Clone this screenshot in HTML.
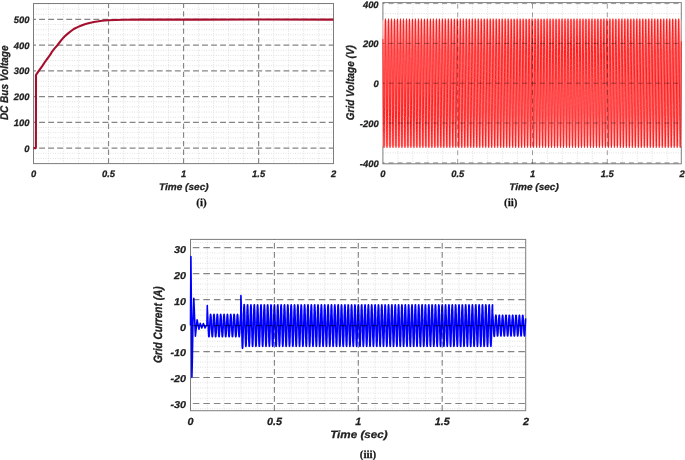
<!DOCTYPE html>
<html><head><meta charset="utf-8"><style>
html,body{margin:0;padding:0;background:#fff;}
svg{display:block;will-change:transform;}
text{font-family:"Liberation Sans",sans-serif;font-weight:bold;font-style:italic;fill:#222;stroke:#222;stroke-width:0.25px;text-rendering:geometricPrecision;}
text.cap{font-family:"Liberation Serif",serif;font-style:normal;font-weight:bold;fill:#111;}
</style></head><body>
<svg width="685" height="460" viewBox="0 0 685 460">
<g>
<rect width="685" height="460" fill="#fff"/>
<line x1="48.51" y1="163.6" x2="48.51" y2="3.5" stroke="#dadada" stroke-width="0.9" stroke-dasharray="0.9 1.5"/>
<line x1="63.51" y1="163.6" x2="63.51" y2="3.5" stroke="#dadada" stroke-width="0.9" stroke-dasharray="0.9 1.5"/>
<line x1="78.52" y1="163.6" x2="78.52" y2="3.5" stroke="#dadada" stroke-width="0.9" stroke-dasharray="0.9 1.5"/>
<line x1="93.53" y1="163.6" x2="93.53" y2="3.5" stroke="#dadada" stroke-width="0.9" stroke-dasharray="0.9 1.5"/>
<line x1="123.54" y1="163.6" x2="123.54" y2="3.5" stroke="#dadada" stroke-width="0.9" stroke-dasharray="0.9 1.5"/>
<line x1="138.55" y1="163.6" x2="138.55" y2="3.5" stroke="#dadada" stroke-width="0.9" stroke-dasharray="0.9 1.5"/>
<line x1="153.56" y1="163.6" x2="153.56" y2="3.5" stroke="#dadada" stroke-width="0.9" stroke-dasharray="0.9 1.5"/>
<line x1="168.56" y1="163.6" x2="168.56" y2="3.5" stroke="#dadada" stroke-width="0.9" stroke-dasharray="0.9 1.5"/>
<line x1="198.58" y1="163.6" x2="198.58" y2="3.5" stroke="#dadada" stroke-width="0.9" stroke-dasharray="0.9 1.5"/>
<line x1="213.58" y1="163.6" x2="213.58" y2="3.5" stroke="#dadada" stroke-width="0.9" stroke-dasharray="0.9 1.5"/>
<line x1="228.59" y1="163.6" x2="228.59" y2="3.5" stroke="#dadada" stroke-width="0.9" stroke-dasharray="0.9 1.5"/>
<line x1="243.6" y1="163.6" x2="243.6" y2="3.5" stroke="#dadada" stroke-width="0.9" stroke-dasharray="0.9 1.5"/>
<line x1="273.61" y1="163.6" x2="273.61" y2="3.5" stroke="#dadada" stroke-width="0.9" stroke-dasharray="0.9 1.5"/>
<line x1="288.62" y1="163.6" x2="288.62" y2="3.5" stroke="#dadada" stroke-width="0.9" stroke-dasharray="0.9 1.5"/>
<line x1="303.63" y1="163.6" x2="303.63" y2="3.5" stroke="#dadada" stroke-width="0.9" stroke-dasharray="0.9 1.5"/>
<line x1="318.63" y1="163.6" x2="318.63" y2="3.5" stroke="#dadada" stroke-width="0.9" stroke-dasharray="0.9 1.5"/>
<line x1="33.5" y1="158.4" x2="333.5" y2="158.4" stroke="#dadada" stroke-width="0.9" stroke-dasharray="0.9 1.5"/>
<line x1="33.5" y1="153.25" x2="333.5" y2="153.25" stroke="#dadada" stroke-width="0.9" stroke-dasharray="0.9 1.5"/>
<line x1="33.5" y1="142.95" x2="333.5" y2="142.95" stroke="#dadada" stroke-width="0.9" stroke-dasharray="0.9 1.5"/>
<line x1="33.5" y1="137.8" x2="333.5" y2="137.8" stroke="#dadada" stroke-width="0.9" stroke-dasharray="0.9 1.5"/>
<line x1="33.5" y1="132.66" x2="333.5" y2="132.66" stroke="#dadada" stroke-width="0.9" stroke-dasharray="0.9 1.5"/>
<line x1="33.5" y1="127.51" x2="333.5" y2="127.51" stroke="#dadada" stroke-width="0.9" stroke-dasharray="0.9 1.5"/>
<line x1="33.5" y1="117.21" x2="333.5" y2="117.21" stroke="#dadada" stroke-width="0.9" stroke-dasharray="0.9 1.5"/>
<line x1="33.5" y1="112.06" x2="333.5" y2="112.06" stroke="#dadada" stroke-width="0.9" stroke-dasharray="0.9 1.5"/>
<line x1="33.5" y1="106.92" x2="333.5" y2="106.92" stroke="#dadada" stroke-width="0.9" stroke-dasharray="0.9 1.5"/>
<line x1="33.5" y1="101.77" x2="333.5" y2="101.77" stroke="#dadada" stroke-width="0.9" stroke-dasharray="0.9 1.5"/>
<line x1="33.5" y1="91.47" x2="333.5" y2="91.47" stroke="#dadada" stroke-width="0.9" stroke-dasharray="0.9 1.5"/>
<line x1="33.5" y1="86.32" x2="333.5" y2="86.32" stroke="#dadada" stroke-width="0.9" stroke-dasharray="0.9 1.5"/>
<line x1="33.5" y1="81.18" x2="333.5" y2="81.18" stroke="#dadada" stroke-width="0.9" stroke-dasharray="0.9 1.5"/>
<line x1="33.5" y1="76.03" x2="333.5" y2="76.03" stroke="#dadada" stroke-width="0.9" stroke-dasharray="0.9 1.5"/>
<line x1="33.5" y1="65.73" x2="333.5" y2="65.73" stroke="#dadada" stroke-width="0.9" stroke-dasharray="0.9 1.5"/>
<line x1="33.5" y1="60.58" x2="333.5" y2="60.58" stroke="#dadada" stroke-width="0.9" stroke-dasharray="0.9 1.5"/>
<line x1="33.5" y1="55.44" x2="333.5" y2="55.44" stroke="#dadada" stroke-width="0.9" stroke-dasharray="0.9 1.5"/>
<line x1="33.5" y1="50.29" x2="333.5" y2="50.29" stroke="#dadada" stroke-width="0.9" stroke-dasharray="0.9 1.5"/>
<line x1="33.5" y1="39.99" x2="333.5" y2="39.99" stroke="#dadada" stroke-width="0.9" stroke-dasharray="0.9 1.5"/>
<line x1="33.5" y1="34.84" x2="333.5" y2="34.84" stroke="#dadada" stroke-width="0.9" stroke-dasharray="0.9 1.5"/>
<line x1="33.5" y1="29.7" x2="333.5" y2="29.7" stroke="#dadada" stroke-width="0.9" stroke-dasharray="0.9 1.5"/>
<line x1="33.5" y1="24.55" x2="333.5" y2="24.55" stroke="#dadada" stroke-width="0.9" stroke-dasharray="0.9 1.5"/>
<line x1="33.5" y1="14.25" x2="333.5" y2="14.25" stroke="#dadada" stroke-width="0.9" stroke-dasharray="0.9 1.5"/>
<line x1="33.5" y1="9.1" x2="333.5" y2="9.1" stroke="#dadada" stroke-width="0.9" stroke-dasharray="0.9 1.5"/>
<line x1="33.5" y1="3.96" x2="333.5" y2="3.96" stroke="#dadada" stroke-width="0.9" stroke-dasharray="0.9 1.5"/>
<line x1="108.53" y1="163.6" x2="108.53" y2="3.5" stroke="#858585" stroke-width="1.15" stroke-dasharray="5.4 3.25" stroke-dashoffset="0"/>
<line x1="183.57" y1="163.6" x2="183.57" y2="3.5" stroke="#858585" stroke-width="1.15" stroke-dasharray="5.4 3.25" stroke-dashoffset="0"/>
<line x1="258.61" y1="163.6" x2="258.61" y2="3.5" stroke="#858585" stroke-width="1.15" stroke-dasharray="5.4 3.25" stroke-dashoffset="0"/>
<line x1="33.5" y1="148.1" x2="333.5" y2="148.1" stroke="#858585" stroke-width="1.15" stroke-dasharray="5.9 3.15" stroke-dashoffset="3.44"/>
<line x1="33.5" y1="122.36" x2="333.5" y2="122.36" stroke="#858585" stroke-width="1.15" stroke-dasharray="5.9 3.15" stroke-dashoffset="3.44"/>
<line x1="33.5" y1="96.62" x2="333.5" y2="96.62" stroke="#858585" stroke-width="1.15" stroke-dasharray="5.9 3.15" stroke-dashoffset="3.44"/>
<line x1="33.5" y1="70.88" x2="333.5" y2="70.88" stroke="#858585" stroke-width="1.15" stroke-dasharray="5.9 3.15" stroke-dashoffset="3.44"/>
<line x1="33.5" y1="45.14" x2="333.5" y2="45.14" stroke="#858585" stroke-width="1.15" stroke-dasharray="5.9 3.15" stroke-dashoffset="3.44"/>
<line x1="33.5" y1="19.4" x2="333.5" y2="19.4" stroke="#858585" stroke-width="1.15" stroke-dasharray="5.9 3.15" stroke-dashoffset="3.44"/>
<rect x="33.5" y="3.5" width="300" height="160.1" fill="none" stroke="#7d7d7d" stroke-width="1.0"/>
<path d="M33.5 148.1 L35.7 148.1 L35.9 147 L36 75 L36.7 73.9 L39.7 69.7 L42.4 65.9 L45.4 61.3 L48.5 57.1 L50 55 L50.6 54.2 L51.9 51.8 L54.6 48.4 L57.6 45 L61.3 40.1 L64.5 36.5 L67.8 33.6 L71.1 31 L74.3 28.7 L77.6 27.1 L80.8 25.8 L84.1 24.5 L87.4 23.5 L90.6 22.7 L93.9 22 L97.2 21.5 L102 20.8 L107.6 20.3 L115.2 19.95 L124.4 19.7 L140 19.6 L200 19.6 L260 19.55 L333.4 19.6" fill="none" stroke="#a50f2d" stroke-width="2.1" stroke-linejoin="round"/>
<text x="29.5" y="151.5" font-size="9.4" text-anchor="end">0</text>
<text x="29.5" y="125.76" font-size="9.4" text-anchor="end">100</text>
<text x="29.5" y="100.02" font-size="9.4" text-anchor="end">200</text>
<text x="29.5" y="74.28" font-size="9.4" text-anchor="end">300</text>
<text x="29.5" y="48.54" font-size="9.4" text-anchor="end">400</text>
<text x="29.5" y="22.8" font-size="9.4" text-anchor="end">500</text>
<text x="33.5" y="177" font-size="9.4" text-anchor="middle">0</text>
<text x="108.53" y="177" font-size="9.4" text-anchor="middle">0.5</text>
<text x="183.57" y="177" font-size="9.4" text-anchor="middle">1</text>
<text x="258.61" y="177" font-size="9.4" text-anchor="middle">1.5</text>
<text x="333.64" y="177" font-size="9.4" text-anchor="middle">2</text>
<text transform="translate(183.8 189.8) scale(1.05 1)" font-size="9.6" text-anchor="middle">Time (sec)</text>
<text transform="translate(7.5 82.8) scale(1.12 1) rotate(-90)" font-size="10" text-anchor="middle">DC Bus Voltage</text>
<text x="201.5" y="205.8" font-size="11" text-anchor="middle" class="cap">(i)</text>
<line x1="397.86" y1="163.8" x2="397.86" y2="2.6" stroke="#dadada" stroke-width="0.9" stroke-dasharray="0.9 1.5"/>
<line x1="412.82" y1="163.8" x2="412.82" y2="2.6" stroke="#dadada" stroke-width="0.9" stroke-dasharray="0.9 1.5"/>
<line x1="427.78" y1="163.8" x2="427.78" y2="2.6" stroke="#dadada" stroke-width="0.9" stroke-dasharray="0.9 1.5"/>
<line x1="442.74" y1="163.8" x2="442.74" y2="2.6" stroke="#dadada" stroke-width="0.9" stroke-dasharray="0.9 1.5"/>
<line x1="472.66" y1="163.8" x2="472.66" y2="2.6" stroke="#dadada" stroke-width="0.9" stroke-dasharray="0.9 1.5"/>
<line x1="487.62" y1="163.8" x2="487.62" y2="2.6" stroke="#dadada" stroke-width="0.9" stroke-dasharray="0.9 1.5"/>
<line x1="502.58" y1="163.8" x2="502.58" y2="2.6" stroke="#dadada" stroke-width="0.9" stroke-dasharray="0.9 1.5"/>
<line x1="517.54" y1="163.8" x2="517.54" y2="2.6" stroke="#dadada" stroke-width="0.9" stroke-dasharray="0.9 1.5"/>
<line x1="547.46" y1="163.8" x2="547.46" y2="2.6" stroke="#dadada" stroke-width="0.9" stroke-dasharray="0.9 1.5"/>
<line x1="562.42" y1="163.8" x2="562.42" y2="2.6" stroke="#dadada" stroke-width="0.9" stroke-dasharray="0.9 1.5"/>
<line x1="577.38" y1="163.8" x2="577.38" y2="2.6" stroke="#dadada" stroke-width="0.9" stroke-dasharray="0.9 1.5"/>
<line x1="592.34" y1="163.8" x2="592.34" y2="2.6" stroke="#dadada" stroke-width="0.9" stroke-dasharray="0.9 1.5"/>
<line x1="622.26" y1="163.8" x2="622.26" y2="2.6" stroke="#dadada" stroke-width="0.9" stroke-dasharray="0.9 1.5"/>
<line x1="637.22" y1="163.8" x2="637.22" y2="2.6" stroke="#dadada" stroke-width="0.9" stroke-dasharray="0.9 1.5"/>
<line x1="652.18" y1="163.8" x2="652.18" y2="2.6" stroke="#dadada" stroke-width="0.9" stroke-dasharray="0.9 1.5"/>
<line x1="667.14" y1="163.8" x2="667.14" y2="2.6" stroke="#dadada" stroke-width="0.9" stroke-dasharray="0.9 1.5"/>
<line x1="382.9" y1="152.85" x2="681.3" y2="152.85" stroke="#dadada" stroke-width="0.9" stroke-dasharray="0.9 1.5"/>
<line x1="382.9" y1="142.9" x2="681.3" y2="142.9" stroke="#dadada" stroke-width="0.9" stroke-dasharray="0.9 1.5"/>
<line x1="382.9" y1="132.95" x2="681.3" y2="132.95" stroke="#dadada" stroke-width="0.9" stroke-dasharray="0.9 1.5"/>
<line x1="382.9" y1="113.05" x2="681.3" y2="113.05" stroke="#dadada" stroke-width="0.9" stroke-dasharray="0.9 1.5"/>
<line x1="382.9" y1="103.1" x2="681.3" y2="103.1" stroke="#dadada" stroke-width="0.9" stroke-dasharray="0.9 1.5"/>
<line x1="382.9" y1="93.15" x2="681.3" y2="93.15" stroke="#dadada" stroke-width="0.9" stroke-dasharray="0.9 1.5"/>
<line x1="382.9" y1="73.25" x2="681.3" y2="73.25" stroke="#dadada" stroke-width="0.9" stroke-dasharray="0.9 1.5"/>
<line x1="382.9" y1="63.3" x2="681.3" y2="63.3" stroke="#dadada" stroke-width="0.9" stroke-dasharray="0.9 1.5"/>
<line x1="382.9" y1="53.35" x2="681.3" y2="53.35" stroke="#dadada" stroke-width="0.9" stroke-dasharray="0.9 1.5"/>
<line x1="382.9" y1="33.45" x2="681.3" y2="33.45" stroke="#dadada" stroke-width="0.9" stroke-dasharray="0.9 1.5"/>
<line x1="382.9" y1="23.5" x2="681.3" y2="23.5" stroke="#dadada" stroke-width="0.9" stroke-dasharray="0.9 1.5"/>
<line x1="382.9" y1="13.55" x2="681.3" y2="13.55" stroke="#dadada" stroke-width="0.9" stroke-dasharray="0.9 1.5"/>
<rect x="382.9" y="2.6" width="298.4" height="161.2" fill="none" stroke="#7d7d7d" stroke-width="1.0"/>
<defs><linearGradient id="sg" x1="0" y1="0" x2="0" y2="1"><stop offset="0" stop-color="#ffd0d0"/><stop offset="0.25" stop-color="#ff9c9c"/><stop offset="0.75" stop-color="#ff9c9c"/><stop offset="1" stop-color="#ffd0d0"/></linearGradient></defs>
<rect x="382.3" y="20.32" width="299" height="125.77" fill="url(#sg)"/>
<path d="M382.9 39.1L382.9 42.9L383.0 46.9L383.0 51.2L383.0 55.7L383.1 60.3L383.1 65.1L383.2 70.0L383.2 75.0L383.2 80.0L383.3 85.1L383.3 90.1L383.3 95.1L383.4 100.1L383.4 104.9L383.5 109.6L383.5 114.1L383.5 118.4L383.6 122.5L383.6 126.4L383.6 130.0L383.7 133.3L383.7 136.4L383.8 139.1L383.8 141.4L383.8 143.4L383.9 145.0L383.9 146.3L383.9 147.1L384.0 147.6L384.0 147.7L384.1 147.3L384.1 146.6L384.1 145.5L384.2 144.0L384.2 142.1L384.2 139.9L384.3 137.4L384.3 134.4L384.4 131.2L384.4 127.7L384.4 123.9L384.5 119.9L384.5 115.6L384.5 111.2L384.6 106.5L384.6 101.8L384.7 96.9L384.7 91.9L384.7 86.9L384.8 81.8L384.8 76.8L384.8 71.8L384.9 66.8L384.9 62.0L385.0 57.3L385.0 52.8L385.0 48.4L385.1 44.3L385.1 40.4L385.1 36.7L385.2 33.4L385.2 30.3L385.3 27.6L385.3 25.2L385.3 23.2L385.4 21.5L385.4 20.2L385.4 19.3L385.5 18.8L385.5 18.7L385.5 19.0L385.6 19.7L385.6 20.8L385.7 22.2L385.7 24.0L385.7 26.2L385.8 28.8L385.8 31.6L385.8 34.8L385.9 38.3L385.9 42.1L386.0 46.1L386.0 50.3L386.0 54.8L386.1 59.4L386.1 64.1L386.1 69.0L386.2 74.0L386.2 79.0L386.3 84.1L386.3 89.1L386.3 94.1L386.4 99.1L386.4 103.9L386.4 108.6L386.5 113.2L386.5 117.5L386.6 121.7L386.6 125.6L386.6 129.3L386.7 132.7L386.7 135.8L386.7 138.5L386.8 141.0L386.8 143.0L386.9 144.7L386.9 146.0L386.9 147.0L387.0 147.5L387.0 147.7L387.0 147.4L387.1 146.8L387.1 145.8L387.2 144.3L387.2 142.6L387.2 140.4L387.3 137.9L387.3 135.1L387.3 131.9L387.4 128.5L387.4 124.7L387.5 120.7L387.5 116.5L387.5 112.1L387.6 107.5L387.6 102.7L387.6 97.9L387.7 92.9L387.7 87.9L387.7 82.9L387.8 77.8L387.8 72.8L387.9 67.8L387.9 63.0L387.9 58.3L388.0 53.7L388.0 49.3L388.0 45.1L388.1 41.2L388.1 37.5L388.2 34.0L388.2 30.9L388.2 28.1L388.3 25.7L388.3 23.6L388.3 21.8L388.4 20.5L388.4 19.5L388.5 18.9L388.5 18.7L388.5 18.9L388.6 19.5L388.6 20.5L388.6 21.9L388.7 23.6L388.7 25.8L388.8 28.2L388.8 31.0L388.8 34.2L388.9 37.6L388.9 41.3L388.9 45.2L389.0 49.4L389.0 53.8L389.1 58.4L389.1 63.2L389.1 68.0L389.2 73.0L389.2 78.0L389.2 83.0L389.3 88.1L389.3 93.1L389.4 98.0L389.4 102.9L389.4 107.7L389.5 112.3L389.5 116.7L389.5 120.9L389.6 124.9L389.6 128.6L389.7 132.0L389.7 135.2L389.7 138.0L389.8 140.5L389.8 142.6L389.8 144.4L389.9 145.8L389.9 146.8L390.0 147.4L390.0 147.7L390.0 147.5L390.1 147.0L390.1 146.0L390.1 144.7L390.2 143.0L390.2 140.9L390.2 138.4L390.3 135.7L390.3 132.6L390.4 129.2L390.4 125.5L390.4 121.6L390.5 117.4L390.5 113.0L390.5 108.4L390.6 103.7L390.6 98.9L390.7 93.9L390.7 88.9L390.7 83.9L390.8 78.8L390.8 73.8L390.8 68.9L390.9 64.0L390.9 59.2L391.0 54.6L391.0 50.2L391.0 45.9L391.1 41.9L391.1 38.2L391.1 34.7L391.2 31.5L391.2 28.7L391.3 26.1L391.3 24.0L391.3 22.2L391.4 20.7L391.4 19.7L391.4 19.0L391.5 18.7L391.5 18.9L391.6 19.4L391.6 20.3L391.6 21.6L391.7 23.3L391.7 25.3L391.7 27.7L391.8 30.4L391.8 33.5L391.9 36.9L391.9 40.5L391.9 44.4L392.0 48.6L392.0 52.9L392.0 57.5L392.1 62.2L392.1 67.0L392.2 72.0L392.2 77.0L392.2 82.0L392.3 87.0L392.3 92.1L392.3 97.0L392.4 101.9L392.4 106.7L392.4 111.3L392.5 115.8L392.5 120.0L392.6 124.1L392.6 127.8L392.6 131.3L392.7 134.6L392.7 137.4L392.7 140.0L392.8 142.2L392.8 144.1L392.9 145.5L392.9 146.6L392.9 147.3L393.0 147.7L393.0 147.6L393.0 147.1L393.1 146.2L393.1 145.0L393.2 143.3L393.2 141.3L393.2 139.0L393.3 136.3L393.3 133.2L393.3 129.9L393.4 126.3L393.4 122.4L393.5 118.3L393.5 113.9L393.5 109.4L393.6 104.7L393.6 99.9L393.6 95.0L393.7 90.0L393.7 84.9L393.8 79.9L393.8 74.8L393.8 69.9L393.9 65.0L393.9 60.2L393.9 55.5L394.0 51.1L394.0 46.8L394.1 42.7L394.1 38.9L394.1 35.4L394.2 32.2L394.2 29.2L394.2 26.6L394.3 24.4L394.3 22.5L394.4 21.0L394.4 19.9L394.4 19.1L394.5 18.8L394.5 18.8L394.5 19.2L394.6 20.1L394.6 21.3L394.7 22.9L394.7 24.8L394.7 27.2L394.8 29.8L394.8 32.8L394.8 36.1L394.9 39.7L394.9 43.6L394.9 47.7L395.0 52.0L395.0 56.5L395.1 61.2L395.1 66.0L395.1 70.9L395.2 75.9L395.2 81.0L395.2 86.0L395.3 91.0L395.3 96.0L395.4 100.9L395.4 105.7L395.4 110.4L395.5 114.9L395.5 119.2L395.5 123.3L395.6 127.1L395.6 130.7L395.7 133.9L395.7 136.9L395.7 139.5L395.8 141.8L395.8 143.7L395.8 145.3L395.9 146.4L395.9 147.2L396.0 147.6L396.0 147.6L396.0 147.2L396.1 146.4L396.1 145.3L396.1 143.7L396.2 141.8L396.2 139.5L396.3 136.8L396.3 133.9L396.3 130.6L396.4 127.0L396.4 123.2L396.4 119.1L396.5 114.8L396.5 110.3L396.6 105.7L396.6 100.9L396.6 96.0L396.7 91.0L396.7 85.9L396.7 80.9L396.8 75.9L396.8 70.9L396.9 66.0L396.9 61.1L396.9 56.5L397.0 52.0L397.0 47.6L397.0 43.5L397.1 39.7L397.1 36.1L397.2 32.8L397.2 29.8L397.2 27.1L397.3 24.8L397.3 22.9L397.3 21.3L397.4 20.1L397.4 19.2L397.4 18.8L397.5 18.8L397.5 19.1L397.6 19.9L397.6 21.0L397.6 22.5L397.7 24.4L397.7 26.7L397.7 29.3L397.8 32.2L397.8 35.4L397.9 39.0L397.9 42.8L397.9 46.8L398.0 51.1L398.0 55.6L398.0 60.2L398.1 65.0L398.1 69.9L398.2 74.9L398.2 79.9L398.2 85.0L398.3 90.0L398.3 95.0L398.3 99.9L398.4 104.8L398.4 109.5L398.5 114.0L398.5 118.3L398.5 122.4L398.6 126.3L398.6 129.9L398.6 133.3L398.7 136.3L398.7 139.0L398.8 141.4L398.8 143.4L398.8 145.0L398.9 146.2L398.9 147.1L398.9 147.6L399.0 147.7L399.0 147.3L399.1 146.6L399.1 145.5L399.1 144.0L399.2 142.2L399.2 140.0L399.2 137.4L399.3 134.5L399.3 131.3L399.4 127.8L399.4 124.0L399.4 120.0L399.5 115.7L399.5 111.3L399.5 106.6L399.6 101.9L399.6 97.0L399.6 92.0L399.7 87.0L399.7 81.9L399.8 76.9L399.8 71.9L399.8 67.0L399.9 62.1L399.9 57.4L399.9 52.9L400.0 48.5L400.0 44.4L400.1 40.5L400.1 36.8L400.1 33.4L400.2 30.4L400.2 27.7L400.2 25.3L400.3 23.2L400.3 21.6L400.4 20.3L400.4 19.4L400.4 18.9L400.5 18.7L400.5 19.0L400.5 19.7L400.6 20.7L400.6 22.2L400.7 24.0L400.7 26.2L400.7 28.7L400.8 31.6L400.8 34.8L400.8 38.2L400.9 42.0L400.9 46.0L401.0 50.2L401.0 54.7L401.0 59.3L401.1 64.0L401.1 68.9L401.1 73.9L401.2 78.9L401.2 84.0L401.3 89.0L401.3 94.0L401.3 98.9L401.4 103.8L401.4 108.5L401.4 113.1L401.5 117.5L401.5 121.6L401.6 125.6L401.6 129.2L401.6 132.6L401.7 135.7L401.7 138.5L401.7 140.9L401.8 143.0L401.8 144.7L401.9 146.0L401.9 147.0L401.9 147.5L402.0 147.7L402.0 147.4L402.0 146.8L402.1 145.8L402.1 144.4L402.1 142.6L402.2 140.5L402.2 138.0L402.3 135.1L402.3 132.0L402.3 128.5L402.4 124.8L402.4 120.8L402.4 116.6L402.5 112.2L402.5 107.6L402.6 102.9L402.6 98.0L402.6 93.0L402.7 88.0L402.7 83.0L402.7 77.9L402.8 72.9L402.8 68.0L402.9 63.1L402.9 58.4L402.9 53.8L403.0 49.4L403.0 45.2L403.0 41.2L403.1 37.5L403.1 34.1L403.2 31.0L403.2 28.2L403.2 25.7L403.3 23.6L403.3 21.9L403.3 20.5L403.4 19.5L403.4 18.9L403.5 18.7L403.5 18.9L403.5 19.5L403.6 20.5L403.6 21.9L403.6 23.6L403.7 25.7L403.7 28.2L403.8 31.0L403.8 34.1L403.8 37.5L403.9 41.2L403.9 45.2L403.9 49.3L404.0 53.7L404.0 58.3L404.1 63.1L404.1 67.9L404.1 72.9L404.2 77.9L404.2 82.9L404.2 88.0L404.3 93.0L404.3 97.9L404.4 102.8L404.4 107.6L404.4 112.2L404.5 116.6L404.5 120.8L404.5 124.8L404.6 128.5L404.6 132.0L404.6 135.1L404.7 137.9L404.7 140.4L404.8 142.6L404.8 144.4L404.8 145.8L404.9 146.8L404.9 147.4L404.9 147.7L405.0 147.5L405.0 147.0L405.1 146.0L405.1 144.7L405.1 143.0L405.2 140.9L405.2 138.5L405.2 135.7L405.3 132.7L405.3 129.3L405.4 125.6L405.4 121.7L405.4 117.5L405.5 113.1L405.5 108.5L405.5 103.8L405.6 99.0L405.6 94.0L405.7 89.0L405.7 84.0L405.7 78.9L405.8 73.9L405.8 69.0L405.8 64.1L405.9 59.3L405.9 54.7L406.0 50.3L406.0 46.0L406.0 42.0L406.1 38.3L406.1 34.8L406.1 31.6L406.2 28.7L406.2 26.2L406.3 24.0L406.3 22.2L406.3 20.8L406.4 19.7L406.4 19.0L406.4 18.7L406.5 18.8L406.5 19.4L406.6 20.3L406.6 21.5L406.6 23.2L406.7 25.2L406.7 27.6L406.7 30.4L406.8 33.4L406.8 36.8L406.8 40.4L406.9 44.3L406.9 48.5L407.0 52.8L407.0 57.4L407.0 62.1L407.1 66.9L407.1 71.8L407.1 76.8L407.2 81.9L407.2 86.9L407.3 92.0L407.3 96.9L407.3 101.8L407.4 106.6L407.4 111.2L407.4 115.7L407.5 119.9L407.5 124.0L407.6 127.8L407.6 131.3L407.6 134.5L407.7 137.4L407.7 140.0L407.7 142.2L407.8 144.0L407.8 145.5L407.9 146.6L407.9 147.3L407.9 147.7L408.0 147.6L408.0 147.1L408.0 146.3L408.1 145.0L408.1 143.4L408.2 141.4L408.2 139.0L408.2 136.3L408.3 133.3L408.3 130.0L408.3 126.4L408.4 122.5L408.4 118.4L408.5 114.0L408.5 109.5L408.5 104.8L408.6 100.0L408.6 95.1L408.6 90.1L408.7 85.0L408.7 80.0L408.8 75.0L408.8 70.0L408.8 65.1L408.9 60.3L408.9 55.6L408.9 51.2L409.0 46.9L409.0 42.8L409.1 39.0L409.1 35.5L409.1 32.2L409.2 29.3L409.2 26.7L409.2 24.4L409.3 22.5L409.3 21.0L409.3 19.9L409.4 19.1L409.4 18.8L409.5 18.8L409.5 19.2L409.5 20.0L409.6 21.3L409.6 22.8L409.6 24.8L409.7 27.1L409.7 29.8L409.8 32.8L409.8 36.1L409.8 39.7L409.9 43.5L409.9 47.6L409.9 51.9L410.0 56.4L410.0 61.1L410.1 65.9L410.1 70.8L410.1 75.8L410.2 80.9L410.2 85.9L410.2 90.9L410.3 95.9L410.3 100.8L410.4 105.6L410.4 110.3L410.4 114.8L410.5 119.1L410.5 123.2L410.5 127.0L410.6 130.6L410.6 133.9L410.7 136.8L410.7 139.5L410.7 141.7L410.8 143.7L410.8 145.2L410.8 146.4L410.9 147.2L410.9 147.6L411.0 147.6L411.0 147.2L411.0 146.5L411.1 145.3L411.1 143.7L411.1 141.8L411.2 139.5L411.2 136.9L411.3 134.0L411.3 130.7L411.3 127.1L411.4 123.3L411.4 119.2L411.4 114.9L411.5 110.4L411.5 105.8L411.5 101.0L411.6 96.1L411.6 91.1L411.7 86.1L411.7 81.0L411.7 76.0L411.8 71.0L411.8 66.1L411.8 61.3L411.9 56.6L411.9 52.1L412.0 47.7L412.0 43.6L412.0 39.8L412.1 36.2L412.1 32.9L412.1 29.9L412.2 27.2L412.2 24.9L412.3 22.9L412.3 21.3L412.3 20.1L412.4 19.2L412.4 18.8L412.4 18.8L412.5 19.1L412.5 19.8L412.6 21.0L412.6 22.5L412.6 24.4L412.7 26.6L412.7 29.2L412.7 32.1L412.8 35.4L412.8 38.9L412.9 42.7L412.9 46.8L412.9 51.0L413.0 55.5L413.0 60.1L413.0 64.9L413.1 69.8L413.1 74.8L413.2 79.8L413.2 84.9L413.2 89.9L413.3 94.9L413.3 99.8L413.3 104.7L413.4 109.4L413.4 113.9L413.5 118.2L413.5 122.4L413.5 126.2L413.6 129.9L413.6 133.2L413.6 136.2L413.7 138.9L413.7 141.3L413.8 143.3L413.8 145.0L413.8 146.2L413.9 147.1L413.9 147.6L413.9 147.7L414.0 147.4L414.0 146.7L414.0 145.6L414.1 144.1L414.1 142.2L414.2 140.0L414.2 137.5L414.2 134.6L414.3 131.4L414.3 127.9L414.3 124.1L414.4 120.1L414.4 115.8L414.5 111.4L414.5 106.7L414.5 102.0L414.6 97.1L414.6 92.1L414.6 87.1L414.7 82.0L414.7 77.0L414.8 72.0L414.8 67.1L414.8 62.2L414.9 57.5L414.9 53.0L414.9 48.6L415.0 44.5L415.0 40.5L415.1 36.9L415.1 33.5L415.1 30.5L415.2 27.7L415.2 25.3L415.2 23.3L415.3 21.6L415.3 20.3L415.4 19.4L415.4 18.9L415.4 18.7L415.5 19.0L415.5 19.7L415.5 20.7L415.6 22.1L415.6 24.0L415.7 26.1L415.7 28.7L415.7 31.5L415.8 34.7L415.8 38.2L415.8 41.9L415.9 45.9L415.9 50.1L416.0 54.6L416.0 59.2L416.0 63.9L416.1 68.8L416.1 73.8L416.1 78.8L416.2 83.8L416.2 88.9L416.3 93.9L416.3 98.8L416.3 103.7L416.4 108.4L416.4 113.0L416.4 117.4L416.5 121.5L416.5 125.5L416.5 129.2L416.6 132.5L416.6 135.6L416.7 138.4L416.7 140.9L416.7 142.9L416.8 144.7L416.8 146.0L416.8 146.9L416.9 147.5L416.9 147.7L417.0 147.4L417.0 146.8L417.0 145.8L417.1 144.4L417.1 142.6L417.1 140.5L417.2 138.0L417.2 135.2L417.3 132.1L417.3 128.6L417.3 124.9L417.4 120.9L417.4 116.7L417.4 112.3L417.5 107.7L417.5 103.0L417.6 98.1L417.6 93.1L417.6 88.1L417.7 83.1L417.7 78.0L417.7 73.0L417.8 68.1L417.8 63.2L417.9 58.5L417.9 53.9L417.9 49.5L418.0 45.3L418.0 41.3L418.0 37.6L418.1 34.2L418.1 31.1L418.2 28.2L418.2 25.8L418.2 23.7L418.3 21.9L418.3 20.5L418.3 19.5L418.4 18.9L418.4 18.7L418.5 18.9L418.5 19.5L418.5 20.5L418.6 21.8L418.6 23.6L418.6 25.7L418.7 28.1L418.7 30.9L418.7 34.0L418.8 37.4L418.8 41.1L418.9 45.1L418.9 49.3L418.9 53.6L419.0 58.2L419.0 63.0L419.0 67.8L419.1 72.8L419.1 77.8L419.2 82.8L419.2 87.9L419.2 92.9L419.3 97.8L419.3 102.7L419.3 107.4L419.4 112.1L419.4 116.5L419.5 120.7L419.5 124.7L419.5 128.4L419.6 131.9L419.6 135.0L419.6 137.9L419.7 140.4L419.7 142.5L419.8 144.3L419.8 145.7L419.8 146.8L419.9 147.4L419.9 147.7L419.9 147.5L420.0 147.0L420.0 146.1L420.1 144.7L420.1 143.0L420.1 141.0L420.2 138.6L420.2 135.8L420.2 132.7L420.3 129.3L420.3 125.7L420.4 121.7L420.4 117.6L420.4 113.2L420.5 108.7L420.5 103.9L420.5 99.1L420.6 94.2L420.6 89.2L420.7 84.1L420.7 79.1L420.7 74.0L420.8 69.1L420.8 64.2L420.8 59.4L420.9 54.8L420.9 50.4L421.0 46.1L421.0 42.1L421.0 38.3L421.1 34.9L421.1 31.7L421.1 28.8L421.2 26.3L421.2 24.1L421.2 22.2L421.3 20.8L421.3 19.7L421.4 19.0L421.4 18.7L421.4 18.8L421.5 19.3L421.5 20.2L421.5 21.5L421.6 23.2L421.6 25.2L421.7 27.6L421.7 30.3L421.7 33.3L421.8 36.7L421.8 40.3L421.8 44.2L421.9 48.4L421.9 52.7L422.0 57.3L422.0 62.0L422.0 66.8L422.1 71.7L422.1 76.7L422.1 81.8L422.2 86.8L422.2 91.8L422.3 96.8L422.3 101.7L422.3 106.5L422.4 111.1L422.4 115.6L422.4 119.9L422.5 123.9L422.5 127.7L422.6 131.2L422.6 134.4L422.6 137.3L422.7 139.9L422.7 142.1L422.7 144.0L422.8 145.5L422.8 146.6L422.9 147.3L422.9 147.7L422.9 147.6L423.0 147.1L423.0 146.3L423.0 145.0L423.1 143.4L423.1 141.4L423.2 139.1L423.2 136.4L423.2 133.4L423.3 130.1L423.3 126.4L423.3 122.6L423.4 118.5L423.4 114.1L423.5 109.6L423.5 104.9L423.5 100.1L423.6 95.2L423.6 90.2L423.6 85.1L423.7 80.1L423.7 75.1L423.7 70.1L423.8 65.2L423.8 60.4L423.9 55.7L423.9 51.3L423.9 47.0L424.0 42.9L424.0 39.1L424.0 35.6L424.1 32.3L424.1 29.4L424.2 26.7L424.2 24.5L424.2 22.6L424.3 21.0L424.3 19.9L424.3 19.1L424.4 18.8L424.4 18.8L424.5 19.2L424.5 20.0L424.5 21.2L424.6 22.8L424.6 24.8L424.6 27.1L424.7 29.7L424.7 32.7L424.8 36.0L424.8 39.6L424.8 43.4L424.9 47.5L424.9 51.8L424.9 56.3L425.0 61.0L425.0 65.8L425.1 70.7L425.1 75.7L425.1 80.7L425.2 85.8L425.2 90.8L425.2 95.8L425.3 100.7L425.3 105.5L425.4 110.2L425.4 114.7L425.4 119.0L425.5 123.1L425.5 126.9L425.5 130.5L425.6 133.8L425.6 136.8L425.7 139.4L425.7 141.7L425.7 143.6L425.8 145.2L425.8 146.4L425.8 147.2L425.9 147.6L425.9 147.6L425.9 147.3L426.0 146.5L426.0 145.3L426.1 143.8L426.1 141.9L426.1 139.6L426.2 137.0L426.2 134.0L426.2 130.8L426.3 127.2L426.3 123.4L426.4 119.3L426.4 115.0L426.4 110.5L426.5 105.9L426.5 101.1L426.5 96.2L426.6 91.2L426.6 86.2L426.7 81.1L426.7 76.1L426.7 71.1L426.8 66.2L426.8 61.4L426.8 56.7L426.9 52.2L426.9 47.8L427.0 43.7L427.0 39.9L427.0 36.3L427.1 32.9L427.1 29.9L427.1 27.3L427.2 24.9L427.2 22.9L427.3 21.3L427.3 20.1L427.3 19.3L427.4 18.8L427.4 18.7L427.4 19.1L427.5 19.8L427.5 20.9L427.6 22.4L427.6 24.3L427.6 26.6L427.7 29.1L427.7 32.1L427.7 35.3L427.8 38.8L427.8 42.6L427.9 46.7L427.9 50.9L427.9 55.4L428.0 60.0L428.0 64.8L428.0 69.7L428.1 74.7L428.1 79.7L428.2 84.8L428.2 89.8L428.2 94.8L428.3 99.7L428.3 104.6L428.3 109.2L428.4 113.8L428.4 118.1L428.4 122.3L428.5 126.2L428.5 129.8L428.6 133.1L428.6 136.2L428.6 138.9L428.7 141.3L428.7 143.3L428.7 144.9L428.8 146.2L428.8 147.1L428.9 147.6L428.9 147.7L428.9 147.4L429.0 146.7L429.0 145.6L429.0 144.1L429.1 142.3L429.1 140.1L429.2 137.5L429.2 134.6L429.2 131.5L429.3 128.0L429.3 124.2L429.3 120.2L429.4 115.9L429.4 111.5L429.5 106.8L429.5 102.1L429.5 97.2L429.6 92.2L429.6 87.2L429.6 82.2L429.7 77.1L429.7 72.1L429.8 67.2L429.8 62.3L429.8 57.6L429.9 53.1L429.9 48.7L429.9 44.5L430.0 40.6L430.0 37.0L430.1 33.6L430.1 30.5L430.1 27.8L430.2 25.4L430.2 23.3L430.2 21.6L430.3 20.3L430.3 19.4L430.4 18.9L430.4 18.7L430.4 19.0L430.5 19.6L430.5 20.7L430.5 22.1L430.6 23.9L430.6 26.1L430.6 28.6L430.7 31.4L430.7 34.6L430.8 38.1L430.8 41.8L430.8 45.8L430.9 50.0L430.9 54.5L430.9 59.1L431.0 63.8L431.0 68.7L431.1 73.7L431.1 78.7L431.1 83.7L431.2 88.8L431.2 93.8L431.2 98.7L431.3 103.6L431.3 108.3L431.4 112.9L431.4 117.3L431.4 121.4L431.5 125.4L431.5 129.1L431.5 132.5L431.6 135.6L431.6 138.4L431.7 140.8L431.7 142.9L431.7 144.6L431.8 146.0L431.8 146.9L431.8 147.5L431.9 147.7L431.9 147.5L432.0 146.8L432.0 145.8L432.0 144.5L432.1 142.7L432.1 140.6L432.1 138.1L432.2 135.3L432.2 132.1L432.3 128.7L432.3 125.0L432.3 121.0L432.4 116.8L432.4 112.4L432.4 107.8L432.5 103.1L432.5 98.2L432.6 93.3L432.6 88.2L432.6 83.2L432.7 78.1L432.7 73.1L432.7 68.2L432.8 63.3L432.8 58.6L432.9 54.0L432.9 49.6L432.9 45.4L433.0 41.4L433.0 37.7L433.0 34.3L433.1 31.1L433.1 28.3L433.1 25.8L433.2 23.7L433.2 21.9L433.3 20.6L433.3 19.6L433.3 18.9L433.4 18.7L433.4 18.9L433.4 19.5L433.5 20.4L433.5 21.8L433.6 23.5L433.6 25.6L433.6 28.0L433.7 30.8L433.7 33.9L433.7 37.3L433.8 41.0L433.8 45.0L433.9 49.2L433.9 53.5L433.9 58.1L434.0 62.8L434.0 67.7L434.0 72.6L434.1 77.6L434.1 82.7L434.2 87.7L434.2 92.8L434.2 97.7L434.3 102.6L434.3 107.3L434.3 112.0L434.4 116.4L434.4 120.6L434.5 124.6L434.5 128.3L434.5 131.8L434.6 135.0L434.6 137.8L434.6 140.3L434.7 142.5L434.7 144.3L434.8 145.7L434.8 146.8L434.8 147.4L434.9 147.7L434.9 147.5L434.9 147.0L435.0 146.1L435.0 144.8L435.1 143.1L435.1 141.0L435.1 138.6L435.2 135.9L435.2 132.8L435.2 129.4L435.3 125.8L435.3 121.8L435.4 117.7L435.4 113.3L435.4 108.8L435.5 104.0L435.5 99.2L435.5 94.3L435.6 89.3L435.6 84.2L435.6 79.2L435.7 74.2L435.7 69.2L435.8 64.3L435.8 59.5L435.8 54.9L435.9 50.5L435.9 46.2L435.9 42.2L436.0 38.4L436.0 34.9L436.1 31.7L436.1 28.9L436.1 26.3L436.2 24.1L436.2 22.3L436.2 20.8L436.3 19.7L436.3 19.0L436.4 18.7L436.4 18.8L436.4 19.3L436.5 20.2L436.5 21.5L436.5 23.1L436.6 25.1L436.6 27.5L436.7 30.2L436.7 33.3L436.7 36.6L436.8 40.3L436.8 44.2L436.8 48.3L436.9 52.6L436.9 57.2L437.0 61.9L437.0 66.7L437.0 71.6L437.1 76.6L437.1 81.7L437.1 86.7L437.2 91.7L437.2 96.7L437.3 101.6L437.3 106.4L437.3 111.0L437.4 115.5L437.4 119.8L437.4 123.8L437.5 127.6L437.5 131.1L437.6 134.3L437.6 137.3L437.6 139.8L437.7 142.1L437.7 144.0L437.7 145.5L437.8 146.6L437.8 147.3L437.8 147.7L437.9 147.6L437.9 147.1L438.0 146.3L438.0 145.1L438.0 143.5L438.1 141.5L438.1 139.1L438.1 136.5L438.2 133.4L438.2 130.1L438.3 126.5L438.3 122.7L438.3 118.5L438.4 114.2L438.4 109.7L438.4 105.0L438.5 100.2L438.5 95.3L438.6 90.3L438.6 85.3L438.6 80.2L438.7 75.2L438.7 70.2L438.7 65.3L438.8 60.5L438.8 55.8L438.9 51.4L438.9 47.1L438.9 43.0L439.0 39.2L439.0 35.6L439.0 32.4L439.1 29.4L439.1 26.8L439.2 24.5L439.2 22.6L439.2 21.1L439.3 19.9L439.3 19.1L439.3 18.8L439.4 18.8L439.4 19.2L439.5 20.0L439.5 21.2L439.5 22.8L439.6 24.7L439.6 27.0L439.6 29.7L439.7 32.6L439.7 35.9L439.8 39.5L439.8 43.3L439.8 47.4L439.9 51.7L439.9 56.2L439.9 60.9L440.0 65.7L440.0 70.6L440.1 75.6L440.1 80.6L440.1 85.7L440.2 90.7L440.2 95.7L440.2 100.6L440.3 105.4L440.3 110.1L440.3 114.6L440.4 118.9L440.4 123.0L440.5 126.8L440.5 130.4L440.5 133.7L440.6 136.7L440.6 139.3L440.6 141.7L440.7 143.6L440.7 145.2L440.8 146.4L440.8 147.2L440.8 147.6L440.9 147.6L440.9 147.3L440.9 146.5L441.0 145.3L441.0 143.8L441.1 141.9L441.1 139.6L441.1 137.0L441.2 134.1L441.2 130.8L441.2 127.3L441.3 123.5L441.3 119.4L441.4 115.1L441.4 110.6L441.4 106.0L441.5 101.2L441.5 96.3L441.5 91.3L441.6 86.3L441.6 81.2L441.7 76.2L441.7 71.2L441.7 66.3L441.8 61.5L441.8 56.8L441.8 52.3L441.9 47.9L441.9 43.8L442.0 39.9L442.0 36.3L442.0 33.0L442.1 30.0L442.1 27.3L442.1 25.0L442.2 23.0L442.2 21.4L442.3 20.1L442.3 19.3L442.3 18.8L442.4 18.7L442.4 19.1L442.4 19.8L442.5 20.9L442.5 22.4L442.6 24.3L442.6 26.5L442.6 29.1L442.7 32.0L442.7 35.2L442.7 38.7L442.8 42.5L442.8 46.6L442.8 50.8L442.9 55.3L442.9 59.9L443.0 64.7L443.0 69.6L443.0 74.6L443.1 79.6L443.1 84.6L443.1 89.7L443.2 94.7L443.2 99.6L443.3 104.4L443.3 109.1L443.3 113.7L443.4 118.0L443.4 122.2L443.4 126.1L443.5 129.7L443.5 133.1L443.6 136.1L443.6 138.8L443.6 141.2L443.7 143.2L443.7 144.9L443.7 146.2L443.8 147.1L443.8 147.6L443.9 147.7L443.9 147.4L443.9 146.7L444.0 145.6L444.0 144.2L444.0 142.3L444.1 140.1L444.1 137.6L444.2 134.7L444.2 131.5L444.2 128.0L444.3 124.3L444.3 120.3L444.3 116.0L444.4 111.6L444.4 107.0L444.5 102.2L444.5 97.3L444.5 92.3L444.6 87.3L444.6 82.3L444.6 77.2L444.7 72.2L444.7 67.3L444.8 62.4L444.8 57.7L444.8 53.2L444.9 48.8L444.9 44.6L444.9 40.7L445.0 37.0L445.0 33.7L445.0 30.6L445.1 27.8L445.1 25.4L445.2 23.4L445.2 21.7L445.2 20.3L445.3 19.4L445.3 18.9L445.3 18.7L445.4 19.0L445.4 19.6L445.5 20.7L445.5 22.1L445.5 23.9L445.6 26.0L445.6 28.5L445.6 31.4L445.7 34.5L445.7 38.0L445.8 41.7L445.8 45.7L445.8 49.9L445.9 54.4L445.9 59.0L445.9 63.7L446.0 68.6L446.0 73.5L446.1 78.6L446.1 83.6L446.1 88.7L446.2 93.7L446.2 98.6L446.2 103.5L446.3 108.2L446.3 112.8L446.4 117.2L446.4 121.3L446.4 125.3L446.5 129.0L446.5 132.4L446.5 135.5L446.6 138.3L446.6 140.8L446.7 142.9L446.7 144.6L446.7 145.9L446.8 146.9L446.8 147.5L446.8 147.7L446.9 147.5L446.9 146.9L447.0 145.9L447.0 144.5L447.0 142.7L447.1 140.6L447.1 138.1L447.1 135.3L447.2 132.2L447.2 128.8L447.3 125.1L447.3 121.1L447.3 116.9L447.4 112.5L447.4 107.9L447.4 103.2L447.5 98.3L447.5 93.4L447.5 88.3L447.6 83.3L447.6 78.3L447.7 73.2L447.7 68.3L447.7 63.4L447.8 58.7L447.8 54.1L447.8 49.7L447.9 45.5L447.9 41.5L448.0 37.8L448.0 34.3L448.0 31.2L448.1 28.4L448.1 25.9L448.1 23.7L448.2 22.0L448.2 20.6L448.3 19.6L448.3 19.0L448.3 18.7L448.4 18.9L448.4 19.5L448.4 20.4L448.5 21.8L448.5 23.5L448.6 25.6L448.6 28.0L448.6 30.8L448.7 33.9L448.7 37.3L448.7 40.9L448.8 44.9L448.8 49.1L448.9 53.4L448.9 58.0L448.9 62.7L449.0 67.6L449.0 72.5L449.0 77.5L449.1 82.6L449.1 87.6L449.2 92.6L449.2 97.6L449.2 102.5L449.3 107.2L449.3 111.8L449.3 116.3L449.4 120.5L449.4 124.5L449.5 128.3L449.5 131.7L449.5 134.9L449.6 137.8L449.6 140.3L449.6 142.5L449.7 144.3L449.7 145.7L449.7 146.7L449.8 147.4L449.8 147.7L449.9 147.5L449.9 147.0L449.9 146.1L450.0 144.8L450.0 143.1L450.0 141.1L450.1 138.7L450.1 135.9L450.2 132.9L450.2 129.5L450.2 125.8L450.3 121.9L450.3 117.8L450.3 113.4L450.4 108.9L450.4 104.2L450.5 99.3L450.5 94.4L450.5 89.4L450.6 84.3L450.6 79.3L450.6 74.3L450.7 69.3L450.7 64.4L450.8 59.6L450.8 55.0L450.8 50.6L450.9 46.3L450.9 42.3L450.9 38.5L451.0 35.0L451.0 31.8L451.1 28.9L451.1 26.4L451.1 24.2L451.2 22.3L451.2 20.8L451.2 19.7L451.3 19.0L451.3 18.7L451.4 18.8L451.4 19.3L451.4 20.2L451.5 21.4L451.5 23.1L451.5 25.1L451.6 27.5L451.6 30.2L451.7 33.2L451.7 36.5L451.7 40.2L451.8 44.1L451.8 48.2L451.8 52.5L451.9 57.1L451.9 61.8L452.0 66.6L452.0 71.5L452.0 76.5L452.1 81.5L452.1 86.6L452.1 91.6L452.2 96.6L452.2 101.5L452.2 106.3L452.3 110.9L452.3 115.4L452.4 119.7L452.4 123.7L452.4 127.5L452.5 131.0L452.5 134.3L452.5 137.2L452.6 139.8L452.6 142.0L452.7 143.9L452.7 145.4L452.7 146.6L452.8 147.3L452.8 147.6L452.8 147.6L452.9 147.2L452.9 146.3L453.0 145.1L453.0 143.5L453.0 141.5L453.1 139.2L453.1 136.5L453.1 133.5L453.2 130.2L453.2 126.6L453.3 122.7L453.3 118.6L453.3 114.3L453.4 109.8L453.4 105.1L453.4 100.3L453.5 95.4L453.5 90.4L453.6 85.4L453.6 80.3L453.6 75.3L453.7 70.3L453.7 65.4L453.7 60.6L453.8 55.9L453.8 51.5L453.9 47.2L453.9 43.1L453.9 39.3L454.0 35.7L454.0 32.4L454.0 29.5L454.1 26.9L454.1 24.6L454.2 22.7L454.2 21.1L454.2 19.9L454.3 19.2L454.3 18.8L454.3 18.8L454.4 19.2L454.4 20.0L454.5 21.2L454.5 22.7L454.5 24.7L454.6 27.0L454.6 29.6L454.6 32.6L454.7 35.8L454.7 39.4L454.7 43.2L454.8 47.3L454.8 51.6L454.9 56.1L454.9 60.8L454.9 65.6L455.0 70.5L455.0 75.5L455.0 80.5L455.1 85.6L455.1 90.6L455.2 95.6L455.2 100.5L455.2 105.3L455.3 110.0L455.3 114.5L455.3 118.8L455.4 122.9L455.4 126.8L455.5 130.3L455.5 133.6L455.5 136.6L455.6 139.3L455.6 141.6L455.6 143.6L455.7 145.2L455.7 146.4L455.8 147.2L455.8 147.6L455.8 147.6L455.9 147.3L455.9 146.5L455.9 145.4L456.0 143.9L456.0 142.0L456.1 139.7L456.1 137.1L456.1 134.2L456.2 130.9L456.2 127.4L456.2 123.6L456.3 119.5L456.3 115.2L456.4 110.7L456.4 106.1L456.4 101.3L456.5 96.4L456.5 91.4L456.5 86.4L456.6 81.3L456.6 76.3L456.7 71.3L456.7 66.4L456.7 61.6L456.8 56.9L456.8 52.4L456.8 48.0L456.9 43.9L456.9 40.0L456.9 36.4L457.0 33.1L457.0 30.1L457.1 27.4L457.1 25.0L457.1 23.0L457.2 21.4L457.2 20.1L457.2 19.3L457.3 18.8L457.3 18.7L457.4 19.1L457.4 19.8L457.4 20.9L457.5 22.4L457.5 24.2L457.5 26.5L457.6 29.0L457.6 31.9L457.7 35.1L457.7 38.7L457.7 42.4L457.8 46.5L457.8 50.7L457.8 55.2L457.9 59.8L457.9 64.6L458.0 69.5L458.0 74.5L458.0 79.5L458.1 84.5L458.1 89.6L458.1 94.6L458.2 99.5L458.2 104.3L458.3 109.0L458.3 113.6L458.3 117.9L458.4 122.1L458.4 126.0L458.4 129.6L458.5 133.0L458.5 136.0L458.6 138.8L458.6 141.2L458.6 143.2L458.7 144.9L458.7 146.1L458.7 147.0L458.8 147.6L458.8 147.7L458.9 147.4L458.9 146.7L458.9 145.6L459.0 144.2L459.0 142.4L459.0 140.2L459.1 137.7L459.1 134.8L459.2 131.6L459.2 128.1L459.2 124.4L459.3 120.3L459.3 116.1L459.3 111.7L459.4 107.1L459.4 102.3L459.4 97.4L459.5 92.5L459.5 87.4L459.6 82.4L459.6 77.3L459.6 72.3L459.7 67.4L459.7 62.5L459.7 57.8L459.8 53.3L459.8 48.9L459.9 44.7L459.9 40.8L459.9 37.1L460.0 33.7L460.0 30.7L460.0 27.9L460.1 25.5L460.1 23.4L460.2 21.7L460.2 20.4L460.2 19.4L460.3 18.9L460.3 18.7L460.3 19.0L460.4 19.6L460.4 20.6L460.5 22.0L460.5 23.8L460.5 26.0L460.6 28.5L460.6 31.3L460.6 34.5L460.7 37.9L460.7 41.6L460.8 45.6L460.8 49.8L460.8 54.3L460.9 58.9L460.9 63.6L460.9 68.5L461.0 73.4L461.0 78.5L461.1 83.5L461.1 88.5L461.1 93.6L461.2 98.5L461.2 103.4L461.2 108.1L461.3 112.7L461.3 117.1L461.4 121.3L461.4 125.2L461.4 128.9L461.5 132.3L461.5 135.4L461.5 138.2L461.6 140.7L461.6 142.8L461.7 144.5L461.7 145.9L461.7 146.9L461.8 147.5L461.8 147.7L461.8 147.5L461.9 146.9L461.9 145.9L461.9 144.5L462.0 142.8L462.0 140.7L462.1 138.2L462.1 135.4L462.1 132.3L462.2 128.9L462.2 125.1L462.2 121.2L462.3 117.0L462.3 112.6L462.4 108.0L462.4 103.3L462.4 98.4L462.5 93.5L462.5 88.5L462.5 83.4L462.6 78.4L462.6 73.4L462.7 68.4L462.7 63.5L462.7 58.8L462.8 54.2L462.8 49.8L462.8 45.6L462.9 41.6L462.9 37.9L463.0 34.4L463.0 31.3L463.0 28.4L463.1 25.9L463.1 23.8L463.1 22.0L463.2 20.6L463.2 19.6L463.3 19.0L463.3 18.7L463.3 18.9L463.4 19.4L463.4 20.4L463.4 21.7L463.5 23.4L463.5 25.5L463.6 27.9L463.6 30.7L463.6 33.8L463.7 37.2L463.7 40.9L463.7 44.8L463.8 49.0L463.8 53.3L463.9 57.9L463.9 62.6L463.9 67.5L464.0 72.4L464.0 77.4L464.0 82.5L464.1 87.5L464.1 92.5L464.1 97.5L464.2 102.4L464.2 107.1L464.3 111.7L464.3 116.2L464.3 120.4L464.4 124.4L464.4 128.2L464.4 131.7L464.5 134.8L464.5 137.7L464.6 140.2L464.6 142.4L464.6 144.2L464.7 145.7L464.7 146.7L464.7 147.4L464.8 147.7L464.8 147.5L464.9 147.0L464.9 146.1L464.9 144.8L465.0 143.2L465.0 141.1L465.0 138.7L465.1 136.0L465.1 132.9L465.2 129.6L465.2 125.9L465.2 122.0L465.3 117.9L465.3 113.5L465.3 109.0L465.4 104.3L465.4 99.4L465.5 94.5L465.5 89.5L465.5 84.4L465.6 79.4L465.6 74.4L465.6 69.4L465.7 64.5L465.7 59.7L465.8 55.1L465.8 50.7L465.8 46.4L465.9 42.4L465.9 38.6L465.9 35.1L466.0 31.9L466.0 29.0L466.1 26.4L466.1 24.2L466.1 22.3L466.2 20.9L466.2 19.8L466.2 19.1L466.3 18.7L466.3 18.8L466.4 19.3L466.4 20.2L466.4 21.4L466.5 23.0L466.5 25.1L466.5 27.4L466.6 30.1L466.6 33.1L466.6 36.5L466.7 40.1L466.7 44.0L466.8 48.1L466.8 52.4L466.8 57.0L466.9 61.7L466.9 66.5L466.9 71.4L467.0 76.4L467.0 81.4L467.1 86.5L467.1 91.5L467.1 96.5L467.2 101.4L467.2 106.2L467.2 110.8L467.3 115.3L467.3 119.6L467.4 123.6L467.4 127.4L467.4 131.0L467.5 134.2L467.5 137.1L467.5 139.7L467.6 142.0L467.6 143.9L467.7 145.4L467.7 146.5L467.7 147.3L467.8 147.6L467.8 147.6L467.8 147.2L467.9 146.3L467.9 145.1L468.0 143.5L468.0 141.6L468.0 139.2L468.1 136.6L468.1 133.6L468.1 130.3L468.2 126.7L468.2 122.8L468.3 118.7L468.3 114.4L468.3 109.9L468.4 105.2L468.4 100.4L468.4 95.5L468.5 90.5L468.5 85.5L468.6 80.4L468.6 75.4L468.6 70.4L468.7 65.5L468.7 60.7L468.7 56.0L468.8 51.6L468.8 47.3L468.8 43.2L468.9 39.3L468.9 35.8L469.0 32.5L469.0 29.5L469.0 26.9L469.1 24.6L469.1 22.7L469.1 21.1L469.2 20.0L469.2 19.2L469.3 18.8L469.3 18.8L469.3 19.2L469.4 20.0L469.4 21.1L469.4 22.7L469.5 24.6L469.5 26.9L469.6 29.5L469.6 32.5L469.6 35.8L469.7 39.3L469.7 43.2L469.7 47.2L469.8 51.5L469.8 56.0L469.9 60.7L469.9 65.5L469.9 70.4L470.0 75.4L470.0 80.4L470.0 85.5L470.1 90.5L470.1 95.5L470.2 100.4L470.2 105.2L470.2 109.9L470.3 114.4L470.3 118.7L470.3 122.8L470.4 126.7L470.4 130.3L470.5 133.6L470.5 136.6L470.5 139.2L470.6 141.6L470.6 143.5L470.6 145.1L470.7 146.3L470.7 147.2L470.8 147.6L470.8 147.6L470.8 147.3L470.9 146.5L470.9 145.4L470.9 143.9L471.0 142.0L471.0 139.8L471.1 137.2L471.1 134.2L471.1 131.0L471.2 127.5L471.2 123.6L471.2 119.6L471.3 115.3L471.3 110.8L471.3 106.2L471.4 101.4L471.4 96.5L471.5 91.5L471.5 86.5L471.5 81.5L471.6 76.4L471.6 71.4L471.6 66.5L471.7 61.7L471.7 57.0L471.8 52.5L471.8 48.1L471.8 44.0L471.9 40.1L471.9 36.5L471.9 33.2L472.0 30.1L472.0 27.4L472.1 25.1L472.1 23.1L472.1 21.4L472.2 20.2L472.2 19.3L472.2 18.8L472.3 18.7L472.3 19.1L472.4 19.8L472.4 20.9L472.4 22.3L472.5 24.2L472.5 26.4L472.5 29.0L472.6 31.9L472.6 35.1L472.7 38.6L472.7 42.4L472.7 46.4L472.8 50.6L472.8 55.1L472.8 59.7L472.9 64.5L472.9 69.4L473.0 74.3L473.0 79.4L473.0 84.4L473.1 89.5L473.1 94.5L473.1 99.4L473.2 104.2L473.2 108.9L473.3 113.5L473.3 117.8L473.3 122.0L473.4 125.9L473.4 129.6L473.4 132.9L473.5 136.0L473.5 138.7L473.6 141.1L473.6 143.2L473.6 144.8L473.7 146.1L473.7 147.0L473.7 147.5L473.8 147.7L473.8 147.4L473.8 146.7L473.9 145.7L473.9 144.2L474.0 142.4L474.0 140.2L474.0 137.7L474.1 134.9L474.1 131.7L474.1 128.2L474.2 124.4L474.2 120.4L474.3 116.2L474.3 111.8L474.3 107.2L474.4 102.4L474.4 97.5L474.4 92.6L474.5 87.5L474.5 82.5L474.6 77.5L474.6 72.4L474.6 67.5L474.7 62.7L474.7 57.9L474.7 53.4L474.8 49.0L474.8 44.8L474.9 40.9L474.9 37.2L474.9 33.8L475.0 30.7L475.0 27.9L475.0 25.5L475.1 23.4L475.1 21.7L475.2 20.4L475.2 19.4L475.2 18.9L475.3 18.7L475.3 19.0L475.3 19.6L475.4 20.6L475.4 22.0L475.5 23.8L475.5 25.9L475.5 28.4L475.6 31.2L475.6 34.4L475.6 37.8L475.7 41.6L475.7 45.5L475.8 49.8L475.8 54.2L475.8 58.8L475.9 63.5L475.9 68.4L475.9 73.3L476.0 78.3L476.0 83.4L476.0 88.4L476.1 93.4L476.1 98.4L476.2 103.3L476.2 108.0L476.2 112.6L476.3 117.0L476.3 121.2L476.3 125.1L476.4 128.8L476.4 132.3L476.5 135.4L476.5 138.2L476.5 140.7L476.6 142.8L476.6 144.5L476.6 145.9L476.7 146.9L476.7 147.5L476.8 147.7L476.8 147.5L476.8 146.9L476.9 145.9L476.9 144.6L476.9 142.8L477.0 140.7L477.0 138.3L477.1 135.5L477.1 132.3L477.1 128.9L477.2 125.2L477.2 121.3L477.2 117.1L477.3 112.7L477.3 108.1L477.4 103.4L477.4 98.5L477.4 93.6L477.5 88.6L477.5 83.5L477.5 78.5L477.6 73.5L477.6 68.5L477.7 63.6L477.7 58.9L477.7 54.3L477.8 49.9L477.8 45.7L477.8 41.7L477.9 37.9L477.9 34.5L478.0 31.3L478.0 28.5L478.0 26.0L478.1 23.8L478.1 22.0L478.1 20.6L478.2 19.6L478.2 19.0L478.3 18.7L478.3 18.9L478.3 19.4L478.4 20.4L478.4 21.7L478.4 23.4L478.5 25.5L478.5 27.9L478.5 30.6L478.6 33.7L478.6 37.1L478.7 40.8L478.7 44.7L478.7 48.9L478.8 53.2L478.8 57.8L478.8 62.5L478.9 67.4L478.9 72.3L479.0 77.3L479.0 82.4L479.0 87.4L479.1 92.4L479.1 97.4L479.1 102.3L479.2 107.0L479.2 111.6L479.3 116.1L479.3 120.3L479.3 124.3L479.4 128.1L479.4 131.6L479.4 134.8L479.5 137.6L479.5 140.2L479.6 142.4L479.6 144.2L479.6 145.6L479.7 146.7L479.7 147.4L479.7 147.7L479.8 147.6L479.8 147.0L479.9 146.2L479.9 144.9L479.9 143.2L480.0 141.2L480.0 138.8L480.0 136.1L480.1 133.0L480.1 129.7L480.2 126.0L480.2 122.1L480.2 118.0L480.3 113.6L480.3 109.1L480.3 104.4L480.4 99.5L480.4 94.6L480.5 89.6L480.5 84.6L480.5 79.5L480.6 74.5L480.6 69.5L480.6 64.6L480.7 59.8L480.7 55.2L480.8 50.8L480.8 46.5L480.8 42.5L480.9 38.7L480.9 35.2L480.9 31.9L481.0 29.0L481.0 26.5L481.0 24.2L481.1 22.4L481.1 20.9L481.2 19.8L481.2 19.1L481.2 18.7L481.3 18.8L481.3 19.3L481.3 20.1L481.4 21.4L481.4 23.0L481.5 25.0L481.5 27.4L481.5 30.0L481.6 33.1L481.6 36.4L481.6 40.0L481.7 43.9L481.7 48.0L481.8 52.3L481.8 56.9L481.8 61.5L481.9 66.4L481.9 71.3L481.9 76.3L482.0 81.3L482.0 86.4L482.1 91.4L482.1 96.4L482.1 101.3L482.2 106.1L482.2 110.7L482.2 115.2L482.3 119.5L482.3 123.5L482.4 127.4L482.4 130.9L482.4 134.1L482.5 137.1L482.5 139.7L482.5 141.9L482.6 143.8L482.6 145.4L482.7 146.5L482.7 147.3L482.7 147.6L482.8 147.6L482.8 147.2L482.8 146.4L482.9 145.2L482.9 143.6L483.0 141.6L483.0 139.3L483.0 136.6L483.1 133.7L483.1 130.4L483.1 126.8L483.2 122.9L483.2 118.8L483.2 114.5L483.3 110.0L483.3 105.3L483.4 100.5L483.4 95.6L483.4 90.6L483.5 85.6L483.5 80.5L483.5 75.5L483.6 70.5L483.6 65.6L483.7 60.8L483.7 56.1L483.7 51.7L483.8 47.3L483.8 43.3L483.8 39.4L483.9 35.9L483.9 32.6L484.0 29.6L484.0 27.0L484.0 24.7L484.1 22.7L484.1 21.2L484.1 20.0L484.2 19.2L484.2 18.8L484.3 18.8L484.3 19.2L484.3 19.9L484.4 21.1L484.4 22.6L484.4 24.6L484.5 26.8L484.5 29.5L484.6 32.4L484.6 35.7L484.6 39.2L484.7 43.1L484.7 47.1L484.7 51.4L484.8 55.9L484.8 60.6L484.9 65.4L484.9 70.3L484.9 75.3L485.0 80.3L485.0 85.3L485.0 90.4L485.1 95.4L485.1 100.3L485.2 105.1L485.2 109.8L485.2 114.3L485.3 118.6L485.3 122.7L485.3 126.6L485.4 130.2L485.4 133.5L485.5 136.5L485.5 139.2L485.5 141.5L485.6 143.5L485.6 145.1L485.6 146.3L485.7 147.2L485.7 147.6L485.7 147.6L485.8 147.3L485.8 146.6L485.9 145.4L485.9 143.9L485.9 142.0L486.0 139.8L486.0 137.2L486.0 134.3L486.1 131.1L486.1 127.5L486.2 123.7L486.2 119.7L486.2 115.4L486.3 110.9L486.3 106.3L486.3 101.5L486.4 96.6L486.4 91.7L486.5 86.6L486.5 81.6L486.5 76.5L486.6 71.5L486.6 66.6L486.6 61.8L486.7 57.1L486.7 52.6L486.8 48.2L486.8 44.1L486.8 40.2L486.9 36.6L486.9 33.2L486.9 30.2L487.0 27.5L487.0 25.1L487.1 23.1L487.1 21.5L487.1 20.2L487.2 19.3L487.2 18.8L487.2 18.7L487.3 19.0L487.3 19.7L487.4 20.8L487.4 22.3L487.4 24.1L487.5 26.3L487.5 28.9L487.5 31.8L487.6 35.0L487.6 38.5L487.7 42.3L487.7 46.3L487.7 50.5L487.8 55.0L487.8 59.6L487.8 64.4L487.9 69.3L487.9 74.2L487.9 79.3L488.0 84.3L488.0 89.4L488.1 94.4L488.1 99.3L488.1 104.1L488.2 108.8L488.2 113.4L488.2 117.8L488.3 121.9L488.3 125.8L488.4 129.5L488.4 132.9L488.4 135.9L488.5 138.7L488.5 141.1L488.5 143.1L488.6 144.8L488.6 146.1L488.7 147.0L488.7 147.5L488.7 147.7L488.8 147.4L488.8 146.7L488.8 145.7L488.9 144.3L488.9 142.5L489.0 140.3L489.0 137.8L489.0 134.9L489.1 131.7L489.1 128.3L489.1 124.5L489.2 120.5L489.2 116.3L489.3 111.9L489.3 107.3L489.3 102.5L489.4 97.6L489.4 92.7L489.4 87.7L489.5 82.6L489.5 77.6L489.6 72.6L489.6 67.6L489.6 62.8L489.7 58.0L489.7 53.5L489.7 49.1L489.8 44.9L489.8 41.0L489.9 37.3L489.9 33.9L489.9 30.8L490.0 28.0L490.0 25.6L490.0 23.5L490.1 21.8L490.1 20.4L490.2 19.5L490.2 18.9L490.2 18.7L490.3 18.9L490.3 19.6L490.3 20.6L490.4 22.0L490.4 23.7L490.4 25.9L490.5 28.4L490.5 31.2L490.6 34.3L490.6 37.8L490.6 41.5L490.7 45.4L490.7 49.7L490.7 54.1L490.8 58.7L490.8 63.4L490.9 68.3L490.9 73.2L490.9 78.2L491.0 83.3L491.0 88.3L491.0 93.3L491.1 98.3L491.1 103.1L491.2 107.9L491.2 112.5L491.2 116.9L491.3 121.1L491.3 125.0L491.3 128.8L491.4 132.2L491.4 135.3L491.5 138.1L491.5 140.6L491.5 142.7L491.6 144.5L491.6 145.9L491.6 146.9L491.7 147.5L491.7 147.7L491.8 147.5L491.8 146.9L491.8 145.9L491.9 144.6L491.9 142.9L491.9 140.8L492.0 138.3L492.0 135.5L492.1 132.4L492.1 129.0L492.1 125.3L492.2 121.4L492.2 117.2L492.2 112.8L492.3 108.2L492.3 103.5L492.4 98.6L492.4 93.7L492.4 88.7L492.5 83.6L492.5 78.6L492.5 73.6L492.6 68.6L492.6 63.7L492.7 59.0L492.7 54.4L492.7 50.0L492.8 45.7L492.8 41.8L492.8 38.0L492.9 34.6L492.9 31.4L492.9 28.5L493.0 26.0L493.0 23.9L493.1 22.1L493.1 20.7L493.1 19.6L493.2 19.0L493.2 18.7L493.2 18.9L493.3 19.4L493.3 20.3L493.4 21.7L493.4 23.3L493.4 25.4L493.5 27.8L493.5 30.6L493.5 33.6L493.6 37.0L493.6 40.7L493.7 44.6L493.7 48.8L493.7 53.1L493.8 57.7L493.8 62.4L493.8 67.3L493.9 72.2L493.9 77.2L494.0 82.2L494.0 87.3L494.0 92.3L494.1 97.3L494.1 102.2L494.1 106.9L494.2 111.5L494.2 116.0L494.3 120.2L494.3 124.3L494.3 128.0L494.4 131.5L494.4 134.7L494.4 137.6L494.5 140.1L494.5 142.3L494.6 144.2L494.6 145.6L494.6 146.7L494.7 147.4L494.7 147.7L494.7 147.6L494.8 147.1L494.8 146.2L494.9 144.9L494.9 143.2L494.9 141.2L495.0 138.8L495.0 136.1L495.0 133.1L495.1 129.7L495.1 126.1L495.1 122.2L495.2 118.1L495.2 113.7L495.3 109.2L495.3 104.5L495.3 99.6L495.4 94.7L495.4 89.7L495.4 84.7L495.5 79.6L495.5 74.6L495.6 69.6L495.6 64.7L495.6 60.0L495.7 55.3L495.7 50.9L495.7 46.6L495.8 42.5L495.8 38.8L495.9 35.2L495.9 32.0L495.9 29.1L496.0 26.5L496.0 24.3L496.0 22.4L496.1 20.9L496.1 19.8L496.2 19.1L496.2 18.7L496.2 18.8L496.3 19.3L496.3 20.1L496.3 21.4L496.4 23.0L496.4 25.0L496.5 27.3L496.5 30.0L496.5 33.0L496.6 36.3L496.6 39.9L496.6 43.8L496.7 47.9L496.7 52.2L496.8 56.8L496.8 61.4L496.8 66.3L496.9 71.2L496.9 76.2L496.9 81.2L497.0 86.3L497.0 91.3L497.1 96.3L497.1 101.2L497.1 106.0L497.2 110.6L497.2 115.1L497.2 119.4L497.3 123.5L497.3 127.3L497.4 130.8L497.4 134.1L497.4 137.0L497.5 139.6L497.5 141.9L497.5 143.8L497.6 145.3L497.6 146.5L497.6 147.3L497.7 147.6L497.7 147.6L497.8 147.2L497.8 146.4L497.8 145.2L497.9 143.6L497.9 141.7L497.9 139.4L498.0 136.7L498.0 133.7L498.1 130.4L498.1 126.9L498.1 123.0L498.2 118.9L498.2 114.6L498.2 110.1L498.3 105.4L498.3 100.6L498.4 95.7L498.4 90.7L498.4 85.7L498.5 80.7L498.5 75.6L498.5 70.6L498.6 65.7L498.6 60.9L498.7 56.3L498.7 51.8L498.7 47.4L498.8 43.4L498.8 39.5L498.8 35.9L498.9 32.6L498.9 29.7L499.0 27.0L499.0 24.7L499.0 22.8L499.1 21.2L499.1 20.0L499.1 19.2L499.2 18.8L499.2 18.8L499.3 19.1L499.3 19.9L499.3 21.1L499.4 22.6L499.4 24.5L499.4 26.8L499.5 29.4L499.5 32.4L499.6 35.6L499.6 39.2L499.6 43.0L499.7 47.0L499.7 51.3L499.7 55.8L499.8 60.5L499.8 65.3L499.9 70.2L499.9 75.1L499.9 80.2L500.0 85.2L500.0 90.3L500.0 95.3L500.1 100.2L500.1 105.0L500.1 109.7L500.2 114.2L500.2 118.5L500.3 122.6L500.3 126.5L500.3 130.1L500.4 133.4L500.4 136.4L500.4 139.1L500.5 141.5L500.5 143.4L500.6 145.1L500.6 146.3L500.6 147.1L500.7 147.6L500.7 147.7L500.7 147.3L500.8 146.6L500.8 145.5L500.9 144.0L500.9 142.1L500.9 139.9L501.0 137.3L501.0 134.4L501.0 131.1L501.1 127.6L501.1 123.8L501.2 119.8L501.2 115.5L501.2 111.0L501.3 106.4L501.3 101.6L501.3 96.7L501.4 91.8L501.4 86.7L501.5 81.7L501.5 76.6L501.5 71.6L501.6 66.7L501.6 61.9L501.6 57.2L501.7 52.7L501.7 48.3L501.8 44.2L501.8 40.3L501.8 36.6L501.9 33.3L501.9 30.3L501.9 27.5L502.0 25.2L502.0 23.1L502.1 21.5L502.1 20.2L502.1 19.3L502.2 18.8L502.2 18.7L502.2 19.0L502.3 19.7L502.3 20.8L502.3 22.3L502.4 24.1L502.4 26.3L502.5 28.8L502.5 31.7L502.5 34.9L502.6 38.4L502.6 42.2L502.6 46.2L502.7 50.4L502.7 54.9L502.8 59.5L502.8 64.3L502.8 69.2L502.9 74.1L502.9 79.1L502.9 84.2L503.0 89.2L503.0 94.2L503.1 99.2L503.1 104.0L503.1 108.7L503.2 113.3L503.2 117.7L503.2 121.8L503.3 125.7L503.3 129.4L503.4 132.8L503.4 135.9L503.4 138.6L503.5 141.0L503.5 143.1L503.5 144.8L503.6 146.1L503.6 147.0L503.7 147.5L503.7 147.7L503.7 147.4L503.8 146.8L503.8 145.7L503.8 144.3L503.9 142.5L503.9 140.3L504.0 137.8L504.0 135.0L504.0 131.8L504.1 128.4L504.1 124.6L504.1 120.6L504.2 116.4L504.2 112.0L504.3 107.4L504.3 102.6L504.3 97.7L504.4 92.8L504.4 87.8L504.4 82.7L504.5 77.7L504.5 72.7L504.6 67.7L504.6 62.9L504.6 58.1L504.7 53.6L504.7 49.2L504.7 45.0L504.8 41.0L504.8 37.4L504.8 34.0L504.9 30.8L504.9 28.1L505.0 25.6L505.0 23.5L505.0 21.8L505.1 20.4L505.1 19.5L505.1 18.9L505.2 18.7L505.2 18.9L505.3 19.5L505.3 20.5L505.3 21.9L505.4 23.7L505.4 25.8L505.4 28.3L505.5 31.1L505.5 34.2L505.6 37.7L505.6 41.4L505.6 45.4L505.7 49.6L505.7 54.0L505.7 58.6L505.8 63.3L505.8 68.2L505.9 73.1L505.9 78.1L505.9 83.2L506.0 88.2L506.0 93.2L506.0 98.2L506.1 103.0L506.1 107.8L506.2 112.4L506.2 116.8L506.2 121.0L506.3 125.0L506.3 128.7L506.3 132.1L506.4 135.3L506.4 138.1L506.5 140.6L506.5 142.7L506.5 144.4L506.6 145.8L506.6 146.8L506.6 147.5L506.7 147.7L506.7 147.5L506.8 146.9L506.8 146.0L506.8 144.6L506.9 142.9L506.9 140.8L506.9 138.4L507.0 135.6L507.0 132.5L507.0 129.1L507.1 125.4L507.1 121.5L507.2 117.3L507.2 112.9L507.2 108.3L507.3 103.6L507.3 98.7L507.3 93.8L507.4 88.8L507.4 83.8L507.5 78.7L507.5 73.7L507.5 68.7L507.6 63.9L507.6 59.1L507.6 54.5L507.7 50.1L507.7 45.8L507.8 41.8L507.8 38.1L507.8 34.6L507.9 31.5L507.9 28.6L507.9 26.1L508.0 23.9L508.0 22.1L508.1 20.7L508.1 19.6L508.1 19.0L508.2 18.7L508.2 18.9L508.2 19.4L508.3 20.3L508.3 21.6L508.4 23.3L508.4 25.4L508.4 27.8L508.5 30.5L508.5 33.6L508.5 36.9L508.6 40.6L508.6 44.5L508.7 48.7L508.7 53.0L508.7 57.6L508.8 62.3L508.8 67.1L508.8 72.1L508.9 77.1L508.9 82.1L509.0 87.2L509.0 92.2L509.0 97.2L509.1 102.1L509.1 106.8L509.1 111.4L509.2 115.9L509.2 120.1L509.3 124.2L509.3 127.9L509.3 131.4L509.4 134.6L509.4 137.5L509.4 140.1L509.5 142.3L509.5 144.1L509.5 145.6L509.6 146.7L509.6 147.4L509.7 147.7L509.7 147.6L509.7 147.1L509.8 146.2L509.8 144.9L509.8 143.3L509.9 141.3L509.9 138.9L510.0 136.2L510.0 133.2L510.0 129.8L510.1 126.2L510.1 122.3L510.1 118.2L510.2 113.8L510.2 109.3L510.3 104.6L510.3 99.8L510.3 94.8L510.4 89.8L510.4 84.8L510.4 79.7L510.5 74.7L510.5 69.7L510.6 64.8L510.6 60.1L510.6 55.4L510.7 51.0L510.7 46.7L510.7 42.6L510.8 38.8L510.8 35.3L510.9 32.1L510.9 29.2L510.9 26.6L511.0 24.3L511.0 22.5L511.0 21.0L511.1 19.8L511.1 19.1L511.2 18.8L511.2 18.8L511.2 19.3L511.3 20.1L511.3 21.3L511.3 22.9L511.4 24.9L511.4 27.2L511.5 29.9L511.5 32.9L511.5 36.2L511.6 39.8L511.6 43.7L511.6 47.8L511.7 52.1L511.7 56.7L511.8 61.3L511.8 66.2L511.8 71.1L511.9 76.1L511.9 81.1L511.9 86.1L512.0 91.2L512.0 96.2L512.0 101.1L512.1 105.9L512.1 110.5L512.2 115.0L512.2 119.3L512.2 123.4L512.3 127.2L512.3 130.7L512.3 134.0L512.4 137.0L512.4 139.6L512.5 141.9L512.5 143.8L512.5 145.3L512.6 146.5L512.6 147.3L512.6 147.6L512.7 147.6L512.7 147.2L512.8 146.4L512.8 145.2L512.8 143.7L512.9 141.7L512.9 139.4L512.9 136.8L513.0 133.8L513.0 130.5L513.1 126.9L513.1 123.1L513.1 119.0L513.2 114.7L513.2 110.2L513.2 105.5L513.3 100.7L513.3 95.8L513.4 90.9L513.4 85.8L513.4 80.8L513.5 75.7L513.5 70.7L513.5 65.8L513.6 61.0L513.6 56.4L513.7 51.8L513.7 47.5L513.7 43.4L513.8 39.6L513.8 36.0L513.8 32.7L513.9 29.7L513.9 27.1L514.0 24.8L514.0 22.8L514.0 21.2L514.1 20.0L514.1 19.2L514.1 18.8L514.2 18.8L514.2 19.1L514.2 19.9L514.3 21.0L514.3 22.6L514.4 24.5L514.4 26.7L514.4 29.3L514.5 32.3L514.5 35.5L514.5 39.1L514.6 42.9L514.6 47.0L514.7 51.2L514.7 55.7L514.7 60.4L514.8 65.2L514.8 70.1L514.8 75.0L514.9 80.1L514.9 85.1L515.0 90.2L515.0 95.2L515.0 100.1L515.1 104.9L515.1 109.6L515.1 114.1L515.2 118.4L515.2 122.6L515.3 126.4L515.3 130.0L515.3 133.4L515.4 136.4L515.4 139.1L515.4 141.4L515.5 143.4L515.5 145.0L515.6 146.3L515.6 147.1L515.6 147.6L515.7 147.7L515.7 147.3L515.7 146.6L515.8 145.5L515.8 144.0L515.9 142.1L515.9 139.9L515.9 137.3L516.0 134.4L516.0 131.2L516.0 127.7L516.1 123.9L516.1 119.9L516.2 115.6L516.2 111.1L516.2 106.5L516.3 101.7L516.3 96.8L516.3 91.9L516.4 86.8L516.4 81.8L516.5 76.8L516.5 71.8L516.5 66.8L516.6 62.0L516.6 57.3L516.6 52.8L516.7 48.4L516.7 44.3L516.7 40.4L516.8 36.7L516.8 33.4L516.9 30.3L516.9 27.6L516.9 25.2L517.0 23.2L517.0 21.5L517.0 20.2L517.1 19.3L517.1 18.8L517.2 18.7L517.2 19.0L517.2 19.7L517.3 20.8L517.3 22.2L517.3 24.1L517.4 26.2L517.4 28.8L517.5 31.7L517.5 34.8L517.5 38.3L517.6 42.1L517.6 46.1L517.6 50.3L517.7 54.8L517.7 59.4L517.8 64.2L517.8 69.0L517.8 74.0L517.9 79.0L517.9 84.1L517.9 89.1L518.0 94.1L518.0 99.1L518.1 103.9L518.1 108.6L518.1 113.2L518.2 117.6L518.2 121.7L518.2 125.7L518.3 129.3L518.3 132.7L518.4 135.8L518.4 138.5L518.4 141.0L518.5 143.0L518.5 144.7L518.5 146.0L518.6 147.0L518.6 147.5L518.7 147.7L518.7 147.4L518.7 146.8L518.8 145.8L518.8 144.3L518.8 142.6L518.9 140.4L518.9 137.9L519.0 135.1L519.0 131.9L519.0 128.4L519.1 124.7L519.1 120.7L519.1 116.5L519.2 112.1L519.2 107.5L519.2 102.7L519.3 97.9L519.3 92.9L519.4 87.9L519.4 82.8L519.4 77.8L519.5 72.8L519.5 67.8L519.5 63.0L519.6 58.2L519.6 53.7L519.7 49.3L519.7 45.1L519.7 41.1L519.8 37.4L519.8 34.0L519.8 30.9L519.9 28.1L519.9 25.7L520.0 23.6L520.0 21.8L520.0 20.5L520.1 19.5L520.1 18.9L520.1 18.7L520.2 18.9L520.2 19.5L520.3 20.5L520.3 21.9L520.3 23.6L520.4 25.8L520.4 28.2L520.4 31.0L520.5 34.2L520.5 37.6L520.6 41.3L520.6 45.3L520.6 49.5L520.7 53.9L520.7 58.4L520.7 63.2L520.8 68.0L520.8 73.0L520.9 78.0L520.9 83.1L520.9 88.1L521.0 93.1L521.0 98.1L521.0 102.9L521.1 107.7L521.1 112.3L521.2 116.7L521.2 120.9L521.2 124.9L521.3 128.6L521.3 132.0L521.3 135.2L521.4 138.0L521.4 140.5L521.4 142.6L521.5 144.4L521.5 145.8L521.6 146.8L521.6 147.4L521.6 147.7L521.7 147.5L521.7 146.9L521.7 146.0L521.8 144.7L521.8 142.9L521.9 140.9L521.9 138.4L521.9 135.7L522.0 132.6L522.0 129.2L522.0 125.5L522.1 121.6L522.1 117.4L522.2 113.0L522.2 108.4L522.2 103.7L522.3 98.9L522.3 93.9L522.3 88.9L522.4 83.9L522.4 78.8L522.5 73.8L522.5 68.8L522.5 64.0L522.6 59.2L522.6 54.6L522.6 50.2L522.7 45.9L522.7 41.9L522.8 38.2L522.8 34.7L522.8 31.5L522.9 28.7L522.9 26.1L522.9 24.0L523.0 22.2L523.0 20.7L523.1 19.7L523.1 19.0L523.1 18.7L523.2 18.9L523.2 19.4L523.2 20.3L523.3 21.6L523.3 23.3L523.4 25.3L523.4 27.7L523.4 30.4L523.5 33.5L523.5 36.9L523.5 40.5L523.6 44.4L523.6 48.6L523.7 53.0L523.7 57.5L523.7 62.2L523.8 67.0L523.8 72.0L523.8 77.0L523.9 82.0L523.9 87.1L523.9 92.1L524.0 97.1L524.0 101.9L524.1 106.7L524.1 111.3L524.1 115.8L524.2 120.1L524.2 124.1L524.2 127.9L524.3 131.4L524.3 134.6L524.4 137.5L524.4 140.0L524.4 142.2L524.5 144.1L524.5 145.6L524.5 146.6L524.6 147.3L524.6 147.7L524.7 147.6L524.7 147.1L524.7 146.2L524.8 145.0L524.8 143.3L524.8 141.3L524.9 139.0L524.9 136.3L525.0 133.2L525.0 129.9L525.0 126.3L525.1 122.4L525.1 118.2L525.1 113.9L525.2 109.4L525.2 104.7L525.3 99.9L525.3 94.9L525.3 89.9L525.4 84.9L525.4 79.8L525.4 74.8L525.5 69.8L525.5 64.9L525.6 60.2L525.6 55.5L525.6 51.0L525.7 46.8L525.7 42.7L525.7 38.9L525.8 35.4L525.8 32.1L525.9 29.2L525.9 26.6L525.9 24.4L526.0 22.5L526.0 21.0L526.0 19.8L526.1 19.1L526.1 18.8L526.1 18.8L526.2 19.2L526.2 20.1L526.3 21.3L526.3 22.9L526.3 24.9L526.4 27.2L526.4 29.9L526.4 32.9L526.5 36.2L526.5 39.8L526.6 43.6L526.6 47.7L526.6 52.0L526.7 56.6L526.7 61.2L526.7 66.0L526.8 71.0L526.8 76.0L526.9 81.0L526.9 86.0L526.9 91.1L527.0 96.1L527.0 101.0L527.0 105.8L527.1 110.4L527.1 114.9L527.2 119.2L527.2 123.3L527.2 127.1L527.3 130.7L527.3 133.9L527.3 136.9L527.4 139.5L527.4 141.8L527.5 143.7L527.5 145.3L527.5 146.5L527.6 147.2L527.6 147.6L527.6 147.6L527.7 147.2L527.7 146.4L527.8 145.3L527.8 143.7L527.8 141.8L527.9 139.5L527.9 136.8L527.9 133.9L528.0 130.6L528.0 127.0L528.1 123.2L528.1 119.1L528.1 114.8L528.2 110.3L528.2 105.7L528.2 100.9L528.3 95.9L528.3 91.0L528.4 85.9L528.4 80.9L528.4 75.8L528.5 70.9L528.5 65.9L528.5 61.1L528.6 56.5L528.6 51.9L528.6 47.6L528.7 43.5L528.7 39.7L528.8 36.1L528.8 32.8L528.8 29.8L528.9 27.1L528.9 24.8L528.9 22.9L529.0 21.3L529.0 20.0L529.1 19.2L529.1 18.8L529.1 18.8L529.2 19.1L529.2 19.9L529.2 21.0L529.3 22.5L529.3 24.4L529.4 26.7L529.4 29.3L529.4 32.2L529.5 35.5L529.5 39.0L529.5 42.8L529.6 46.9L529.6 51.1L529.7 55.6L529.7 60.3L529.7 65.0L529.8 69.9L529.8 74.9L529.8 80.0L529.9 85.0L529.9 90.0L530.0 95.0L530.0 100.0L530.0 104.8L530.1 109.5L530.1 114.0L530.1 118.3L530.2 122.5L530.2 126.3L530.3 130.0L530.3 133.3L530.3 136.3L530.4 139.0L530.4 141.4L530.4 143.4L530.5 145.0L530.5 146.2L530.6 147.1L530.6 147.6L530.6 147.7L530.7 147.3L530.7 146.6L530.7 145.5L530.8 144.0L530.8 142.2L530.9 140.0L530.9 137.4L530.9 134.5L531.0 131.3L531.0 127.8L531.0 124.0L531.1 120.0L531.1 115.7L531.1 111.2L531.2 106.6L531.2 101.8L531.3 97.0L531.3 92.0L531.3 87.0L531.4 81.9L531.4 76.9L531.4 71.9L531.5 66.9L531.5 62.1L531.6 57.4L531.6 52.9L531.6 48.5L531.7 44.3L531.7 40.4L531.7 36.8L531.8 33.4L531.8 30.4L531.9 27.6L531.9 25.3L531.9 23.2L532.0 21.6L532.0 20.3L532.0 19.4L532.1 18.8L532.1 18.7L532.2 19.0L532.2 19.7L532.2 20.7L532.3 22.2L532.3 24.0L532.3 26.2L532.4 28.7L532.4 31.6L532.5 34.8L532.5 38.3L532.5 42.0L532.6 46.0L532.6 50.3L532.6 54.7L532.7 59.3L532.7 64.1L532.8 68.9L532.8 73.9L532.8 78.9L532.9 84.0L532.9 89.0L532.9 94.0L533.0 99.0L533.0 103.8L533.1 108.5L533.1 113.1L533.1 117.5L533.2 121.6L533.2 125.6L533.2 129.2L533.3 132.6L533.3 135.7L533.3 138.5L533.4 140.9L533.4 143.0L533.5 144.7L533.5 146.0L533.5 147.0L533.6 147.5L533.6 147.7L533.6 147.4L533.7 146.8L533.7 145.8L533.8 144.4L533.8 142.6L533.8 140.4L533.9 138.0L533.9 135.1L533.9 132.0L534.0 128.5L534.0 124.8L534.1 120.8L534.1 116.6L534.1 112.2L534.2 107.6L534.2 102.8L534.2 98.0L534.3 93.0L534.3 88.0L534.4 82.9L534.4 77.9L534.4 72.9L534.5 67.9L534.5 63.1L534.5 58.3L534.6 53.8L534.6 49.4L534.7 45.2L534.7 41.2L534.7 37.5L534.8 34.1L534.8 31.0L534.8 28.2L534.9 25.7L534.9 23.6L535.0 21.9L535.0 20.5L535.0 19.5L535.1 18.9L535.1 18.7L535.1 18.9L535.2 19.5L535.2 20.5L535.3 21.9L535.3 23.6L535.3 25.7L535.4 28.2L535.4 31.0L535.4 34.1L535.5 37.5L535.5 41.2L535.6 45.2L535.6 49.4L535.6 53.8L535.7 58.3L535.7 63.1L535.7 67.9L535.8 72.9L535.8 77.9L535.8 82.9L535.9 88.0L535.9 93.0L536.0 98.0L536.0 102.8L536.0 107.6L536.1 112.2L536.1 116.6L536.1 120.8L536.2 124.8L536.2 128.5L536.3 132.0L536.3 135.1L536.3 138.0L536.4 140.4L536.4 142.6L536.4 144.4L536.5 145.8L536.5 146.8L536.6 147.4L536.6 147.7L536.6 147.5L536.7 147.0L536.7 146.0L536.7 144.7L536.8 143.0L536.8 140.9L536.9 138.5L536.9 135.7L536.9 132.6L537.0 129.2L537.0 125.6L537.0 121.6L537.1 117.5L537.1 113.1L537.2 108.5L537.2 103.8L537.2 99.0L537.3 94.0L537.3 89.0L537.3 84.0L537.4 78.9L537.4 73.9L537.5 68.9L537.5 64.1L537.5 59.3L537.6 54.7L537.6 50.3L537.6 46.0L537.7 42.0L537.7 38.3L537.8 34.8L537.8 31.6L537.8 28.7L537.9 26.2L537.9 24.0L537.9 22.2L538.0 20.7L538.0 19.7L538.1 19.0L538.1 18.7L538.1 18.8L538.2 19.4L538.2 20.3L538.2 21.6L538.3 23.2L538.3 25.3L538.3 27.6L538.4 30.4L538.4 33.4L538.5 36.8L538.5 40.4L538.5 44.3L538.6 48.5L538.6 52.9L538.6 57.4L538.7 62.1L538.7 66.9L538.8 71.9L538.8 76.9L538.8 81.9L538.9 87.0L538.9 92.0L538.9 97.0L539.0 101.8L539.0 106.6L539.1 111.2L539.1 115.7L539.1 120.0L539.2 124.0L539.2 127.8L539.2 131.3L539.3 134.5L539.3 137.4L539.4 140.0L539.4 142.2L539.4 144.0L539.5 145.5L539.5 146.6L539.5 147.3L539.6 147.7L539.6 147.6L539.7 147.1L539.7 146.2L539.7 145.0L539.8 143.4L539.8 141.4L539.8 139.0L539.9 136.3L539.9 133.3L540.0 130.0L540.0 126.3L540.0 122.5L540.1 118.3L540.1 114.0L540.1 109.5L540.2 104.8L540.2 100.0L540.3 95.0L540.3 90.0L540.3 85.0L540.4 80.0L540.4 74.9L540.4 70.0L540.5 65.1L540.5 60.3L540.5 55.6L540.6 51.1L540.6 46.9L540.7 42.8L540.7 39.0L540.7 35.5L540.8 32.2L540.8 29.3L540.8 26.7L540.9 24.4L540.9 22.5L541.0 21.0L541.0 19.9L541.0 19.1L541.1 18.8L541.1 18.8L541.1 19.2L541.2 20.0L541.2 21.3L541.3 22.8L541.3 24.8L541.3 27.1L541.4 29.8L541.4 32.8L541.4 36.1L541.5 39.7L541.5 43.5L541.6 47.6L541.6 51.9L541.6 56.5L541.7 61.1L541.7 65.9L541.7 70.8L541.8 75.8L541.8 80.9L541.9 85.9L541.9 91.0L541.9 95.9L542.0 100.9L542.0 105.6L542.0 110.3L542.1 114.8L542.1 119.1L542.2 123.2L542.2 127.0L542.2 130.6L542.3 133.9L542.3 136.8L542.3 139.5L542.4 141.8L542.4 143.7L542.5 145.3L542.5 146.4L542.5 147.2L542.6 147.6L542.6 147.6L542.6 147.2L542.7 146.5L542.7 145.3L542.8 143.7L542.8 141.8L542.8 139.5L542.9 136.9L542.9 133.9L542.9 130.7L543.0 127.1L543.0 123.3L543.0 119.2L543.1 114.9L543.1 110.4L543.2 105.8L543.2 101.0L543.2 96.1L543.3 91.1L543.3 86.0L543.3 81.0L543.4 76.0L543.4 71.0L543.5 66.0L543.5 61.2L543.5 56.6L543.6 52.0L543.6 47.7L543.6 43.6L543.7 39.8L543.7 36.2L543.8 32.9L543.8 29.9L543.8 27.2L543.9 24.9L543.9 22.9L543.9 21.3L544.0 20.1L544.0 19.2L544.1 18.8L544.1 18.8L544.1 19.1L544.2 19.8L544.2 21.0L544.2 22.5L544.3 24.4L544.3 26.6L544.4 29.2L544.4 32.1L544.4 35.4L544.5 38.9L544.5 42.7L544.5 46.8L544.6 51.0L544.6 55.5L544.7 60.2L544.7 64.9L544.7 69.8L544.8 74.8L544.8 79.8L544.8 84.9L544.9 89.9L544.9 94.9L545.0 99.9L545.0 104.7L545.0 109.4L545.1 113.9L545.1 118.2L545.1 122.4L545.2 126.3L545.2 129.9L545.2 133.2L545.3 136.3L545.3 139.0L545.4 141.3L545.4 143.3L545.4 145.0L545.5 146.2L545.5 147.1L545.5 147.6L545.6 147.7L545.6 147.4L545.7 146.6L545.7 145.6L545.7 144.1L545.8 142.2L545.8 140.0L545.8 137.5L545.9 134.6L545.9 131.4L546.0 127.9L546.0 124.1L546.0 120.1L546.1 115.8L546.1 111.3L546.1 106.7L546.2 102.0L546.2 97.1L546.3 92.1L546.3 87.1L546.3 82.0L546.4 77.0L546.4 72.0L546.4 67.0L546.5 62.2L546.5 57.5L546.6 53.0L546.6 48.6L546.6 44.4L546.7 40.5L546.7 36.9L546.7 33.5L546.8 30.4L546.8 27.7L546.9 25.3L546.9 23.3L546.9 21.6L547.0 20.3L547.0 19.4L547.0 18.9L547.1 18.7L547.1 19.0L547.2 19.7L547.2 20.7L547.2 22.2L547.3 24.0L547.3 26.1L547.3 28.7L547.4 31.5L547.4 34.7L547.5 38.2L547.5 41.9L547.5 45.9L547.6 50.2L547.6 54.6L547.6 59.2L547.7 64.0L547.7 68.8L547.7 73.8L547.8 78.8L547.8 83.9L547.9 88.9L547.9 93.9L547.9 98.9L548.0 103.7L548.0 108.4L548.0 113.0L548.1 117.4L548.1 121.5L548.2 125.5L548.2 129.2L548.2 132.6L548.3 135.7L548.3 138.4L548.3 140.9L548.4 142.9L548.4 144.7L548.5 146.0L548.5 146.9L548.5 147.5L548.6 147.7L548.6 147.4L548.6 146.8L548.7 145.8L548.7 144.4L548.8 142.6L548.8 140.5L548.8 138.0L548.9 135.2L548.9 132.0L548.9 128.6L549.0 124.9L549.0 120.9L549.1 116.7L549.1 112.3L549.1 107.7L549.2 102.9L549.2 98.1L549.2 93.1L549.3 88.1L549.3 83.1L549.4 78.0L549.4 73.0L549.4 68.0L549.5 63.2L549.5 58.5L549.5 53.9L549.6 49.5L549.6 45.3L549.7 41.3L549.7 37.6L549.7 34.2L549.8 31.0L549.8 28.2L549.8 25.8L549.9 23.7L549.9 21.9L550.0 20.5L550.0 19.5L550.0 18.9L550.1 18.7L550.1 18.9L550.1 19.5L550.2 20.5L550.2 21.8L550.2 23.6L550.3 25.7L550.3 28.1L550.4 30.9L550.4 34.0L550.4 37.4L550.5 41.1L550.5 45.1L550.5 49.3L550.6 53.7L550.6 58.2L550.7 63.0L550.7 67.8L550.7 72.8L550.8 77.8L550.8 82.8L550.8 87.9L550.9 92.9L550.9 97.9L551.0 102.7L551.0 107.5L551.0 112.1L551.1 116.5L551.1 120.7L551.1 124.7L551.2 128.4L551.2 131.9L551.3 135.1L551.3 137.9L551.3 140.4L551.4 142.5L551.4 144.3L551.4 145.8L551.5 146.8L551.5 147.4L551.6 147.7L551.6 147.5L551.6 147.0L551.7 146.0L551.7 144.7L551.7 143.0L551.8 141.0L551.8 138.5L551.9 135.8L551.9 132.7L551.9 129.3L552.0 125.7L552.0 121.7L552.0 117.6L552.1 113.2L552.1 108.6L552.2 103.9L552.2 99.1L552.2 94.1L552.3 89.1L552.3 84.1L552.3 79.0L552.4 74.0L552.4 69.1L552.4 64.2L552.5 59.4L552.5 54.8L552.6 50.4L552.6 46.1L552.6 42.1L552.7 38.3L552.7 34.8L552.7 31.7L552.8 28.8L552.8 26.2L552.9 24.1L552.9 22.2L552.9 20.8L553.0 19.7L553.0 19.0L553.0 18.7L553.1 18.8L553.1 19.3L553.2 20.2L553.2 21.5L553.2 23.2L553.3 25.2L553.3 27.6L553.3 30.3L553.4 33.4L553.4 36.7L553.5 40.4L553.5 44.3L553.5 48.4L553.6 52.8L553.6 57.3L553.6 62.0L553.7 66.8L553.7 71.8L553.8 76.8L553.8 81.8L553.8 86.8L553.9 91.9L553.9 96.8L553.9 101.7L554.0 106.5L554.0 111.1L554.1 115.6L554.1 119.9L554.1 123.9L554.2 127.7L554.2 131.2L554.2 134.4L554.3 137.3L554.3 139.9L554.4 142.1L554.4 144.0L554.4 145.5L554.5 146.6L554.5 147.3L554.5 147.7L554.6 147.6L554.6 147.1L554.7 146.3L554.7 145.0L554.7 143.4L554.8 141.4L554.8 139.1L554.8 136.4L554.9 133.4L554.9 130.0L554.9 126.4L555.0 122.6L555.0 118.4L555.1 114.1L555.1 109.6L555.1 104.9L555.2 100.1L555.2 95.2L555.2 90.2L555.3 85.1L555.3 80.1L555.4 75.0L555.4 70.1L555.4 65.2L555.5 60.4L555.5 55.7L555.5 51.2L555.6 47.0L555.6 42.9L555.7 39.1L555.7 35.5L555.7 32.3L555.8 29.3L555.8 26.7L555.8 24.5L555.9 22.6L555.9 21.0L556.0 19.9L556.0 19.1L556.0 18.8L556.1 18.8L556.1 19.2L556.1 20.0L556.2 21.2L556.2 22.8L556.3 24.8L556.3 27.1L556.3 29.7L556.4 32.7L556.4 36.0L556.4 39.6L556.5 43.4L556.5 47.5L556.6 51.8L556.6 56.4L556.6 61.0L556.7 65.8L556.7 70.7L556.7 75.7L556.8 80.8L556.8 85.8L556.9 90.8L556.9 95.8L556.9 100.7L557.0 105.5L557.0 110.2L557.0 114.7L557.1 119.0L557.1 123.1L557.2 126.9L557.2 130.5L557.2 133.8L557.3 136.8L557.3 139.4L557.3 141.7L557.4 143.7L557.4 145.2L557.4 146.4L557.5 147.2L557.5 147.6L557.6 147.6L557.6 147.3L557.6 146.5L557.7 145.3L557.7 143.8L557.7 141.9L557.8 139.6L557.8 137.0L557.9 134.0L557.9 130.7L557.9 127.2L558.0 123.4L558.0 119.3L558.0 115.0L558.1 110.5L558.1 105.9L558.2 101.1L558.2 96.2L558.2 91.2L558.3 86.2L558.3 81.1L558.3 76.1L558.4 71.1L558.4 66.2L558.5 61.3L558.5 56.7L558.5 52.1L558.6 47.8L558.6 43.7L558.6 39.8L558.7 36.2L558.7 32.9L558.8 29.9L558.8 27.2L558.8 24.9L558.9 22.9L558.9 21.3L558.9 20.1L559.0 19.3L559.0 18.8L559.1 18.8L559.1 19.1L559.1 19.8L559.2 21.0L559.2 22.5L559.2 24.3L559.3 26.6L559.3 29.2L559.4 32.1L559.4 35.3L559.4 38.8L559.5 42.6L559.5 46.7L559.5 50.9L559.6 55.4L559.6 60.1L559.6 64.8L559.7 69.7L559.7 74.7L559.8 79.7L559.8 84.8L559.8 89.8L559.9 94.8L559.9 99.7L559.9 104.6L560.0 109.3L560.0 113.8L560.1 118.1L560.1 122.3L560.1 126.2L560.2 129.8L560.2 133.1L560.2 136.2L560.3 138.9L560.3 141.3L560.4 143.3L560.4 144.9L560.4 146.2L560.5 147.1L560.5 147.6L560.5 147.7L560.6 147.4L560.6 146.7L560.7 145.6L560.7 144.1L560.7 142.3L560.8 140.1L560.8 137.5L560.8 134.6L560.9 131.4L560.9 127.9L561.0 124.2L561.0 120.1L561.0 115.9L561.1 111.4L561.1 106.8L561.1 102.1L561.2 97.2L561.2 92.2L561.3 87.2L561.3 82.1L561.3 77.1L561.4 72.1L561.4 67.2L561.4 62.3L561.5 57.6L561.5 53.1L561.6 48.7L561.6 44.5L561.6 40.6L561.7 37.0L561.7 33.6L561.7 30.5L561.8 27.8L561.8 25.4L561.9 23.3L561.9 21.6L561.9 20.3L562.0 19.4L562.0 18.9L562.0 18.7L562.1 19.0L562.1 19.6L562.1 20.7L562.2 22.1L562.2 23.9L562.3 26.1L562.3 28.6L562.3 31.5L562.4 34.6L562.4 38.1L562.4 41.8L562.5 45.8L562.5 50.1L562.6 54.5L562.6 59.1L562.6 63.8L562.7 68.7L562.7 73.7L562.7 78.7L562.8 83.7L562.8 88.8L562.9 93.8L562.9 98.7L562.9 103.6L563.0 108.3L563.0 112.9L563.0 117.3L563.1 121.5L563.1 125.4L563.2 129.1L563.2 132.5L563.2 135.6L563.3 138.4L563.3 140.8L563.3 142.9L563.4 144.6L563.4 146.0L563.5 146.9L563.5 147.5L563.5 147.7L563.6 147.5L563.6 146.8L563.6 145.8L563.7 144.4L563.7 142.7L563.8 140.6L563.8 138.1L563.8 135.3L563.9 132.1L563.9 128.7L563.9 125.0L564.0 121.0L564.0 116.8L564.1 112.4L564.1 107.8L564.1 103.0L564.2 98.2L564.2 93.2L564.2 88.2L564.3 83.2L564.3 78.1L564.3 73.1L564.4 68.2L564.4 63.3L564.5 58.6L564.5 54.0L564.5 49.6L564.6 45.4L564.6 41.4L564.6 37.7L564.7 34.2L564.7 31.1L564.8 28.3L564.8 25.8L564.8 23.7L564.9 21.9L564.9 20.5L564.9 19.5L565.0 18.9L565.0 18.7L565.1 18.9L565.1 19.5L565.1 20.4L565.2 21.8L565.2 23.5L565.2 25.6L565.3 28.1L565.3 30.8L565.4 34.0L565.4 37.4L565.4 41.0L565.5 45.0L565.5 49.2L565.5 53.6L565.6 58.1L565.6 62.9L565.7 67.7L565.7 72.7L565.7 77.7L565.8 82.7L565.8 87.8L565.8 92.8L565.9 97.7L565.9 102.6L566.0 107.4L566.0 112.0L566.0 116.4L566.1 120.6L566.1 124.6L566.1 128.4L566.2 131.8L566.2 135.0L566.3 137.8L566.3 140.3L566.3 142.5L566.4 144.3L566.4 145.7L566.4 146.8L566.5 147.4L566.5 147.7L566.6 147.5L566.6 147.0L566.6 146.1L566.7 144.8L566.7 143.1L566.7 141.0L566.8 138.6L566.8 135.9L566.8 132.8L566.9 129.4L566.9 125.7L567.0 121.8L567.0 117.7L567.0 113.3L567.1 108.7L567.1 104.0L567.1 99.2L567.2 94.2L567.2 89.2L567.3 84.2L567.3 79.2L567.3 74.1L567.4 69.2L567.4 64.3L567.4 59.5L567.5 54.9L567.5 50.4L567.6 46.2L567.6 42.2L567.6 38.4L567.7 34.9L567.7 31.7L567.7 28.8L567.8 26.3L567.8 24.1L567.9 22.3L567.9 20.8L567.9 19.7L568.0 19.0L568.0 18.7L568.0 18.8L568.1 19.3L568.1 20.2L568.2 21.5L568.2 23.1L568.2 25.2L568.3 27.5L568.3 30.2L568.3 33.3L568.4 36.6L568.4 40.3L568.5 44.2L568.5 48.3L568.5 52.7L568.6 57.2L568.6 61.9L568.6 66.7L568.7 71.6L568.7 76.6L568.8 81.7L568.8 86.7L568.8 91.8L568.9 96.7L568.9 101.6L568.9 106.4L569.0 111.0L569.0 115.5L569.1 119.8L569.1 123.8L569.1 127.6L569.2 131.1L569.2 134.4L569.2 137.3L569.3 139.9L569.3 142.1L569.3 144.0L569.4 145.5L569.4 146.6L569.5 147.3L569.5 147.7L569.5 147.6L569.6 147.1L569.6 146.3L569.6 145.1L569.7 143.4L569.7 141.5L569.8 139.1L569.8 136.4L569.8 133.4L569.9 130.1L569.9 126.5L569.9 122.6L570.0 118.5L570.0 114.2L570.1 109.7L570.1 105.0L570.1 100.2L570.2 95.3L570.2 90.3L570.2 85.2L570.3 80.2L570.3 75.2L570.4 70.2L570.4 65.3L570.4 60.5L570.5 55.8L570.5 51.3L570.5 47.1L570.6 43.0L570.6 39.2L570.7 35.6L570.7 32.4L570.7 29.4L570.8 26.8L570.8 24.5L570.8 22.6L570.9 21.1L570.9 19.9L571.0 19.1L571.0 18.8L571.0 18.8L571.1 19.2L571.1 20.0L571.1 21.2L571.2 22.8L571.2 24.7L571.3 27.0L571.3 29.7L571.3 32.6L571.4 35.9L571.4 39.5L571.4 43.4L571.5 47.4L571.5 51.7L571.5 56.2L571.6 60.9L571.6 65.7L571.7 70.6L571.7 75.6L571.7 80.7L571.8 85.7L571.8 90.7L571.8 95.7L571.9 100.6L571.9 105.4L572.0 110.1L572.0 114.6L572.0 118.9L572.1 123.0L572.1 126.9L572.1 130.4L572.2 133.7L572.2 136.7L572.3 139.4L572.3 141.7L572.3 143.6L572.4 145.2L572.4 146.4L572.4 147.2L572.5 147.6L572.5 147.6L572.6 147.3L572.6 146.5L572.6 145.3L572.7 143.8L572.7 141.9L572.7 139.6L572.8 137.0L572.8 134.1L572.9 130.8L572.9 127.3L572.9 123.5L573.0 119.4L573.0 115.1L573.0 110.6L573.1 106.0L573.1 101.2L573.2 96.3L573.2 91.3L573.2 86.3L573.3 81.2L573.3 76.2L573.3 71.2L573.4 66.3L573.4 61.4L573.5 56.8L573.5 52.2L573.5 47.9L573.6 43.8L573.6 39.9L573.6 36.3L573.7 33.0L573.7 30.0L573.8 27.3L573.8 25.0L573.8 23.0L573.9 21.4L573.9 20.1L573.9 19.3L574.0 18.8L574.0 18.7L574.0 19.1L574.1 19.8L574.1 20.9L574.2 22.4L574.2 24.3L574.2 26.5L574.3 29.1L574.3 32.0L574.3 35.2L574.4 38.8L574.4 42.5L574.5 46.6L574.5 50.8L574.5 55.3L574.6 59.9L574.6 64.7L574.6 69.6L574.7 74.6L574.7 79.6L574.8 84.7L574.8 89.7L574.8 94.7L574.9 99.6L574.9 104.5L574.9 109.2L575.0 113.7L575.0 118.1L575.1 122.2L575.1 126.1L575.1 129.7L575.2 133.1L575.2 136.1L575.2 138.8L575.3 141.2L575.3 143.2L575.4 144.9L575.4 146.2L575.4 147.1L575.5 147.6L575.5 147.7L575.5 147.4L575.6 146.7L575.6 145.6L575.7 144.2L575.7 142.3L575.7 140.1L575.8 137.6L575.8 134.7L575.8 131.5L575.9 128.0L575.9 124.3L576.0 120.2L576.0 116.0L576.0 111.6L576.1 106.9L576.1 102.2L576.1 97.3L576.2 92.3L576.2 87.3L576.3 82.2L576.3 77.2L576.3 72.2L576.4 67.3L576.4 62.4L576.4 57.7L576.5 53.2L576.5 48.8L576.5 44.6L576.6 40.7L576.6 37.0L576.7 33.7L576.7 30.6L576.7 27.8L576.8 25.4L576.8 23.3L576.8 21.7L576.9 20.3L576.9 19.4L577.0 18.9L577.0 18.7L577.0 19.0L577.1 19.6L577.1 20.7L577.1 22.1L577.2 23.9L577.2 26.0L577.3 28.5L577.3 31.4L577.3 34.5L577.4 38.0L577.4 41.7L577.4 45.7L577.5 50.0L577.5 54.4L577.6 59.0L577.6 63.7L577.6 68.6L577.7 73.6L577.7 78.6L577.7 83.6L577.8 88.7L577.8 93.7L577.9 98.6L577.9 103.5L577.9 108.2L578.0 112.8L578.0 117.2L578.0 121.4L578.1 125.3L578.1 129.0L578.2 132.4L578.2 135.5L578.2 138.3L578.3 140.8L578.3 142.9L578.3 144.6L578.4 145.9L578.4 146.9L578.5 147.5L578.5 147.7L578.5 147.5L578.6 146.9L578.6 145.9L578.6 144.5L578.7 142.7L578.7 140.6L578.7 138.1L578.8 135.3L578.8 132.2L578.9 128.8L578.9 125.0L578.9 121.1L579.0 116.9L579.0 112.5L579.0 107.9L579.1 103.2L579.1 98.3L579.2 93.3L579.2 88.3L579.2 83.3L579.3 78.2L579.3 73.2L579.3 68.3L579.4 63.4L579.4 58.7L579.5 54.1L579.5 49.7L579.5 45.5L579.6 41.5L579.6 37.8L579.6 34.3L579.7 31.2L579.7 28.4L579.8 25.9L579.8 23.7L579.8 22.0L579.9 20.6L579.9 19.6L579.9 18.9L580.0 18.7L580.0 18.9L580.1 19.5L580.1 20.4L580.1 21.8L580.2 23.5L580.2 25.6L580.2 28.0L580.3 30.8L580.3 33.9L580.4 37.3L580.4 41.0L580.4 44.9L580.5 49.1L580.5 53.5L580.5 58.0L580.6 62.8L580.6 67.6L580.7 72.5L580.7 77.6L580.7 82.6L580.8 87.7L580.8 92.7L580.8 97.6L580.9 102.5L580.9 107.3L581.0 111.9L581.0 116.3L581.0 120.5L581.1 124.5L581.1 128.3L581.1 131.7L581.2 134.9L581.2 137.8L581.2 140.3L581.3 142.5L581.3 144.3L581.4 145.7L581.4 146.7L581.4 147.4L581.5 147.7L581.5 147.5L581.5 147.0L581.6 146.1L581.6 144.8L581.7 143.1L581.7 141.1L581.7 138.7L581.8 135.9L581.8 132.9L581.8 129.5L581.9 125.8L581.9 121.9L582.0 117.8L582.0 113.4L582.0 108.8L582.1 104.1L582.1 99.3L582.1 94.4L582.2 89.4L582.2 84.3L582.3 79.3L582.3 74.2L582.3 69.3L582.4 64.4L582.4 59.6L582.4 55.0L582.5 50.5L582.5 46.3L582.6 42.3L582.6 38.5L582.6 35.0L582.7 31.8L582.7 28.9L582.7 26.4L582.8 24.1L582.8 22.3L582.9 20.8L582.9 19.7L582.9 19.0L583.0 18.7L583.0 18.8L583.0 19.3L583.1 20.2L583.1 21.5L583.2 23.1L583.2 25.1L583.2 27.5L583.3 30.2L583.3 33.2L583.3 36.6L583.4 40.2L583.4 44.1L583.4 48.2L583.5 52.6L583.5 57.1L583.6 61.8L583.6 66.6L583.6 71.5L583.7 76.5L583.7 81.6L583.7 86.6L583.8 91.6L583.8 96.6L583.9 101.5L583.9 106.3L583.9 110.9L584.0 115.4L584.0 119.7L584.0 123.7L584.1 127.5L584.1 131.1L584.2 134.3L584.2 137.2L584.2 139.8L584.3 142.0L584.3 143.9L584.3 145.4L584.4 146.6L584.4 147.3L584.5 147.6L584.5 147.6L584.5 147.2L584.6 146.3L584.6 145.1L584.6 143.5L584.7 141.5L584.7 139.2L584.8 136.5L584.8 133.5L584.8 130.2L584.9 126.6L584.9 122.7L584.9 118.6L585.0 114.3L585.0 109.8L585.1 105.1L585.1 100.3L585.1 95.4L585.2 90.4L585.2 85.3L585.2 80.3L585.3 75.3L585.3 70.3L585.4 65.4L585.4 60.6L585.4 55.9L585.5 51.4L585.5 47.1L585.5 43.1L585.6 39.2L585.6 35.7L585.7 32.4L585.7 29.5L585.7 26.8L585.8 24.6L585.8 22.6L585.8 21.1L585.9 19.9L585.9 19.2L585.9 18.8L586.0 18.8L586.0 19.2L586.1 20.0L586.1 21.2L586.1 22.7L586.2 24.7L586.2 27.0L586.2 29.6L586.3 32.6L586.3 35.9L586.4 39.4L586.4 43.3L586.4 47.3L586.5 51.6L586.5 56.1L586.5 60.8L586.6 65.6L586.6 70.5L586.7 75.5L586.7 80.5L586.7 85.6L586.8 90.6L586.8 95.6L586.8 100.5L586.9 105.3L586.9 110.0L587.0 114.5L587.0 118.8L587.0 122.9L587.1 126.8L587.1 130.4L587.1 133.7L587.2 136.6L587.2 139.3L587.3 141.6L587.3 143.6L587.3 145.2L587.4 146.4L587.4 147.2L587.4 147.6L587.5 147.6L587.5 147.3L587.6 146.5L587.6 145.4L587.6 143.8L587.7 141.9L587.7 139.7L587.7 137.1L587.8 134.1L587.8 130.9L587.9 127.4L587.9 123.5L587.9 119.5L588.0 115.2L588.0 110.7L588.0 106.1L588.1 101.3L588.1 96.4L588.2 91.4L588.2 86.4L588.2 81.3L588.3 76.3L588.3 71.3L588.3 66.4L588.4 61.6L588.4 56.9L588.4 52.3L588.5 48.0L588.5 43.9L588.6 40.0L588.6 36.4L588.6 33.1L588.7 30.0L588.7 27.4L588.7 25.0L588.8 23.0L588.8 21.4L588.9 20.1L588.9 19.3L588.9 18.8L589.0 18.7L589.0 19.1L589.0 19.8L589.1 20.9L589.1 22.4L589.2 24.2L589.2 26.5L589.2 29.0L589.3 31.9L589.3 35.2L589.3 38.7L589.4 42.5L589.4 46.5L589.5 50.8L589.5 55.2L589.5 59.8L589.6 64.6L589.6 69.5L589.6 74.5L589.7 79.5L589.7 84.6L589.8 89.6L589.8 94.6L589.8 99.5L589.9 104.4L589.9 109.1L589.9 113.6L590.0 118.0L590.0 122.1L590.1 126.0L590.1 129.7L590.1 133.0L590.2 136.1L590.2 138.8L590.2 141.2L590.3 143.2L590.3 144.9L590.4 146.2L590.4 147.0L590.4 147.6L590.5 147.7L590.5 147.4L590.5 146.7L590.6 145.6L590.6 144.2L590.6 142.4L590.7 140.2L590.7 137.6L590.8 134.8L590.8 131.6L590.8 128.1L590.9 124.3L590.9 120.3L590.9 116.1L591.0 111.7L591.0 107.0L591.1 102.3L591.1 97.4L591.1 92.4L591.2 87.4L591.2 82.4L591.2 77.3L591.3 72.3L591.3 67.4L591.4 62.5L591.4 57.8L591.4 53.3L591.5 48.9L591.5 44.7L591.5 40.8L591.6 37.1L591.6 33.7L591.7 30.6L591.7 27.9L591.7 25.5L591.8 23.4L591.8 21.7L591.8 20.4L591.9 19.4L591.9 18.9L592.0 18.7L592.0 19.0L592.0 19.6L592.1 20.6L592.1 22.0L592.1 23.8L592.2 26.0L592.2 28.5L592.3 31.3L592.3 34.5L592.3 37.9L592.4 41.7L592.4 45.6L592.4 49.9L592.5 54.3L592.5 58.9L592.6 63.6L592.6 68.5L592.6 73.5L592.7 78.5L592.7 83.5L592.7 88.6L592.8 93.6L592.8 98.5L592.9 103.4L592.9 108.1L592.9 112.7L593.0 117.1L593.0 121.3L593.0 125.2L593.1 128.9L593.1 132.3L593.1 135.5L593.2 138.3L593.2 140.7L593.3 142.8L593.3 144.6L593.3 145.9L593.4 146.9L593.4 147.5L593.4 147.7L593.5 147.5L593.5 146.9L593.6 145.9L593.6 144.5L593.6 142.8L593.7 140.7L593.7 138.2L593.7 135.4L593.8 132.3L593.8 128.8L593.9 125.1L593.9 121.2L593.9 117.0L594.0 112.6L594.0 108.0L594.0 103.3L594.1 98.4L594.1 93.5L594.2 88.4L594.2 83.4L594.2 78.3L594.3 73.3L594.3 68.4L594.3 63.5L594.4 58.8L594.4 54.2L594.5 49.8L594.5 45.5L594.5 41.6L594.6 37.8L594.6 34.4L594.6 31.2L594.7 28.4L594.7 25.9L594.8 23.8L594.8 22.0L594.8 20.6L594.9 19.6L594.9 19.0L594.9 18.7L595.0 18.9L595.0 19.4L595.1 20.4L595.1 21.7L595.1 23.4L595.2 25.5L595.2 27.9L595.2 30.7L595.3 33.8L595.3 37.2L595.4 40.9L595.4 44.8L595.4 49.0L595.5 53.4L595.5 57.9L595.5 62.7L595.6 67.5L595.6 72.4L595.6 77.4L595.7 82.5L595.7 87.5L595.8 92.6L595.8 97.5L595.8 102.4L595.9 107.2L595.9 111.8L595.9 116.2L596.0 120.4L596.0 124.4L596.1 128.2L596.1 131.7L596.1 134.8L596.2 137.7L596.2 140.2L596.2 142.4L596.3 144.2L596.3 145.7L596.4 146.7L596.4 147.4L596.4 147.7L596.5 147.5L596.5 147.0L596.5 146.1L596.6 144.8L596.6 143.2L596.7 141.1L596.7 138.7L596.7 136.0L596.8 132.9L596.8 129.6L596.8 125.9L596.9 122.0L596.9 117.9L597.0 113.5L597.0 108.9L597.0 104.2L597.1 99.4L597.1 94.5L597.1 89.5L597.2 84.4L597.2 79.4L597.3 74.4L597.3 69.4L597.3 64.5L597.4 59.7L597.4 55.1L597.4 50.6L597.5 46.4L597.5 42.4L597.6 38.6L597.6 35.1L597.6 31.9L597.7 29.0L597.7 26.4L597.7 24.2L597.8 22.3L597.8 20.9L597.8 19.8L597.9 19.1L597.9 18.7L598.0 18.8L598.0 19.3L598.0 20.2L598.1 21.4L598.1 23.1L598.1 25.1L598.2 27.4L598.2 30.1L598.3 33.1L598.3 36.5L598.3 40.1L598.4 44.0L598.4 48.1L598.4 52.5L598.5 57.0L598.5 61.7L598.6 66.5L598.6 71.4L598.6 76.4L598.7 81.5L598.7 86.5L598.7 91.5L598.8 96.5L598.8 101.4L598.9 106.2L598.9 110.8L598.9 115.3L599.0 119.6L599.0 123.6L599.0 127.4L599.1 131.0L599.1 134.2L599.2 137.2L599.2 139.8L599.2 142.0L599.3 143.9L599.3 145.4L599.3 146.5L599.4 147.3L599.4 147.6L599.5 147.6L599.5 147.2L599.5 146.3L599.6 145.1L599.6 143.5L599.6 141.6L599.7 139.2L599.7 136.6L599.8 133.6L599.8 130.3L599.8 126.7L599.9 122.8L599.9 118.7L599.9 114.4L600.0 109.9L600.0 105.2L600.1 100.4L600.1 95.5L600.1 90.5L600.2 85.5L600.2 80.4L600.2 75.4L600.3 70.4L600.3 65.5L600.3 60.7L600.4 56.0L600.4 51.5L600.5 47.2L600.5 43.2L600.5 39.3L600.6 35.8L600.6 32.5L600.6 29.5L600.7 26.9L600.7 24.6L600.8 22.7L600.8 21.1L600.8 20.0L600.9 19.2L600.9 18.8L600.9 18.8L601.0 19.2L601.0 20.0L601.1 21.1L601.1 22.7L601.1 24.6L601.2 26.9L601.2 29.5L601.2 32.5L601.3 35.8L601.3 39.3L601.4 43.2L601.4 47.3L601.4 51.6L601.5 56.0L601.5 60.7L601.5 65.5L601.6 70.4L601.6 75.4L601.7 80.4L601.7 85.5L601.7 90.5L601.8 95.5L601.8 100.4L601.8 105.2L601.9 109.9L601.9 114.4L602.0 118.7L602.0 122.8L602.0 126.7L602.1 130.3L602.1 133.6L602.1 136.6L602.2 139.2L602.2 141.6L602.3 143.5L602.3 145.1L602.3 146.3L602.4 147.2L602.4 147.6L602.4 147.6L602.5 147.3L602.5 146.5L602.5 145.4L602.6 143.9L602.6 142.0L602.7 139.7L602.7 137.1L602.7 134.2L602.8 131.0L602.8 127.4L602.8 123.6L602.9 119.6L602.9 115.3L603.0 110.8L603.0 106.2L603.0 101.4L603.1 96.5L603.1 91.5L603.1 86.5L603.2 81.4L603.2 76.4L603.3 71.4L603.3 66.5L603.3 61.7L603.4 57.0L603.4 52.4L603.4 48.1L603.5 44.0L603.5 40.1L603.6 36.5L603.6 33.1L603.6 30.1L603.7 27.4L603.7 25.1L603.7 23.1L603.8 21.4L603.8 20.2L603.9 19.3L603.9 18.8L603.9 18.7L604.0 19.1L604.0 19.8L604.0 20.9L604.1 22.3L604.1 24.2L604.2 26.4L604.2 29.0L604.2 31.9L604.3 35.1L604.3 38.6L604.3 42.4L604.4 46.4L604.4 50.7L604.5 55.1L604.5 59.7L604.5 64.5L604.6 69.4L604.6 74.4L604.6 79.4L604.7 84.4L604.7 89.5L604.8 94.5L604.8 99.4L604.8 104.3L604.9 109.0L604.9 113.5L604.9 117.9L605.0 122.0L605.0 125.9L605.0 129.6L605.1 132.9L605.1 136.0L605.2 138.7L605.2 141.1L605.2 143.2L605.3 144.8L605.3 146.1L605.3 147.0L605.4 147.5L605.4 147.7L605.5 147.4L605.5 146.7L605.5 145.7L605.6 144.2L605.6 142.4L605.6 140.2L605.7 137.7L605.7 134.8L605.8 131.7L605.8 128.2L605.8 124.4L605.9 120.4L605.9 116.2L605.9 111.8L606.0 107.1L606.0 102.4L606.1 97.5L606.1 92.5L606.1 87.5L606.2 82.5L606.2 77.4L606.2 72.4L606.3 67.5L606.3 62.6L606.4 57.9L606.4 53.4L606.4 49.0L606.5 44.8L606.5 40.9L606.5 37.2L606.6 33.8L606.6 30.7L606.7 27.9L606.7 25.5L606.7 23.4L606.8 21.7L606.8 20.4L606.8 19.4L606.9 18.9L606.9 18.7L607.0 19.0L607.0 19.6L607.0 20.6L607.1 22.0L607.1 23.8L607.1 25.9L607.2 28.4L607.2 31.3L607.3 34.4L607.3 37.8L607.3 41.6L607.4 45.6L607.4 49.8L607.4 54.2L607.5 58.8L607.5 63.5L607.5 68.4L607.6 73.3L607.6 78.4L607.7 83.4L607.7 88.5L607.7 93.5L607.8 98.4L607.8 103.3L607.8 108.0L607.9 112.6L607.9 117.0L608.0 121.2L608.0 125.1L608.0 128.8L608.1 132.3L608.1 135.4L608.1 138.2L608.2 140.7L608.2 142.8L608.3 144.5L608.3 145.9L608.3 146.9L608.4 147.5L608.4 147.7L608.4 147.5L608.5 146.9L608.5 145.9L608.6 144.6L608.6 142.8L608.6 140.7L608.7 138.2L608.7 135.5L608.7 132.3L608.8 128.9L608.8 125.2L608.9 121.3L608.9 117.1L608.9 112.7L609.0 108.1L609.0 103.4L609.0 98.5L609.1 93.6L609.1 88.6L609.2 83.5L609.2 78.5L609.2 73.4L609.3 68.5L609.3 63.6L609.3 58.9L609.4 54.3L609.4 49.8L609.5 45.6L609.5 41.6L609.5 37.9L609.6 34.5L609.6 31.3L609.6 28.5L609.7 26.0L609.7 23.8L609.7 22.0L609.8 20.6L609.8 19.6L609.9 19.0L609.9 18.7L609.9 18.9L610.0 19.4L610.0 20.4L610.0 21.7L610.1 23.4L610.1 25.5L610.2 27.9L610.2 30.6L610.2 33.7L610.3 37.1L610.3 40.8L610.3 44.7L610.4 48.9L610.4 53.3L610.5 57.8L610.5 62.5L610.5 67.4L610.6 72.3L610.6 77.3L610.6 82.4L610.7 87.4L610.7 92.4L610.8 97.4L610.8 102.3L610.8 107.1L610.9 111.7L610.9 116.1L610.9 120.3L611.0 124.4L611.0 128.1L611.1 131.6L611.1 134.8L611.1 137.7L611.2 140.2L611.2 142.4L611.2 144.2L611.3 145.6L611.3 146.7L611.4 147.4L611.4 147.7L611.4 147.6L611.5 147.0L611.5 146.1L611.5 144.9L611.6 143.2L611.6 141.2L611.7 138.8L611.7 136.0L611.7 133.0L611.8 129.6L611.8 126.0L611.8 122.1L611.9 117.9L611.9 113.6L612.0 109.0L612.0 104.3L612.0 99.5L612.1 94.6L612.1 89.6L612.1 84.5L612.2 79.5L612.2 74.5L612.2 69.5L612.3 64.6L612.3 59.8L612.4 55.2L612.4 50.7L612.4 46.5L612.5 42.4L612.5 38.7L612.5 35.1L612.6 31.9L612.6 29.0L612.7 26.5L612.7 24.2L612.7 22.4L612.8 20.9L612.8 19.8L612.8 19.1L612.9 18.7L612.9 18.8L613.0 19.3L613.0 20.1L613.0 21.4L613.1 23.0L613.1 25.0L613.1 27.4L613.2 30.1L613.2 33.1L613.3 36.4L613.3 40.0L613.3 43.9L613.4 48.0L613.4 52.4L613.4 56.9L613.5 61.6L613.5 66.4L613.6 71.3L613.6 76.3L613.6 81.3L613.7 86.4L613.7 91.4L613.7 96.4L613.8 101.3L613.8 106.1L613.9 110.7L613.9 115.2L613.9 119.5L614.0 123.6L614.0 127.4L614.0 130.9L614.1 134.2L614.1 137.1L614.2 139.7L614.2 142.0L614.2 143.9L614.3 145.4L614.3 146.5L614.3 147.3L614.4 147.6L614.4 147.6L614.5 147.2L614.5 146.4L614.5 145.2L614.6 143.6L614.6 141.6L614.6 139.3L614.7 136.6L614.7 133.6L614.7 130.3L614.8 126.8L614.8 122.9L614.9 118.8L614.9 114.5L614.9 110.0L615.0 105.3L615.0 100.5L615.0 95.6L615.1 90.6L615.1 85.6L615.2 80.5L615.2 75.5L615.2 70.5L615.3 65.6L615.3 60.8L615.3 56.1L615.4 51.6L615.4 47.3L615.5 43.2L615.5 39.4L615.5 35.8L615.6 32.6L615.6 29.6L615.6 27.0L615.7 24.7L615.7 22.7L615.8 21.2L615.8 20.0L615.8 19.2L615.9 18.8L615.9 18.8L615.9 19.2L616.0 19.9L616.0 21.1L616.1 22.7L616.1 24.6L616.1 26.9L616.2 29.5L616.2 32.4L616.2 35.7L616.3 39.3L616.3 43.1L616.4 47.2L616.4 51.5L616.4 55.9L616.5 60.6L616.5 65.4L616.5 70.3L616.6 75.3L616.6 80.3L616.7 85.4L616.7 90.4L616.7 95.4L616.8 100.3L616.8 105.1L616.8 109.8L616.9 114.3L616.9 118.6L616.9 122.7L617.0 126.6L617.0 130.2L617.1 133.5L617.1 136.5L617.1 139.2L617.2 141.5L617.2 143.5L617.2 145.1L617.3 146.3L617.3 147.2L617.4 147.6L617.4 147.6L617.4 147.3L617.5 146.6L617.5 145.4L617.5 143.9L617.6 142.0L617.6 139.8L617.7 137.2L617.7 134.3L617.7 131.0L617.8 127.5L617.8 123.7L617.8 119.7L617.9 115.4L617.9 110.9L618.0 106.3L618.0 101.5L618.0 96.6L618.1 91.6L618.1 86.6L618.1 81.6L618.2 76.5L618.2 71.5L618.3 66.6L618.3 61.8L618.3 57.1L618.4 52.5L618.4 48.2L618.4 44.1L618.5 40.2L618.5 36.5L618.6 33.2L618.6 30.2L618.6 27.5L618.7 25.1L618.7 23.1L618.7 21.4L618.8 20.2L618.8 19.3L618.9 18.8L618.9 18.7L618.9 19.0L619.0 19.7L619.0 20.8L619.0 22.3L619.1 24.2L619.1 26.4L619.2 28.9L619.2 31.8L619.2 35.0L619.3 38.5L619.3 42.3L619.3 46.3L619.4 50.6L619.4 55.0L619.4 59.6L619.5 64.4L619.5 69.3L619.6 74.3L619.6 79.3L619.6 84.3L619.7 89.4L619.7 94.4L619.7 99.3L619.8 104.1L619.8 108.9L619.9 113.4L619.9 117.8L619.9 121.9L620.0 125.8L620.0 129.5L620.0 132.9L620.1 135.9L620.1 138.7L620.2 141.1L620.2 143.1L620.2 144.8L620.3 146.1L620.3 147.0L620.3 147.5L620.4 147.7L620.4 147.4L620.5 146.7L620.5 145.7L620.5 144.3L620.6 142.5L620.6 140.3L620.6 137.8L620.7 134.9L620.7 131.7L620.8 128.3L620.8 124.5L620.8 120.5L620.9 116.3L620.9 111.9L620.9 107.2L621.0 102.5L621.0 97.6L621.1 92.7L621.1 87.6L621.1 82.6L621.2 77.5L621.2 72.5L621.2 67.6L621.3 62.7L621.3 58.0L621.4 53.5L621.4 49.1L621.4 44.9L621.5 40.9L621.5 37.3L621.5 33.9L621.6 30.8L621.6 28.0L621.6 25.6L621.7 23.5L621.7 21.8L621.8 20.4L621.8 19.5L621.8 18.9L621.9 18.7L621.9 19.0L621.9 19.6L622.0 20.6L622.0 22.0L622.1 23.7L622.1 25.9L622.1 28.4L622.2 31.2L622.2 34.3L622.2 37.8L622.3 41.5L622.3 45.5L622.4 49.7L622.4 54.1L622.4 58.7L622.5 63.4L622.5 68.3L622.5 73.2L622.6 78.3L622.6 83.3L622.7 88.3L622.7 93.4L622.7 98.3L622.8 103.2L622.8 107.9L622.8 112.5L622.9 116.9L622.9 121.1L623.0 125.1L623.0 128.8L623.0 132.2L623.1 135.3L623.1 138.1L623.1 140.6L623.2 142.7L623.2 144.5L623.3 145.9L623.3 146.9L623.3 147.5L623.4 147.7L623.4 147.5L623.4 146.9L623.5 145.9L623.5 144.6L623.6 142.9L623.6 140.8L623.6 138.3L623.7 135.5L623.7 132.4L623.7 129.0L623.8 125.3L623.8 121.4L623.9 117.2L623.9 112.8L623.9 108.2L624.0 103.5L624.0 98.6L624.0 93.7L624.1 88.7L624.1 83.6L624.1 78.6L624.2 73.6L624.2 68.6L624.3 63.7L624.3 59.0L624.3 54.4L624.4 49.9L624.4 45.7L624.4 41.7L624.5 38.0L624.5 34.5L624.6 31.4L624.6 28.5L624.6 26.0L624.7 23.9L624.7 22.1L624.7 20.7L624.8 19.6L624.8 19.0L624.9 18.7L624.9 18.9L624.9 19.4L625.0 20.3L625.0 21.7L625.0 23.4L625.1 25.4L625.1 27.8L625.2 30.6L625.2 33.7L625.2 37.0L625.3 40.7L625.3 44.6L625.3 48.8L625.4 53.2L625.4 57.7L625.5 62.4L625.5 67.3L625.5 72.2L625.6 77.2L625.6 82.3L625.6 87.3L625.7 92.3L625.7 97.3L625.8 102.2L625.8 106.9L625.8 111.6L625.9 116.0L625.9 120.3L625.9 124.3L626.0 128.0L626.0 131.5L626.1 134.7L626.1 137.6L626.1 140.1L626.2 142.3L626.2 144.2L626.2 145.6L626.3 146.7L626.3 147.4L626.4 147.7L626.4 147.6L626.4 147.1L626.5 146.2L626.5 144.9L626.5 143.2L626.6 141.2L626.6 138.8L626.6 136.1L626.7 133.1L626.7 129.7L626.8 126.1L626.8 122.2L626.8 118.0L626.9 113.7L626.9 109.1L626.9 104.5L627.0 99.6L627.0 94.7L627.1 89.7L627.1 84.7L627.1 79.6L627.2 74.6L627.2 69.6L627.2 64.7L627.3 59.9L627.3 55.3L627.4 50.8L627.4 46.6L627.4 42.5L627.5 38.7L627.5 35.2L627.5 32.0L627.6 29.1L627.6 26.5L627.7 24.3L627.7 22.4L627.7 20.9L627.8 19.8L627.8 19.1L627.8 18.7L627.9 18.8L627.9 19.3L628.0 20.1L628.0 21.4L628.0 23.0L628.1 25.0L628.1 27.3L628.1 30.0L628.2 33.0L628.2 36.3L628.3 39.9L628.3 43.8L628.3 47.9L628.4 52.3L628.4 56.8L628.4 61.5L628.5 66.3L628.5 71.2L628.6 76.2L628.6 81.2L628.6 86.3L628.7 91.3L628.7 96.3L628.7 101.2L628.8 106.0L628.8 110.6L628.8 115.1L628.9 119.4L628.9 123.5L629.0 127.3L629.0 130.8L629.0 134.1L629.1 137.0L629.1 139.6L629.1 141.9L629.2 143.8L629.2 145.3L629.3 146.5L629.3 147.3L629.3 147.6L629.4 147.6L629.4 147.2L629.4 146.4L629.5 145.2L629.5 143.6L629.6 141.7L629.6 139.3L629.6 136.7L629.7 133.7L629.7 130.4L629.7 126.8L629.8 123.0L629.8 118.9L629.9 114.6L629.9 110.1L629.9 105.4L630.0 100.6L630.0 95.7L630.0 90.7L630.1 85.7L630.1 80.6L630.2 75.6L630.2 70.6L630.2 65.7L630.3 60.9L630.3 56.2L630.3 51.7L630.4 47.4L630.4 43.3L630.5 39.5L630.5 35.9L630.5 32.6L630.6 29.7L630.6 27.0L630.6 24.7L630.7 22.8L630.7 21.2L630.8 20.0L630.8 19.2L630.8 18.8L630.9 18.8L630.9 19.1L630.9 19.9L631.0 21.1L631.0 22.6L631.1 24.5L631.1 26.8L631.1 29.4L631.2 32.4L631.2 35.6L631.2 39.2L631.3 43.0L631.3 47.1L631.3 51.4L631.4 55.8L631.4 60.5L631.5 65.3L631.5 70.2L631.5 75.2L631.6 80.2L631.6 85.3L631.6 90.3L631.7 95.3L631.7 100.2L631.8 105.0L631.8 109.7L631.8 114.2L631.9 118.5L631.9 122.7L631.9 126.5L632.0 130.1L632.0 133.4L632.1 136.5L632.1 139.1L632.1 141.5L632.2 143.5L632.2 145.1L632.2 146.3L632.3 147.1L632.3 147.6L632.4 147.7L632.4 147.3L632.4 146.6L632.5 145.5L632.5 144.0L632.5 142.1L632.6 139.8L632.6 137.3L632.7 134.4L632.7 131.1L632.7 127.6L632.8 123.8L632.8 119.8L632.8 115.5L632.9 111.0L632.9 106.4L633.0 101.6L633.0 96.7L633.0 91.7L633.1 86.7L633.1 81.7L633.1 76.6L633.2 71.6L633.2 66.7L633.3 61.9L633.3 57.2L633.3 52.6L633.4 48.3L633.4 44.2L633.4 40.3L633.5 36.6L633.5 33.3L633.6 30.2L633.6 27.5L633.6 25.1L633.7 23.1L633.7 21.5L633.7 20.2L633.8 19.3L633.8 18.8L633.8 18.7L633.9 19.0L633.9 19.7L634.0 20.8L634.0 22.3L634.0 24.1L634.1 26.3L634.1 28.9L634.1 31.7L634.2 34.9L634.2 38.4L634.3 42.2L634.3 46.2L634.3 50.5L634.4 54.9L634.4 59.5L634.4 64.3L634.5 69.2L634.5 74.1L634.6 79.2L634.6 84.2L634.6 89.3L634.7 94.3L634.7 99.2L634.7 104.0L634.8 108.8L634.8 113.3L634.9 117.7L634.9 121.8L634.9 125.8L635.0 129.4L635.0 132.8L635.0 135.9L635.1 138.6L635.1 141.0L635.2 143.1L635.2 144.8L635.2 146.1L635.3 147.0L635.3 147.5L635.3 147.7L635.4 147.4L635.4 146.8L635.5 145.7L635.5 144.3L635.5 142.5L635.6 140.3L635.6 137.8L635.6 135.0L635.7 131.8L635.7 128.3L635.8 124.6L635.8 120.6L635.8 116.4L635.9 112.0L635.9 107.3L635.9 102.6L636.0 97.7L636.0 92.8L636.0 87.7L636.1 82.7L636.1 77.7L636.2 72.6L636.2 67.7L636.2 62.8L636.3 58.1L636.3 53.6L636.3 49.2L636.4 45.0L636.4 41.0L636.5 37.3L636.5 33.9L636.5 30.8L636.6 28.1L636.6 25.6L636.6 23.5L636.7 21.8L636.7 20.4L636.8 19.5L636.8 18.9L636.8 18.7L636.9 18.9L636.9 19.6L636.9 20.6L637.0 21.9L637.0 23.7L637.1 25.8L637.1 28.3L637.1 31.1L637.2 34.3L637.2 37.7L637.2 41.4L637.3 45.4L637.3 49.6L637.4 54.0L637.4 58.6L637.4 63.3L637.5 68.2L637.5 73.1L637.5 78.1L637.6 83.2L637.6 88.2L637.7 93.2L637.7 98.2L637.7 103.1L637.8 107.8L637.8 112.4L637.8 116.8L637.9 121.0L637.9 125.0L638.0 128.7L638.0 132.1L638.0 135.3L638.1 138.1L638.1 140.6L638.1 142.7L638.2 144.5L638.2 145.8L638.3 146.8L638.3 147.5L638.3 147.7L638.4 147.5L638.4 146.9L638.4 146.0L638.5 144.6L638.5 142.9L638.5 140.8L638.6 138.4L638.6 135.6L638.7 132.5L638.7 129.1L638.7 125.4L638.8 121.4L638.8 117.3L638.8 112.9L638.9 108.3L638.9 103.6L639.0 98.7L639.0 93.8L639.0 88.8L639.1 83.7L639.1 78.7L639.1 73.7L639.2 68.7L639.2 63.8L639.3 59.1L639.3 54.5L639.3 50.0L639.4 45.8L639.4 41.8L639.4 38.1L639.5 34.6L639.5 31.4L639.6 28.6L639.6 26.1L639.6 23.9L639.7 22.1L639.7 20.7L639.7 19.6L639.8 19.0L639.8 18.7L639.9 18.9L639.9 19.4L639.9 20.3L640.0 21.6L640.0 23.3L640.0 25.4L640.1 27.8L640.1 30.5L640.2 33.6L640.2 37.0L640.2 40.6L640.3 44.5L640.3 48.7L640.3 53.1L640.4 57.6L640.4 62.3L640.5 67.2L640.5 72.1L640.5 77.1L640.6 82.2L640.6 87.2L640.6 92.2L640.7 97.2L640.7 102.1L640.7 106.8L640.8 111.5L640.8 115.9L640.9 120.2L640.9 124.2L640.9 128.0L641.0 131.4L641.0 134.6L641.0 137.5L641.1 140.1L641.1 142.3L641.2 144.1L641.2 145.6L641.2 146.7L641.3 147.4L641.3 147.7L641.3 147.6L641.4 147.1L641.4 146.2L641.5 144.9L641.5 143.3L641.5 141.3L641.6 138.9L641.6 136.2L641.6 133.1L641.7 129.8L641.7 126.2L641.8 122.3L641.8 118.1L641.8 113.8L641.9 109.3L641.9 104.6L641.9 99.7L642.0 94.8L642.0 89.8L642.1 84.8L642.1 79.7L642.1 74.7L642.2 69.7L642.2 64.8L642.2 60.0L642.3 55.4L642.3 50.9L642.4 46.7L642.4 42.6L642.4 38.8L642.5 35.3L642.5 32.1L642.5 29.1L642.6 26.6L642.6 24.3L642.7 22.4L642.7 20.9L642.7 19.8L642.8 19.1L642.8 18.7L642.8 18.8L642.9 19.3L642.9 20.1L643.0 21.3L643.0 22.9L643.0 24.9L643.1 27.3L643.1 29.9L643.1 32.9L643.2 36.3L643.2 39.9L643.2 43.7L643.3 47.8L643.3 52.2L643.4 56.7L643.4 61.4L643.4 66.2L643.5 71.1L643.5 76.1L643.5 81.1L643.6 86.2L643.6 91.2L643.7 96.2L643.7 101.1L643.7 105.9L643.8 110.5L643.8 115.0L643.8 119.3L643.9 123.4L643.9 127.2L644.0 130.8L644.0 134.0L644.0 137.0L644.1 139.6L644.1 141.9L644.1 143.8L644.2 145.3L644.2 146.5L644.3 147.3L644.3 147.6L644.3 147.6L644.4 147.2L644.4 146.4L644.4 145.2L644.5 143.6L644.5 141.7L644.6 139.4L644.6 136.8L644.6 133.8L644.7 130.5L644.7 126.9L644.7 123.1L644.8 119.0L644.8 114.7L644.9 110.2L644.9 105.5L644.9 100.7L645.0 95.8L645.0 90.8L645.0 85.8L645.1 80.7L645.1 75.7L645.2 70.7L645.2 65.8L645.2 61.0L645.3 56.3L645.3 51.8L645.3 47.5L645.4 43.4L645.4 39.6L645.5 36.0L645.5 32.7L645.5 29.7L645.6 27.1L645.6 24.8L645.6 22.8L645.7 21.2L645.7 20.0L645.7 19.2L645.8 18.8L645.8 18.8L645.9 19.1L645.9 19.9L645.9 21.0L646.0 22.6L646.0 24.5L646.0 26.7L646.1 29.4L646.1 32.3L646.2 35.5L646.2 39.1L646.2 42.9L646.3 47.0L646.3 51.3L646.3 55.7L646.4 60.4L646.4 65.2L646.5 70.1L646.5 75.1L646.5 80.1L646.6 85.1L646.6 90.2L646.6 95.2L646.7 100.1L646.7 104.9L646.8 109.6L646.8 114.1L646.8 118.5L646.9 122.6L646.9 126.4L646.9 130.1L647.0 133.4L647.0 136.4L647.1 139.1L647.1 141.4L647.1 143.4L647.2 145.0L647.2 146.3L647.2 147.1L647.3 147.6L647.3 147.7L647.4 147.3L647.4 146.6L647.4 145.5L647.5 144.0L647.5 142.1L647.5 139.9L647.6 137.3L647.6 134.4L647.7 131.2L647.7 127.7L647.7 123.9L647.8 119.9L647.8 115.6L647.8 111.1L647.9 106.5L647.9 101.7L647.9 96.8L648.0 91.9L648.0 86.8L648.1 81.8L648.1 76.7L648.1 71.7L648.2 66.8L648.2 62.0L648.2 57.3L648.3 52.7L648.3 48.4L648.4 44.2L648.4 40.3L648.4 36.7L648.5 33.4L648.5 30.3L648.5 27.6L648.6 25.2L648.6 23.2L648.7 21.5L648.7 20.2L648.7 19.3L648.8 18.8L648.8 18.7L648.8 19.0L648.9 19.7L648.9 20.8L649.0 22.2L649.0 24.1L649.0 26.3L649.1 28.8L649.1 31.7L649.1 34.9L649.2 38.3L649.2 42.1L649.3 46.1L649.3 50.4L649.3 54.8L649.4 59.4L649.4 64.2L649.4 69.1L649.5 74.0L649.5 79.1L649.6 84.1L649.6 89.1L649.6 94.2L649.7 99.1L649.7 103.9L649.7 108.6L649.8 113.2L649.8 117.6L649.9 121.7L649.9 125.7L649.9 129.3L650.0 132.7L650.0 135.8L650.0 138.6L650.1 141.0L650.1 143.0L650.2 144.7L650.2 146.1L650.2 147.0L650.3 147.5L650.3 147.7L650.3 147.4L650.4 146.8L650.4 145.7L650.4 144.3L650.5 142.5L650.5 140.4L650.6 137.9L650.6 135.0L650.6 131.9L650.7 128.4L650.7 124.7L650.7 120.7L650.8 116.5L650.8 112.1L650.9 107.5L650.9 102.7L650.9 97.8L651.0 92.9L651.0 87.9L651.0 82.8L651.1 77.8L651.1 72.8L651.2 67.8L651.2 63.0L651.2 58.2L651.3 53.7L651.3 49.3L651.3 45.1L651.4 41.1L651.4 37.4L651.5 34.0L651.5 30.9L651.5 28.1L651.6 25.7L651.6 23.6L651.6 21.8L651.7 20.5L651.7 19.5L651.8 18.9L651.8 18.7L651.8 18.9L651.9 19.5L651.9 20.5L651.9 21.9L652.0 23.7L652.0 25.8L652.1 28.2L652.1 31.1L652.1 34.2L652.2 37.6L652.2 41.3L652.2 45.3L652.3 49.5L652.3 53.9L652.4 58.5L652.4 63.2L652.4 68.1L652.5 73.0L652.5 78.0L652.5 83.1L652.6 88.1L652.6 93.1L652.7 98.1L652.7 103.0L652.7 107.7L652.8 112.3L652.8 116.7L652.8 120.9L652.9 124.9L652.9 128.6L652.9 132.1L653.0 135.2L653.0 138.0L653.1 140.5L653.1 142.6L653.1 144.4L653.2 145.8L653.2 146.8L653.2 147.4L653.3 147.7L653.3 147.5L653.4 146.9L653.4 146.0L653.4 144.7L653.5 142.9L653.5 140.9L653.5 138.4L653.6 135.6L653.6 132.6L653.7 129.2L653.7 125.5L653.7 121.5L653.8 117.4L653.8 113.0L653.8 108.4L653.9 103.7L653.9 98.8L654.0 93.9L654.0 88.9L654.0 83.8L654.1 78.8L654.1 73.8L654.1 68.8L654.2 63.9L654.2 59.2L654.3 54.6L654.3 50.1L654.3 45.9L654.4 41.9L654.4 38.2L654.4 34.7L654.5 31.5L654.5 28.7L654.6 26.1L654.6 24.0L654.6 22.1L654.7 20.7L654.7 19.7L654.7 19.0L654.8 18.7L654.8 18.9L654.9 19.4L654.9 20.3L654.9 21.6L655.0 23.3L655.0 25.3L655.0 27.7L655.1 30.5L655.1 33.5L655.1 36.9L655.2 40.5L655.2 44.5L655.3 48.6L655.3 53.0L655.3 57.5L655.4 62.2L655.4 67.1L655.4 72.0L655.5 77.0L655.5 82.0L655.6 87.1L655.6 92.1L655.6 97.1L655.7 102.0L655.7 106.7L655.7 111.4L655.8 115.8L655.8 120.1L655.9 124.1L655.9 127.9L655.9 131.4L656.0 134.6L656.0 137.5L656.0 140.0L656.1 142.2L656.1 144.1L656.2 145.6L656.2 146.6L656.2 147.4L656.3 147.7L656.3 147.6L656.3 147.1L656.4 146.2L656.4 145.0L656.5 143.3L656.5 141.3L656.5 138.9L656.6 136.2L656.6 133.2L656.6 129.9L656.7 126.2L656.7 122.4L656.8 118.2L656.8 113.9L656.8 109.4L656.9 104.7L656.9 99.8L656.9 94.9L657.0 89.9L657.0 84.9L657.1 79.8L657.1 74.8L657.1 69.8L657.2 64.9L657.2 60.1L657.2 55.5L657.3 51.0L657.3 46.8L657.4 42.7L657.4 38.9L657.4 35.4L657.5 32.1L657.5 29.2L657.5 26.6L657.6 24.4L657.6 22.5L657.6 21.0L657.7 19.8L657.7 19.1L657.8 18.8L657.8 18.8L657.8 19.2L657.9 20.1L657.9 21.3L657.9 22.9L658.0 24.9L658.0 27.2L658.1 29.9L658.1 32.9L658.1 36.2L658.2 39.8L658.2 43.6L658.2 47.7L658.3 52.1L658.3 56.6L658.4 61.3L658.4 66.1L658.4 71.0L658.5 76.0L658.5 81.0L658.5 86.1L658.6 91.1L658.6 96.1L658.7 101.0L658.7 105.8L658.7 110.4L658.8 114.9L658.8 119.2L658.8 123.3L658.9 127.1L658.9 130.7L659.0 133.9L659.0 136.9L659.0 139.5L659.1 141.8L659.1 143.7L659.1 145.3L659.2 146.5L659.2 147.2L659.3 147.6L659.3 147.6L659.3 147.2L659.4 146.4L659.4 145.2L659.4 143.7L659.5 141.8L659.5 139.5L659.6 136.8L659.6 133.9L659.6 130.6L659.7 127.0L659.7 123.2L659.7 119.1L659.8 114.8L659.8 110.3L659.8 105.6L659.9 100.8L659.9 95.9L660.0 90.9L660.0 85.9L660.0 80.9L660.1 75.8L660.1 70.8L660.1 65.9L660.2 61.1L660.2 56.4L660.3 51.9L660.3 47.6L660.3 43.5L660.4 39.7L660.4 36.1L660.4 32.8L660.5 29.8L660.5 27.1L660.6 24.8L660.6 22.8L660.6 21.3L660.7 20.0L660.7 19.2L660.7 18.8L660.8 18.8L660.8 19.1L660.9 19.9L660.9 21.0L660.9 22.5L661.0 24.4L661.0 26.7L661.0 29.3L661.1 32.2L661.1 35.5L661.2 39.0L661.2 42.8L661.2 46.9L661.3 51.2L661.3 55.6L661.3 60.3L661.4 65.1L661.4 70.0L661.5 74.9L661.5 80.0L661.5 85.0L661.6 90.1L661.6 95.1L661.6 100.0L661.7 104.8L661.7 109.5L661.8 114.0L661.8 118.4L661.8 122.5L661.9 126.4L661.9 130.0L661.9 133.3L662.0 136.3L662.0 139.0L662.1 141.4L662.1 143.4L662.1 145.0L662.2 146.3L662.2 147.1L662.2 147.6L662.3 147.7L662.3 147.3L662.3 146.6L662.4 145.5L662.4 144.0L662.5 142.2L662.5 140.0L662.5 137.4L662.6 134.5L662.6 131.3L662.6 127.8L662.7 124.0L662.7 119.9L662.8 115.7L662.8 111.2L662.8 106.6L662.9 101.8L662.9 96.9L662.9 92.0L663.0 86.9L663.0 81.9L663.1 76.8L663.1 71.8L663.1 66.9L663.2 62.1L663.2 57.4L663.2 52.8L663.3 48.5L663.3 44.3L663.4 40.4L663.4 36.8L663.4 33.4L663.5 30.4L663.5 27.6L663.5 25.2L663.6 23.2L663.6 21.5L663.7 20.3L663.7 19.4L663.7 18.8L663.8 18.7L663.8 19.0L663.8 19.7L663.9 20.7L663.9 22.2L664.0 24.0L664.0 26.2L664.0 28.7L664.1 31.6L664.1 34.8L664.1 38.3L664.2 42.0L664.2 46.0L664.3 50.3L664.3 54.7L664.3 59.3L664.4 64.1L664.4 69.0L664.4 73.9L664.5 78.9L664.5 84.0L664.6 89.0L664.6 94.0L664.6 99.0L664.7 103.8L664.7 108.5L664.7 113.1L664.8 117.5L664.8 121.7L664.8 125.6L664.9 129.3L664.9 132.6L665.0 135.7L665.0 138.5L665.0 140.9L665.1 143.0L665.1 144.7L665.1 146.0L665.2 147.0L665.2 147.5L665.3 147.7L665.3 147.4L665.3 146.8L665.4 145.8L665.4 144.4L665.4 142.6L665.5 140.4L665.5 137.9L665.6 135.1L665.6 132.0L665.6 128.5L665.7 124.8L665.7 120.8L665.7 116.6L665.8 112.2L665.8 107.6L665.9 102.8L665.9 97.9L665.9 93.0L666.0 88.0L666.0 82.9L666.0 77.9L666.1 72.9L666.1 67.9L666.2 63.1L666.2 58.3L666.2 53.8L666.3 49.4L666.3 45.2L666.3 41.2L666.4 37.5L666.4 34.1L666.5 31.0L666.5 28.2L666.5 25.7L666.6 23.6L666.6 21.9L666.6 20.5L666.7 19.5L666.7 18.9L666.8 18.7L666.8 18.9L666.8 19.5L666.9 20.5L666.9 21.9L666.9 23.6L667.0 25.7L667.0 28.2L667.0 31.0L667.1 34.1L667.1 37.5L667.2 41.2L667.2 45.2L667.2 49.4L667.3 53.8L667.3 58.4L667.3 63.1L667.4 68.0L667.4 72.9L667.5 77.9L667.5 83.0L667.5 88.0L667.6 93.0L667.6 98.0L667.6 102.8L667.7 107.6L667.7 112.2L667.8 116.6L667.8 120.8L667.8 124.8L667.9 128.5L667.9 132.0L667.9 135.1L668.0 138.0L668.0 140.5L668.1 142.6L668.1 144.4L668.1 145.8L668.2 146.8L668.2 147.4L668.2 147.7L668.3 147.5L668.3 147.0L668.4 146.0L668.4 144.7L668.4 143.0L668.5 140.9L668.5 138.5L668.5 135.7L668.6 132.6L668.6 129.2L668.7 125.6L668.7 121.6L668.7 117.5L668.8 113.1L668.8 108.5L668.8 103.8L668.9 98.9L668.9 94.0L669.0 89.0L669.0 84.0L669.0 78.9L669.1 73.9L669.1 68.9L669.1 64.0L669.2 59.3L669.2 54.7L669.3 50.2L669.3 46.0L669.3 42.0L669.4 38.2L669.4 34.8L669.4 31.6L669.5 28.7L669.5 26.2L669.5 24.0L669.6 22.2L669.6 20.7L669.7 19.7L669.7 19.0L669.7 18.7L669.8 18.9L669.8 19.4L669.8 20.3L669.9 21.6L669.9 23.2L670.0 25.3L670.0 27.7L670.0 30.4L670.1 33.4L670.1 36.8L670.1 40.5L670.2 44.4L670.2 48.5L670.3 52.9L670.3 57.4L670.3 62.1L670.4 67.0L670.4 71.9L670.4 76.9L670.5 81.9L670.5 87.0L670.6 92.0L670.6 97.0L670.6 101.9L670.7 106.6L670.7 111.3L670.7 115.7L670.8 120.0L670.8 124.0L670.9 127.8L670.9 131.3L670.9 134.5L671.0 137.4L671.0 140.0L671.0 142.2L671.1 144.0L671.1 145.5L671.2 146.6L671.2 147.3L671.2 147.7L671.3 147.6L671.3 147.1L671.3 146.2L671.4 145.0L671.4 143.4L671.5 141.4L671.5 139.0L671.5 136.3L671.6 133.3L671.6 129.9L671.6 126.3L671.7 122.4L671.7 118.3L671.8 114.0L671.8 109.5L671.8 104.8L671.9 99.9L671.9 95.0L671.9 90.0L672.0 85.0L672.0 79.9L672.0 74.9L672.1 69.9L672.1 65.0L672.2 60.2L672.2 55.6L672.2 51.1L672.3 46.8L672.3 42.8L672.3 39.0L672.4 35.4L672.4 32.2L672.5 29.3L672.5 26.7L672.5 24.4L672.6 22.5L672.6 21.0L672.6 19.9L672.7 19.1L672.7 18.8L672.8 18.8L672.8 19.2L672.8 20.1L672.9 21.3L672.9 22.9L672.9 24.8L673.0 27.1L673.0 29.8L673.1 32.8L673.1 36.1L673.1 39.7L673.2 43.5L673.2 47.6L673.2 52.0L673.3 56.5L673.3 61.1L673.4 66.0L673.4 70.9L673.4 75.9L673.5 80.9L673.5 85.9L673.5 91.0L673.6 96.0L673.6 100.9L673.7 105.7L673.7 110.3L673.7 114.8L673.8 119.1L673.8 123.2L673.8 127.0L673.9 130.6L673.9 133.9L674.0 136.8L674.0 139.5L674.0 141.8L674.1 143.7L674.1 145.3L674.1 146.4L674.2 147.2L674.2 147.6L674.2 147.6L674.3 147.2L674.3 146.5L674.4 145.3L674.4 143.7L674.4 141.8L674.5 139.5L674.5 136.9L674.5 133.9L674.6 130.7L674.6 127.1L674.7 123.3L674.7 119.2L674.7 114.9L674.8 110.4L674.8 105.7L674.8 100.9L674.9 96.0L674.9 91.1L675.0 86.0L675.0 81.0L675.0 75.9L675.1 70.9L675.1 66.0L675.1 61.2L675.2 56.5L675.2 52.0L675.3 47.7L675.3 43.6L675.3 39.7L675.4 36.1L675.4 32.8L675.4 29.8L675.5 27.2L675.5 24.9L675.6 22.9L675.6 21.3L675.6 20.1L675.7 19.2L675.7 18.8L675.7 18.8L675.8 19.1L675.8 19.9L675.9 21.0L675.9 22.5L675.9 24.4L676.0 26.6L676.0 29.2L676.0 32.2L676.1 35.4L676.1 38.9L676.2 42.7L676.2 46.8L676.2 51.1L676.3 55.5L676.3 60.2L676.3 65.0L676.4 69.9L676.4 74.8L676.5 79.9L676.5 84.9L676.5 90.0L676.6 94.9L676.6 99.9L676.6 104.7L676.7 109.4L676.7 113.9L676.7 118.3L676.8 122.4L676.8 126.3L676.9 129.9L676.9 133.2L676.9 136.3L677.0 139.0L677.0 141.3L677.0 143.3L677.1 145.0L677.1 146.2L677.2 147.1L677.2 147.6L677.2 147.7L677.3 147.3L677.3 146.6L677.3 145.5L677.4 144.1L677.4 142.2L677.5 140.0L677.5 137.4L677.5 134.6L677.6 131.3L677.6 127.8L677.6 124.1L677.7 120.0L677.7 115.8L677.8 111.3L677.8 106.7L677.8 101.9L677.9 97.0L677.9 92.1L677.9 87.1L678.0 82.0L678.0 77.0L678.1 72.0L678.1 67.0L678.1 62.2L678.2 57.5L678.2 52.9L678.2 48.6L678.3 44.4L678.3 40.5L678.4 36.9L678.4 33.5L678.4 30.4L678.5 27.7L678.5 25.3L678.5 23.3L678.6 21.6L678.6 20.3L678.7 19.4L678.7 18.9L678.7 18.7L678.8 19.0L678.8 19.7L678.8 20.7L678.9 22.2L678.9 24.0L678.9 26.1L679.0 28.7L679.0 31.5L679.1 34.7L679.1 38.2L679.1 41.9L679.2 45.9L679.2 50.2L679.2 54.6L679.3 59.2L679.3 64.0L679.4 68.8L679.4 73.8L679.4 78.8L679.5 83.9L679.5 88.9L679.5 93.9L679.6 98.9L679.6 103.7L679.7 108.4L679.7 113.0L679.7 117.4L679.8 121.6L679.8 125.5L679.8 129.2L679.9 132.6L679.9 135.7L680.0 138.4L680.0 140.9L680.0 143.0L680.1 144.7L680.1 146.0L680.1 147.0L680.2 147.5L680.2 147.7L680.3 147.4L680.3 146.8L680.3 145.8L680.4 144.4L680.4 142.6L680.4 140.5L680.5 138.0L680.5 135.2L680.6 132.0L680.6 128.6L680.6 124.9L680.7 120.9L680.7 116.7L680.7 112.3L680.8 107.7L680.8 102.9L680.9 98.1L680.9 93.1L680.9 88.1L681.0 83.0L681.0 78.0L681.0 73.0L681.1 68.0L681.1 63.2L681.2 58.4L681.2 53.9L681.2 49.4L681.3 45.3L681.3 41.3" fill="none" stroke="#ff0000" stroke-width="0.8"/>
<line x1="457.7" y1="163.8" x2="457.7" y2="2.6" stroke="rgba(0,0,0,0.38)" stroke-width="1.0" stroke-dasharray="4.9 3.72" stroke-dashoffset="0"/>
<line x1="532.5" y1="163.8" x2="532.5" y2="2.6" stroke="rgba(0,0,0,0.38)" stroke-width="1.0" stroke-dasharray="4.9 3.72" stroke-dashoffset="0"/>
<line x1="607.3" y1="163.8" x2="607.3" y2="2.6" stroke="rgba(0,0,0,0.38)" stroke-width="1.0" stroke-dasharray="4.9 3.72" stroke-dashoffset="0"/>
<line x1="382.9" y1="162.8" x2="681.3" y2="162.8" stroke="rgba(0,0,0,0.38)" stroke-width="1.0" stroke-dasharray="5 3.9" stroke-dashoffset="3.2"/>
<line x1="382.9" y1="123" x2="681.3" y2="123" stroke="rgba(0,0,0,0.38)" stroke-width="1.0" stroke-dasharray="5 3.9" stroke-dashoffset="3.2"/>
<line x1="382.9" y1="83.2" x2="681.3" y2="83.2" stroke="rgba(0,0,0,0.38)" stroke-width="1.0" stroke-dasharray="5 3.9" stroke-dashoffset="3.2"/>
<line x1="382.9" y1="43.4" x2="681.3" y2="43.4" stroke="rgba(0,0,0,0.38)" stroke-width="1.0" stroke-dasharray="5 3.9" stroke-dashoffset="3.2"/>
<line x1="382.9" y1="3.6" x2="681.3" y2="3.6" stroke="rgba(0,0,0,0.38)" stroke-width="1.0" stroke-dasharray="5 3.9" stroke-dashoffset="3.2"/>
<text x="378.6" y="166.8" font-size="9.4" text-anchor="end">-400</text>
<text x="378.6" y="127" font-size="9.4" text-anchor="end">-200</text>
<text x="378.6" y="87.2" font-size="9.4" text-anchor="end">0</text>
<text x="378.6" y="47.4" font-size="9.4" text-anchor="end">200</text>
<text x="378.6" y="7.6" font-size="9.4" text-anchor="end">400</text>
<text x="382.9" y="177" font-size="9.4" text-anchor="middle">0</text>
<text x="457.7" y="177" font-size="9.4" text-anchor="middle">0.5</text>
<text x="532.5" y="177" font-size="9.4" text-anchor="middle">1</text>
<text x="607.3" y="177" font-size="9.4" text-anchor="middle">1.5</text>
<text x="682.1" y="177" font-size="9.4" text-anchor="middle">2</text>
<text transform="translate(534 189.8) scale(1.05 1)" font-size="9.6" text-anchor="middle">Time (sec)</text>
<text transform="translate(354.4 82.7) scale(1.12 1) rotate(-90)" font-size="10" text-anchor="middle">Grid Voltage (V)</text>
<text x="510.7" y="205.8" font-size="11" text-anchor="middle" class="cap">(ii)</text>
<line x1="207.28" y1="410.7" x2="207.28" y2="239.4" stroke="#dadada" stroke-width="0.9" stroke-dasharray="0.9 1.5"/>
<line x1="224.06" y1="410.7" x2="224.06" y2="239.4" stroke="#dadada" stroke-width="0.9" stroke-dasharray="0.9 1.5"/>
<line x1="240.84" y1="410.7" x2="240.84" y2="239.4" stroke="#dadada" stroke-width="0.9" stroke-dasharray="0.9 1.5"/>
<line x1="257.62" y1="410.7" x2="257.62" y2="239.4" stroke="#dadada" stroke-width="0.9" stroke-dasharray="0.9 1.5"/>
<line x1="291.18" y1="410.7" x2="291.18" y2="239.4" stroke="#dadada" stroke-width="0.9" stroke-dasharray="0.9 1.5"/>
<line x1="307.96" y1="410.7" x2="307.96" y2="239.4" stroke="#dadada" stroke-width="0.9" stroke-dasharray="0.9 1.5"/>
<line x1="324.74" y1="410.7" x2="324.74" y2="239.4" stroke="#dadada" stroke-width="0.9" stroke-dasharray="0.9 1.5"/>
<line x1="341.52" y1="410.7" x2="341.52" y2="239.4" stroke="#dadada" stroke-width="0.9" stroke-dasharray="0.9 1.5"/>
<line x1="375.08" y1="410.7" x2="375.08" y2="239.4" stroke="#dadada" stroke-width="0.9" stroke-dasharray="0.9 1.5"/>
<line x1="391.86" y1="410.7" x2="391.86" y2="239.4" stroke="#dadada" stroke-width="0.9" stroke-dasharray="0.9 1.5"/>
<line x1="408.64" y1="410.7" x2="408.64" y2="239.4" stroke="#dadada" stroke-width="0.9" stroke-dasharray="0.9 1.5"/>
<line x1="425.42" y1="410.7" x2="425.42" y2="239.4" stroke="#dadada" stroke-width="0.9" stroke-dasharray="0.9 1.5"/>
<line x1="458.98" y1="410.7" x2="458.98" y2="239.4" stroke="#dadada" stroke-width="0.9" stroke-dasharray="0.9 1.5"/>
<line x1="475.76" y1="410.7" x2="475.76" y2="239.4" stroke="#dadada" stroke-width="0.9" stroke-dasharray="0.9 1.5"/>
<line x1="492.54" y1="410.7" x2="492.54" y2="239.4" stroke="#dadada" stroke-width="0.9" stroke-dasharray="0.9 1.5"/>
<line x1="509.32" y1="410.7" x2="509.32" y2="239.4" stroke="#dadada" stroke-width="0.9" stroke-dasharray="0.9 1.5"/>
<line x1="190.5" y1="408.7" x2="525.7" y2="408.7" stroke="#dadada" stroke-width="0.9" stroke-dasharray="0.9 1.5"/>
<line x1="190.5" y1="398.32" x2="525.7" y2="398.32" stroke="#dadada" stroke-width="0.9" stroke-dasharray="0.9 1.5"/>
<line x1="190.5" y1="393.12" x2="525.7" y2="393.12" stroke="#dadada" stroke-width="0.9" stroke-dasharray="0.9 1.5"/>
<line x1="190.5" y1="387.93" x2="525.7" y2="387.93" stroke="#dadada" stroke-width="0.9" stroke-dasharray="0.9 1.5"/>
<line x1="190.5" y1="382.73" x2="525.7" y2="382.73" stroke="#dadada" stroke-width="0.9" stroke-dasharray="0.9 1.5"/>
<line x1="190.5" y1="372.35" x2="525.7" y2="372.35" stroke="#dadada" stroke-width="0.9" stroke-dasharray="0.9 1.5"/>
<line x1="190.5" y1="367.15" x2="525.7" y2="367.15" stroke="#dadada" stroke-width="0.9" stroke-dasharray="0.9 1.5"/>
<line x1="190.5" y1="361.96" x2="525.7" y2="361.96" stroke="#dadada" stroke-width="0.9" stroke-dasharray="0.9 1.5"/>
<line x1="190.5" y1="356.76" x2="525.7" y2="356.76" stroke="#dadada" stroke-width="0.9" stroke-dasharray="0.9 1.5"/>
<line x1="190.5" y1="346.38" x2="525.7" y2="346.38" stroke="#dadada" stroke-width="0.9" stroke-dasharray="0.9 1.5"/>
<line x1="190.5" y1="341.18" x2="525.7" y2="341.18" stroke="#dadada" stroke-width="0.9" stroke-dasharray="0.9 1.5"/>
<line x1="190.5" y1="335.99" x2="525.7" y2="335.99" stroke="#dadada" stroke-width="0.9" stroke-dasharray="0.9 1.5"/>
<line x1="190.5" y1="330.79" x2="525.7" y2="330.79" stroke="#dadada" stroke-width="0.9" stroke-dasharray="0.9 1.5"/>
<line x1="190.5" y1="320.41" x2="525.7" y2="320.41" stroke="#dadada" stroke-width="0.9" stroke-dasharray="0.9 1.5"/>
<line x1="190.5" y1="315.21" x2="525.7" y2="315.21" stroke="#dadada" stroke-width="0.9" stroke-dasharray="0.9 1.5"/>
<line x1="190.5" y1="310.02" x2="525.7" y2="310.02" stroke="#dadada" stroke-width="0.9" stroke-dasharray="0.9 1.5"/>
<line x1="190.5" y1="304.82" x2="525.7" y2="304.82" stroke="#dadada" stroke-width="0.9" stroke-dasharray="0.9 1.5"/>
<line x1="190.5" y1="294.44" x2="525.7" y2="294.44" stroke="#dadada" stroke-width="0.9" stroke-dasharray="0.9 1.5"/>
<line x1="190.5" y1="289.24" x2="525.7" y2="289.24" stroke="#dadada" stroke-width="0.9" stroke-dasharray="0.9 1.5"/>
<line x1="190.5" y1="284.05" x2="525.7" y2="284.05" stroke="#dadada" stroke-width="0.9" stroke-dasharray="0.9 1.5"/>
<line x1="190.5" y1="278.85" x2="525.7" y2="278.85" stroke="#dadada" stroke-width="0.9" stroke-dasharray="0.9 1.5"/>
<line x1="190.5" y1="268.47" x2="525.7" y2="268.47" stroke="#dadada" stroke-width="0.9" stroke-dasharray="0.9 1.5"/>
<line x1="190.5" y1="263.27" x2="525.7" y2="263.27" stroke="#dadada" stroke-width="0.9" stroke-dasharray="0.9 1.5"/>
<line x1="190.5" y1="258.08" x2="525.7" y2="258.08" stroke="#dadada" stroke-width="0.9" stroke-dasharray="0.9 1.5"/>
<line x1="190.5" y1="252.88" x2="525.7" y2="252.88" stroke="#dadada" stroke-width="0.9" stroke-dasharray="0.9 1.5"/>
<line x1="190.5" y1="242.5" x2="525.7" y2="242.5" stroke="#dadada" stroke-width="0.9" stroke-dasharray="0.9 1.5"/>
<rect x="190.5" y="239.4" width="335.2" height="171.3" fill="none" stroke="#7d7d7d" stroke-width="1.0"/>
<path d="M190.5 325.6L190.9 256.5L191.3 299.6L191.9 377.5L192.4 356.8L193.0 320.4L193.8 298.3L194.6 317.8L195.4 336.2L196.2 328.2L197.1 319.9L198.0 324.3L198.9 329.2L199.6 326.1L200.2 323.3L201.0 325.6L201.8 327.9L202.6 325.6L203.4 323.5L204.2 325.6L205.1 327.9L206.0 325.9L206.9 325.3L207.3 305.6L207.3 307.8L207.4 309.7L207.5 311.4L207.6 313.0L207.6 314.5L207.7 316.0L207.8 317.5L207.8 319.1L207.9 320.6L208.0 322.2L208.0 323.7L208.1 325.3L208.2 326.8L208.3 328.3L208.3 329.7L208.4 331.1L208.5 332.3L208.5 333.4L208.6 334.4L208.7 335.2L208.7 335.9L208.8 336.4L208.9 336.7L209.0 336.8L209.0 336.7L209.1 336.4L209.2 335.9L209.2 335.3L209.3 334.5L209.4 333.5L209.4 332.4L209.5 331.2L209.6 329.9L209.7 328.5L209.7 327.1L209.8 325.6L209.9 324.1L209.9 322.7L210.0 321.3L210.1 320.0L210.1 318.8L210.2 317.7L210.3 316.7L210.4 315.9L210.4 315.3L210.5 314.8L210.6 314.5L210.6 314.4L210.7 314.5L210.8 314.8L210.8 315.3L210.9 315.9L211.0 316.7L211.1 317.7L211.1 318.8L211.2 320.0L211.3 321.3L211.3 322.7L211.4 324.1L211.5 325.6L211.5 327.1L211.6 328.5L211.7 329.9L211.8 331.2L211.8 332.4L211.9 333.5L212.0 334.5L212.0 335.3L212.1 335.9L212.2 336.4L212.2 336.7L212.3 336.8L212.4 336.7L212.5 336.4L212.5 335.9L212.6 335.3L212.7 334.5L212.7 333.5L212.8 332.4L212.9 331.2L212.9 329.9L213.0 328.5L213.1 327.1L213.2 325.6L213.2 324.1L213.3 322.7L213.4 321.3L213.4 320.0L213.5 318.8L213.6 317.7L213.6 316.7L213.7 315.9L213.8 315.3L213.9 314.8L213.9 314.5L214.0 314.4L214.1 314.5L214.1 314.8L214.2 315.3L214.3 315.9L214.3 316.7L214.4 317.7L214.5 318.8L214.6 320.0L214.6 321.3L214.7 322.7L214.8 324.1L214.8 325.6L214.9 327.1L215.0 328.5L215.0 329.9L215.1 331.2L215.2 332.4L215.3 333.5L215.3 334.5L215.4 335.3L215.5 335.9L215.5 336.4L215.6 336.7L215.7 336.8L215.7 336.7L215.8 336.4L215.9 335.9L215.9 335.3L216.0 334.5L216.1 333.5L216.2 332.4L216.2 331.2L216.3 329.9L216.4 328.5L216.4 327.1L216.5 325.6L216.6 324.1L216.6 322.7L216.7 321.3L216.8 320.0L216.9 318.8L216.9 317.7L217.0 316.7L217.1 315.9L217.1 315.3L217.2 314.8L217.3 314.5L217.3 314.4L217.4 314.5L217.5 314.8L217.6 315.3L217.6 315.9L217.7 316.7L217.8 317.7L217.8 318.8L217.9 320.0L218.0 321.3L218.0 322.7L218.1 324.1L218.2 325.6L218.3 327.1L218.3 328.5L218.4 329.9L218.5 331.2L218.5 332.4L218.6 333.5L218.7 334.5L218.7 335.3L218.8 335.9L218.9 336.4L219.0 336.7L219.0 336.8L219.1 336.7L219.2 336.4L219.2 335.9L219.3 335.3L219.4 334.5L219.4 333.5L219.5 332.4L219.6 331.2L219.7 329.9L219.7 328.5L219.8 327.1L219.9 325.6L219.9 324.1L220.0 322.7L220.1 321.3L220.1 320.0L220.2 318.8L220.3 317.7L220.4 316.7L220.4 315.9L220.5 315.3L220.6 314.8L220.6 314.5L220.7 314.4L220.8 314.5L220.8 314.8L220.9 315.3L221.0 315.9L221.1 316.7L221.1 317.7L221.2 318.8L221.3 320.0L221.3 321.3L221.4 322.7L221.5 324.1L221.5 325.6L221.6 327.1L221.7 328.5L221.8 329.9L221.8 331.2L221.9 332.4L222.0 333.5L222.0 334.5L222.1 335.3L222.2 335.9L222.2 336.4L222.3 336.7L222.4 336.8L222.5 336.7L222.5 336.4L222.6 335.9L222.7 335.3L222.7 334.5L222.8 333.5L222.9 332.4L222.9 331.2L223.0 329.9L223.1 328.5L223.2 327.1L223.2 325.6L223.3 324.1L223.4 322.7L223.4 321.3L223.5 320.0L223.6 318.8L223.6 317.7L223.7 316.7L223.8 315.9L223.9 315.3L223.9 314.8L224.0 314.5L224.1 314.4L224.1 314.5L224.2 314.8L224.3 315.3L224.3 315.9L224.4 316.7L224.5 317.7L224.5 318.8L224.6 320.0L224.7 321.3L224.8 322.7L224.8 324.1L224.9 325.6L225.0 327.1L225.0 328.5L225.1 329.9L225.2 331.2L225.2 332.4L225.3 333.5L225.4 334.5L225.5 335.3L225.5 335.9L225.6 336.4L225.7 336.7L225.7 336.8L225.8 336.7L225.9 336.4L225.9 335.9L226.0 335.3L226.1 334.5L226.2 333.5L226.2 332.4L226.3 331.2L226.4 329.9L226.4 328.5L226.5 327.1L226.6 325.6L226.6 324.1L226.7 322.7L226.8 321.3L226.9 320.0L226.9 318.8L227.0 317.7L227.1 316.7L227.1 315.9L227.2 315.3L227.3 314.8L227.3 314.5L227.4 314.4L227.5 314.5L227.6 314.8L227.6 315.3L227.7 315.9L227.8 316.7L227.8 317.7L227.9 318.8L228.0 320.0L228.0 321.3L228.1 322.7L228.2 324.1L228.3 325.6L228.3 327.1L228.4 328.5L228.5 329.9L228.5 331.2L228.6 332.4L228.7 333.5L228.7 334.5L228.8 335.3L228.9 335.9L229.0 336.4L229.0 336.7L229.1 336.8L229.2 336.7L229.2 336.4L229.3 335.9L229.4 335.3L229.4 334.5L229.5 333.5L229.6 332.4L229.7 331.2L229.7 329.9L229.8 328.5L229.9 327.1L229.9 325.6L230.0 324.1L230.1 322.7L230.1 321.3L230.2 320.0L230.3 318.8L230.4 317.7L230.4 316.7L230.5 315.9L230.6 315.3L230.6 314.8L230.7 314.5L230.8 314.4L230.8 314.5L230.9 314.8L231.0 315.3L231.1 315.9L231.1 316.7L231.2 317.7L231.3 318.8L231.3 320.0L231.4 321.3L231.5 322.7L231.5 324.1L231.6 325.6L231.7 327.1L231.8 328.5L231.8 329.9L231.9 331.2L232.0 332.4L232.0 333.5L232.1 334.5L232.2 335.3L232.2 335.9L232.3 336.4L232.4 336.7L232.4 336.8L232.5 336.7L232.6 336.4L232.7 335.9L232.7 335.3L232.8 334.5L232.9 333.5L232.9 332.4L233.0 331.2L233.1 329.9L233.1 328.5L233.2 327.1L233.3 325.6L233.4 324.1L233.4 322.7L233.5 321.3L233.6 320.0L233.6 318.8L233.7 317.7L233.8 316.7L233.8 315.9L233.9 315.3L234.0 314.8L234.1 314.5L234.1 314.4L234.2 314.5L234.3 314.8L234.3 315.3L234.4 315.9L234.5 316.7L234.5 317.7L234.6 318.8L234.7 320.0L234.8 321.3L234.8 322.7L234.9 324.1L235.0 325.6L235.0 327.1L235.1 328.5L235.2 329.9L235.2 331.2L235.3 332.4L235.4 333.5L235.5 334.5L235.5 335.3L235.6 335.9L235.7 336.4L235.7 336.7L235.8 336.8L235.9 336.7L235.9 336.4L236.0 335.9L236.1 335.3L236.2 334.5L236.2 333.5L236.3 332.4L236.4 331.2L236.4 329.9L236.5 328.5L236.6 327.1L236.6 325.6L236.7 324.1L236.8 322.7L236.9 321.3L236.9 320.0L237.0 318.8L237.1 317.7L237.1 316.7L237.2 315.9L237.3 315.3L237.3 314.8L237.4 314.5L237.5 314.4L237.6 314.5L237.6 314.8L237.7 315.3L237.8 315.9L237.8 316.7L237.9 317.7L238.0 318.8L238.0 320.0L238.1 321.3L238.2 322.7L238.3 324.1L238.3 325.6L238.4 327.1L238.5 328.5L238.5 329.9L238.6 331.2L238.7 332.4L238.7 333.5L238.8 334.5L238.9 335.3L239.0 335.9L239.0 336.4L239.1 336.7L239.2 336.8L239.2 336.7L239.3 336.4L239.4 335.9L239.4 335.3L239.5 334.5L239.6 333.5L239.7 332.4L239.7 331.2L239.8 329.9L239.9 328.5L239.9 327.1L240.0 325.6L240.1 324.1L240.1 322.7L240.2 321.3L240.3 320.0L240.4 318.8L240.4 317.7L240.5 316.7L240.6 315.9L240.6 315.3L240.7 314.8L240.8 314.5L240.8 314.4L240.9 295.6L241.0 297.0L241.0 298.8L241.1 301.0L241.2 303.4L241.3 306.2L241.3 309.2L241.4 312.3L241.5 315.6L241.5 318.9L241.6 322.3L241.7 325.6L241.7 328.8L241.8 332.0L241.9 334.9L242.0 337.7L242.0 340.1L242.1 342.3L242.2 344.2L242.2 345.8L242.3 347.0L242.4 347.8L242.4 348.2L242.5 348.3L242.6 348.0L242.7 347.3L242.7 346.2L242.8 344.8L242.9 343.2L242.9 341.2L243.0 339.0L243.1 336.5L243.1 333.9L243.2 331.2L243.3 328.4L243.4 325.6L243.4 322.8L243.5 320.0L243.6 317.4L243.6 314.9L243.7 312.6L243.8 310.5L243.8 308.7L243.9 307.2L244.0 306.0L244.1 305.1L244.1 304.6L244.2 304.5L244.3 304.7L244.3 305.2L244.4 306.1L244.5 307.4L244.5 308.9L244.6 310.7L244.7 312.8L244.8 315.1L244.8 317.6L244.9 320.2L245.0 322.9L245.0 325.6L245.1 328.3L245.2 331.0L245.2 333.6L245.3 336.0L245.4 338.3L245.5 340.4L245.5 342.2L245.6 343.7L245.7 344.9L245.7 345.7L245.8 346.3L245.9 346.4L245.9 346.3L246.0 345.7L246.1 344.8L246.2 343.6L246.2 342.1L246.3 340.3L246.4 338.3L246.4 336.0L246.5 333.6L246.6 331.0L246.6 328.3L246.7 325.6L246.8 322.9L246.9 320.2L246.9 317.6L247.0 315.2L247.1 312.9L247.1 310.9L247.2 309.1L247.3 307.6L247.3 306.4L247.4 305.5L247.5 305.0L247.6 304.8L247.6 305.0L247.7 305.5L247.8 306.4L247.8 307.6L247.9 309.1L248.0 310.9L248.0 312.9L248.1 315.2L248.2 317.6L248.3 320.2L248.3 322.9L248.4 325.6L248.5 328.3L248.5 331.0L248.6 333.6L248.7 336.0L248.7 338.3L248.8 340.3L248.9 342.1L249.0 343.6L249.0 344.8L249.1 345.7L249.2 346.2L249.2 346.4L249.3 346.2L249.4 345.7L249.4 344.8L249.5 343.6L249.6 342.1L249.6 340.3L249.7 338.2L249.8 336.0L249.9 333.6L249.9 331.0L250.0 328.3L250.1 325.6L250.1 322.9L250.2 320.2L250.3 317.6L250.3 315.2L250.4 313.0L250.5 310.9L250.6 309.1L250.6 307.6L250.7 306.4L250.8 305.5L250.8 305.0L250.9 304.8L251.0 305.0L251.0 305.5L251.1 306.4L251.2 307.6L251.3 309.1L251.3 310.9L251.4 313.0L251.5 315.2L251.5 317.6L251.6 320.2L251.7 322.9L251.7 325.6L251.8 328.3L251.9 331.0L252.0 333.6L252.0 336.0L252.1 338.2L252.2 340.3L252.2 342.1L252.3 343.6L252.4 344.8L252.4 345.7L252.5 346.2L252.6 346.4L252.7 346.2L252.7 345.7L252.8 344.8L252.9 343.6L252.9 342.1L253.0 340.3L253.1 338.2L253.1 336.0L253.2 333.6L253.3 331.0L253.4 328.3L253.4 325.6L253.5 322.9L253.6 320.2L253.6 317.6L253.7 315.2L253.8 313.0L253.8 310.9L253.9 309.1L254.0 307.6L254.1 306.4L254.1 305.5L254.2 305.0L254.3 304.8L254.3 305.0L254.4 305.5L254.5 306.4L254.5 307.6L254.6 309.1L254.7 310.9L254.8 313.0L254.8 315.2L254.9 317.6L255.0 320.2L255.0 322.9L255.1 325.6L255.2 328.3L255.2 331.0L255.3 333.6L255.4 336.0L255.5 338.2L255.5 340.3L255.6 342.1L255.7 343.6L255.7 344.8L255.8 345.7L255.9 346.2L255.9 346.4L256.0 346.2L256.1 345.7L256.2 344.8L256.2 343.6L256.3 342.1L256.4 340.3L256.4 338.2L256.5 336.0L256.6 333.6L256.6 331.0L256.7 328.3L256.8 325.6L256.9 322.9L256.9 320.2L257.0 317.6L257.1 315.2L257.1 313.0L257.2 310.9L257.3 309.1L257.3 307.6L257.4 306.4L257.5 305.5L257.6 305.0L257.6 304.8L257.7 305.0L257.8 305.5L257.8 306.4L257.9 307.6L258.0 309.1L258.0 310.9L258.1 313.0L258.2 315.2L258.2 317.6L258.3 320.2L258.4 322.9L258.5 325.6L258.5 328.3L258.6 331.0L258.7 333.6L258.7 336.0L258.8 338.2L258.9 340.3L258.9 342.1L259.0 343.6L259.1 344.8L259.2 345.7L259.2 346.2L259.3 346.4L259.4 346.2L259.4 345.7L259.5 344.8L259.6 343.6L259.6 342.1L259.7 340.3L259.8 338.2L259.9 336.0L259.9 333.6L260.0 331.0L260.1 328.3L260.1 325.6L260.2 322.9L260.3 320.2L260.3 317.6L260.4 315.2L260.5 313.0L260.6 310.9L260.6 309.1L260.7 307.6L260.8 306.4L260.8 305.5L260.9 305.0L261.0 304.8L261.0 305.0L261.1 305.5L261.2 306.4L261.3 307.6L261.3 309.1L261.4 310.9L261.5 313.0L261.5 315.2L261.6 317.6L261.7 320.2L261.7 322.9L261.8 325.6L261.9 328.3L262.0 331.0L262.0 333.6L262.1 336.0L262.2 338.2L262.2 340.3L262.3 342.1L262.4 343.6L262.4 344.8L262.5 345.7L262.6 346.2L262.7 346.4L262.7 346.2L262.8 345.7L262.9 344.8L262.9 343.6L263.0 342.1L263.1 340.3L263.1 338.2L263.2 336.0L263.3 333.6L263.4 331.0L263.4 328.3L263.5 325.6L263.6 322.9L263.6 320.2L263.7 317.6L263.8 315.2L263.8 313.0L263.9 310.9L264.0 309.1L264.1 307.6L264.1 306.4L264.2 305.5L264.3 305.0L264.3 304.8L264.4 305.0L264.5 305.5L264.5 306.4L264.6 307.6L264.7 309.1L264.8 310.9L264.8 313.0L264.9 315.2L265.0 317.6L265.0 320.2L265.1 322.9L265.2 325.6L265.2 328.3L265.3 331.0L265.4 333.6L265.5 336.0L265.5 338.2L265.6 340.3L265.7 342.1L265.7 343.6L265.8 344.8L265.9 345.7L265.9 346.2L266.0 346.4L266.1 346.2L266.1 345.7L266.2 344.8L266.3 343.6L266.4 342.1L266.4 340.3L266.5 338.2L266.6 336.0L266.6 333.6L266.7 331.0L266.8 328.3L266.8 325.6L266.9 322.9L267.0 320.2L267.1 317.6L267.1 315.2L267.2 313.0L267.3 310.9L267.3 309.1L267.4 307.6L267.5 306.4L267.5 305.5L267.6 305.0L267.7 304.8L267.8 305.0L267.8 305.5L267.9 306.4L268.0 307.6L268.0 309.1L268.1 310.9L268.2 313.0L268.2 315.2L268.3 317.6L268.4 320.2L268.5 322.9L268.5 325.6L268.6 328.3L268.7 331.0L268.7 333.6L268.8 336.0L268.9 338.2L268.9 340.3L269.0 342.1L269.1 343.6L269.2 344.8L269.2 345.7L269.3 346.2L269.4 346.4L269.4 346.2L269.5 345.7L269.6 344.8L269.6 343.6L269.7 342.1L269.8 340.3L269.9 338.2L269.9 336.0L270.0 333.6L270.1 331.0L270.1 328.3L270.2 325.6L270.3 322.9L270.3 320.2L270.4 317.6L270.5 315.2L270.6 313.0L270.6 310.9L270.7 309.1L270.8 307.6L270.8 306.4L270.9 305.5L271.0 305.0L271.0 304.8L271.1 305.0L271.2 305.5L271.3 306.4L271.3 307.6L271.4 309.1L271.5 310.9L271.5 313.0L271.6 315.2L271.7 317.6L271.7 320.2L271.8 322.9L271.9 325.6L272.0 328.3L272.0 331.0L272.1 333.6L272.2 336.0L272.2 338.2L272.3 340.3L272.4 342.1L272.4 343.6L272.5 344.8L272.6 345.7L272.7 346.2L272.7 346.4L272.8 346.2L272.9 345.7L272.9 344.8L273.0 343.6L273.1 342.1L273.1 340.3L273.2 338.2L273.3 336.0L273.4 333.6L273.4 331.0L273.5 328.3L273.6 325.6L273.6 322.9L273.7 320.2L273.8 317.6L273.8 315.2L273.9 313.0L274.0 310.9L274.1 309.1L274.1 307.6L274.2 306.4L274.3 305.5L274.3 305.0L274.4 304.8L274.5 305.0L274.5 305.5L274.6 306.4L274.7 307.6L274.7 309.1L274.8 310.9L274.9 313.0L275.0 315.2L275.0 317.6L275.1 320.2L275.2 322.9L275.2 325.6L275.3 328.3L275.4 331.0L275.4 333.6L275.5 336.0L275.6 338.2L275.7 340.3L275.7 342.1L275.8 343.6L275.9 344.8L275.9 345.7L276.0 346.2L276.1 346.4L276.1 346.2L276.2 345.7L276.3 344.8L276.4 343.6L276.4 342.1L276.5 340.3L276.6 338.2L276.6 336.0L276.7 333.6L276.8 331.0L276.8 328.3L276.9 325.6L277.0 322.9L277.1 320.2L277.1 317.6L277.2 315.2L277.3 313.0L277.3 310.9L277.4 309.1L277.5 307.6L277.5 306.4L277.6 305.5L277.7 305.0L277.8 304.8L277.8 305.0L277.9 305.5L278.0 306.4L278.0 307.6L278.1 309.1L278.2 310.9L278.2 313.0L278.3 315.2L278.4 317.6L278.5 320.2L278.5 322.9L278.6 325.6L278.7 328.3L278.7 331.0L278.8 333.6L278.9 336.0L278.9 338.2L279.0 340.3L279.1 342.1L279.2 343.6L279.2 344.8L279.3 345.7L279.4 346.2L279.4 346.4L279.5 346.2L279.6 345.7L279.6 344.8L279.7 343.6L279.8 342.1L279.9 340.3L279.9 338.2L280.0 336.0L280.1 333.6L280.1 331.0L280.2 328.3L280.3 325.6L280.3 322.9L280.4 320.2L280.5 317.6L280.6 315.2L280.6 313.0L280.7 310.9L280.8 309.1L280.8 307.6L280.9 306.4L281.0 305.5L281.0 305.0L281.1 304.8L281.2 305.0L281.3 305.5L281.3 306.4L281.4 307.6L281.5 309.1L281.5 310.9L281.6 313.0L281.7 315.2L281.7 317.6L281.8 320.2L281.9 322.9L282.0 325.6L282.0 328.3L282.1 331.0L282.2 333.6L282.2 336.0L282.3 338.2L282.4 340.3L282.4 342.1L282.5 343.6L282.6 344.8L282.7 345.7L282.7 346.2L282.8 346.4L282.9 346.2L282.9 345.7L283.0 344.8L283.1 343.6L283.1 342.1L283.2 340.3L283.3 338.2L283.3 336.0L283.4 333.6L283.5 331.0L283.6 328.3L283.6 325.6L283.7 322.9L283.8 320.2L283.8 317.6L283.9 315.2L284.0 313.0L284.0 310.9L284.1 309.1L284.2 307.6L284.3 306.4L284.3 305.5L284.4 305.0L284.5 304.8L284.5 305.0L284.6 305.5L284.7 306.4L284.7 307.6L284.8 309.1L284.9 310.9L285.0 313.0L285.0 315.2L285.1 317.6L285.2 320.2L285.2 322.9L285.3 325.6L285.4 328.3L285.4 331.0L285.5 333.6L285.6 336.0L285.7 338.2L285.7 340.3L285.8 342.1L285.9 343.6L285.9 344.8L286.0 345.7L286.1 346.2L286.1 346.4L286.2 346.2L286.3 345.7L286.4 344.8L286.4 343.6L286.5 342.1L286.6 340.3L286.6 338.2L286.7 336.0L286.8 333.6L286.8 331.0L286.9 328.3L287.0 325.6L287.1 322.9L287.1 320.2L287.2 317.6L287.3 315.2L287.3 313.0L287.4 310.9L287.5 309.1L287.5 307.6L287.6 306.4L287.7 305.5L287.8 305.0L287.8 304.8L287.9 305.0L288.0 305.5L288.0 306.4L288.1 307.6L288.2 309.1L288.2 310.9L288.3 313.0L288.4 315.2L288.5 317.6L288.5 320.2L288.6 322.9L288.7 325.6L288.7 328.3L288.8 331.0L288.9 333.6L288.9 336.0L289.0 338.2L289.1 340.3L289.2 342.1L289.2 343.6L289.3 344.8L289.4 345.7L289.4 346.2L289.5 346.4L289.6 346.2L289.6 345.7L289.7 344.8L289.8 343.6L289.9 342.1L289.9 340.3L290.0 338.2L290.1 336.0L290.1 333.6L290.2 331.0L290.3 328.3L290.3 325.6L290.4 322.9L290.5 320.2L290.6 317.6L290.6 315.2L290.7 313.0L290.8 310.9L290.8 309.1L290.9 307.6L291.0 306.4L291.0 305.5L291.1 305.0L291.2 304.8L291.2 305.0L291.3 305.5L291.4 306.4L291.5 307.6L291.5 309.1L291.6 310.9L291.7 313.0L291.7 315.2L291.8 317.6L291.9 320.2L291.9 322.9L292.0 325.6L292.1 328.3L292.2 331.0L292.2 333.6L292.3 336.0L292.4 338.2L292.4 340.3L292.5 342.1L292.6 343.6L292.6 344.8L292.7 345.7L292.8 346.2L292.9 346.4L292.9 346.2L293.0 345.7L293.1 344.8L293.1 343.6L293.2 342.1L293.3 340.3L293.3 338.2L293.4 336.0L293.5 333.6L293.6 331.0L293.6 328.3L293.7 325.6L293.8 322.9L293.8 320.2L293.9 317.6L294.0 315.2L294.0 313.0L294.1 310.9L294.2 309.1L294.3 307.6L294.3 306.4L294.4 305.5L294.5 305.0L294.5 304.8L294.6 305.0L294.7 305.5L294.7 306.4L294.8 307.6L294.9 309.1L295.0 310.9L295.0 313.0L295.1 315.2L295.2 317.6L295.2 320.2L295.3 322.9L295.4 325.6L295.4 328.3L295.5 331.0L295.6 333.6L295.7 336.0L295.7 338.2L295.8 340.3L295.9 342.1L295.9 343.6L296.0 344.8L296.1 345.7L296.1 346.2L296.2 346.4L296.3 346.2L296.4 345.7L296.4 344.8L296.5 343.6L296.6 342.1L296.6 340.3L296.7 338.2L296.8 336.0L296.8 333.6L296.9 331.0L297.0 328.3L297.1 325.6L297.1 322.9L297.2 320.2L297.3 317.6L297.3 315.2L297.4 313.0L297.5 310.9L297.5 309.1L297.6 307.6L297.7 306.4L297.8 305.5L297.8 305.0L297.9 304.8L298.0 305.0L298.0 305.5L298.1 306.4L298.2 307.6L298.2 309.1L298.3 310.9L298.4 313.0L298.5 315.2L298.5 317.6L298.6 320.2L298.7 322.9L298.7 325.6L298.8 328.3L298.9 331.0L298.9 333.6L299.0 336.0L299.1 338.2L299.2 340.3L299.2 342.1L299.3 343.6L299.4 344.8L299.4 345.7L299.5 346.2L299.6 346.4L299.6 346.2L299.7 345.7L299.8 344.8L299.8 343.6L299.9 342.1L300.0 340.3L300.1 338.2L300.1 336.0L300.2 333.6L300.3 331.0L300.3 328.3L300.4 325.6L300.5 322.9L300.5 320.2L300.6 317.6L300.7 315.2L300.8 313.0L300.8 310.9L300.9 309.1L301.0 307.6L301.0 306.4L301.1 305.5L301.2 305.0L301.2 304.8L301.3 305.0L301.4 305.5L301.5 306.4L301.5 307.6L301.6 309.1L301.7 310.9L301.7 313.0L301.8 315.2L301.9 317.6L301.9 320.2L302.0 322.9L302.1 325.6L302.2 328.3L302.2 331.0L302.3 333.6L302.4 336.0L302.4 338.2L302.5 340.3L302.6 342.1L302.6 343.6L302.7 344.8L302.8 345.7L302.9 346.2L302.9 346.4L303.0 346.2L303.1 345.7L303.1 344.8L303.2 343.6L303.3 342.1L303.3 340.3L303.4 338.2L303.5 336.0L303.6 333.6L303.6 331.0L303.7 328.3L303.8 325.6L303.8 322.9L303.9 320.2L304.0 317.6L304.0 315.2L304.1 313.0L304.2 310.9L304.3 309.1L304.3 307.6L304.4 306.4L304.5 305.5L304.5 305.0L304.6 304.8L304.7 305.0L304.7 305.5L304.8 306.4L304.9 307.6L305.0 309.1L305.0 310.9L305.1 313.0L305.2 315.2L305.2 317.6L305.3 320.2L305.4 322.9L305.4 325.6L305.5 328.3L305.6 331.0L305.7 333.6L305.7 336.0L305.8 338.2L305.9 340.3L305.9 342.1L306.0 343.6L306.1 344.8L306.1 345.7L306.2 346.2L306.3 346.4L306.4 346.2L306.4 345.7L306.5 344.8L306.6 343.6L306.6 342.1L306.7 340.3L306.8 338.2L306.8 336.0L306.9 333.6L307.0 331.0L307.1 328.3L307.1 325.6L307.2 322.9L307.3 320.2L307.3 317.6L307.4 315.2L307.5 313.0L307.5 310.9L307.6 309.1L307.7 307.6L307.8 306.4L307.8 305.5L307.9 305.0L308.0 304.8L308.0 305.0L308.1 305.5L308.2 306.4L308.2 307.6L308.3 309.1L308.4 310.9L308.4 313.0L308.5 315.2L308.6 317.6L308.7 320.2L308.7 322.9L308.8 325.6L308.9 328.3L308.9 331.0L309.0 333.6L309.1 336.0L309.1 338.2L309.2 340.3L309.3 342.1L309.4 343.6L309.4 344.8L309.5 345.7L309.6 346.2L309.6 346.4L309.7 346.2L309.8 345.7L309.8 344.8L309.9 343.6L310.0 342.1L310.1 340.3L310.1 338.2L310.2 336.0L310.3 333.6L310.3 331.0L310.4 328.3L310.5 325.6L310.5 322.9L310.6 320.2L310.7 317.6L310.8 315.2L310.8 313.0L310.9 310.9L311.0 309.1L311.0 307.6L311.1 306.4L311.2 305.5L311.2 305.0L311.3 304.8L311.4 305.0L311.5 305.5L311.5 306.4L311.6 307.6L311.7 309.1L311.7 310.9L311.8 313.0L311.9 315.2L311.9 317.6L312.0 320.2L312.1 322.9L312.2 325.6L312.2 328.3L312.3 331.0L312.4 333.6L312.4 336.0L312.5 338.2L312.6 340.3L312.6 342.1L312.7 343.6L312.8 344.8L312.9 345.7L312.9 346.2L313.0 346.4L313.1 346.2L313.1 345.7L313.2 344.8L313.3 343.6L313.3 342.1L313.4 340.3L313.5 338.2L313.6 336.0L313.6 333.6L313.7 331.0L313.8 328.3L313.8 325.6L313.9 322.9L314.0 320.2L314.0 317.6L314.1 315.2L314.2 313.0L314.3 310.9L314.3 309.1L314.4 307.6L314.5 306.4L314.5 305.5L314.6 305.0L314.7 304.8L314.7 305.0L314.8 305.5L314.9 306.4L315.0 307.6L315.0 309.1L315.1 310.9L315.2 313.0L315.2 315.2L315.3 317.6L315.4 320.2L315.4 322.9L315.5 325.6L315.6 328.3L315.7 331.0L315.7 333.6L315.8 336.0L315.9 338.2L315.9 340.3L316.0 342.1L316.1 343.6L316.1 344.8L316.2 345.7L316.3 346.2L316.3 346.4L316.4 346.2L316.5 345.7L316.6 344.8L316.6 343.6L316.7 342.1L316.8 340.3L316.8 338.2L316.9 336.0L317.0 333.6L317.0 331.0L317.1 328.3L317.2 325.6L317.3 322.9L317.3 320.2L317.4 317.6L317.5 315.2L317.5 313.0L317.6 310.9L317.7 309.1L317.7 307.6L317.8 306.4L317.9 305.5L318.0 305.0L318.0 304.8L318.1 305.0L318.2 305.5L318.2 306.4L318.3 307.6L318.4 309.1L318.4 310.9L318.5 313.0L318.6 315.2L318.7 317.6L318.7 320.2L318.8 322.9L318.9 325.6L318.9 328.3L319.0 331.0L319.1 333.6L319.1 336.0L319.2 338.2L319.3 340.3L319.4 342.1L319.4 343.6L319.5 344.8L319.6 345.7L319.6 346.2L319.7 346.4L319.8 346.2L319.8 345.7L319.9 344.8L320.0 343.6L320.1 342.1L320.1 340.3L320.2 338.2L320.3 336.0L320.3 333.6L320.4 331.0L320.5 328.3L320.5 325.6L320.6 322.9L320.7 320.2L320.8 317.6L320.8 315.2L320.9 313.0L321.0 310.9L321.0 309.1L321.1 307.6L321.2 306.4L321.2 305.5L321.3 305.0L321.4 304.8L321.5 305.0L321.5 305.5L321.6 306.4L321.7 307.6L321.7 309.1L321.8 310.9L321.9 313.0L321.9 315.2L322.0 317.6L322.1 320.2L322.2 322.9L322.2 325.6L322.3 328.3L322.4 331.0L322.4 333.6L322.5 336.0L322.6 338.2L322.6 340.3L322.7 342.1L322.8 343.6L322.9 344.8L322.9 345.7L323.0 346.2L323.1 346.4L323.1 346.2L323.2 345.7L323.3 344.8L323.3 343.6L323.4 342.1L323.5 340.3L323.6 338.2L323.6 336.0L323.7 333.6L323.8 331.0L323.8 328.3L323.9 325.6L324.0 322.9L324.0 320.2L324.1 317.6L324.2 315.2L324.3 313.0L324.3 310.9L324.4 309.1L324.5 307.6L324.5 306.4L324.6 305.5L324.7 305.0L324.7 304.8L324.8 305.0L324.9 305.5L324.9 306.4L325.0 307.6L325.1 309.1L325.2 310.9L325.2 313.0L325.3 315.2L325.4 317.6L325.4 320.2L325.5 322.9L325.6 325.6L325.6 328.3L325.7 331.0L325.8 333.6L325.9 336.0L325.9 338.2L326.0 340.3L326.1 342.1L326.1 343.6L326.2 344.8L326.3 345.7L326.3 346.2L326.4 346.4L326.5 346.2L326.6 345.7L326.6 344.8L326.7 343.6L326.8 342.1L326.8 340.3L326.9 338.2L327.0 336.0L327.0 333.6L327.1 331.0L327.2 328.3L327.3 325.6L327.3 322.9L327.4 320.2L327.5 317.6L327.5 315.2L327.6 313.0L327.7 310.9L327.7 309.1L327.8 307.6L327.9 306.4L328.0 305.5L328.0 305.0L328.1 304.8L328.2 305.0L328.2 305.5L328.3 306.4L328.4 307.6L328.4 309.1L328.5 310.9L328.6 313.0L328.7 315.2L328.7 317.6L328.8 320.2L328.9 322.9L328.9 325.6L329.0 328.3L329.1 331.0L329.1 333.6L329.2 336.0L329.3 338.2L329.4 340.3L329.4 342.1L329.5 343.6L329.6 344.8L329.6 345.7L329.7 346.2L329.8 346.4L329.8 346.2L329.9 345.7L330.0 344.8L330.1 343.6L330.1 342.1L330.2 340.3L330.3 338.2L330.3 336.0L330.4 333.6L330.5 331.0L330.5 328.3L330.6 325.6L330.7 322.9L330.8 320.2L330.8 317.6L330.9 315.2L331.0 313.0L331.0 310.9L331.1 309.1L331.2 307.6L331.2 306.4L331.3 305.5L331.4 305.0L331.5 304.8L331.5 305.0L331.6 305.5L331.7 306.4L331.7 307.6L331.8 309.1L331.9 310.9L331.9 313.0L332.0 315.2L332.1 317.6L332.2 320.2L332.2 322.9L332.3 325.6L332.4 328.3L332.4 331.0L332.5 333.6L332.6 336.0L332.6 338.2L332.7 340.3L332.8 342.1L332.9 343.6L332.9 344.8L333.0 345.7L333.1 346.2L333.1 346.4L333.2 346.2L333.3 345.7L333.3 344.8L333.4 343.6L333.5 342.1L333.5 340.3L333.6 338.2L333.7 336.0L333.8 333.6L333.8 331.0L333.9 328.3L334.0 325.6L334.0 322.9L334.1 320.2L334.2 317.6L334.2 315.2L334.3 313.0L334.4 310.9L334.5 309.1L334.5 307.6L334.6 306.4L334.7 305.5L334.7 305.0L334.8 304.8L334.9 305.0L334.9 305.5L335.0 306.4L335.1 307.6L335.2 309.1L335.2 310.9L335.3 313.0L335.4 315.2L335.4 317.6L335.5 320.2L335.6 322.9L335.6 325.6L335.7 328.3L335.8 331.0L335.9 333.6L335.9 336.0L336.0 338.2L336.1 340.3L336.1 342.1L336.2 343.6L336.3 344.8L336.3 345.7L336.4 346.2L336.5 346.4L336.6 346.2L336.6 345.7L336.7 344.8L336.8 343.6L336.8 342.1L336.9 340.3L337.0 338.2L337.0 336.0L337.1 333.6L337.2 331.0L337.3 328.3L337.3 325.6L337.4 322.9L337.5 320.2L337.5 317.6L337.6 315.2L337.7 313.0L337.7 310.9L337.8 309.1L337.9 307.6L338.0 306.4L338.0 305.5L338.1 305.0L338.2 304.8L338.2 305.0L338.3 305.5L338.4 306.4L338.4 307.6L338.5 309.1L338.6 310.9L338.7 313.0L338.7 315.2L338.8 317.6L338.9 320.2L338.9 322.9L339.0 325.6L339.1 328.3L339.1 331.0L339.2 333.6L339.3 336.0L339.4 338.2L339.4 340.3L339.5 342.1L339.6 343.6L339.6 344.8L339.7 345.7L339.8 346.2L339.8 346.4L339.9 346.2L340.0 345.7L340.1 344.8L340.1 343.6L340.2 342.1L340.3 340.3L340.3 338.2L340.4 336.0L340.5 333.6L340.5 331.0L340.6 328.3L340.7 325.6L340.8 322.9L340.8 320.2L340.9 317.6L341.0 315.2L341.0 313.0L341.1 310.9L341.2 309.1L341.2 307.6L341.3 306.4L341.4 305.5L341.5 305.0L341.5 304.8L341.6 305.0L341.7 305.5L341.7 306.4L341.8 307.6L341.9 309.1L341.9 310.9L342.0 313.0L342.1 315.2L342.1 317.6L342.2 320.2L342.3 322.9L342.4 325.6L342.4 328.3L342.5 331.0L342.6 333.6L342.6 336.0L342.7 338.2L342.8 340.3L342.8 342.1L342.9 343.6L343.0 344.8L343.1 345.7L343.1 346.2L343.2 346.4L343.3 346.2L343.3 345.7L343.4 344.8L343.5 343.6L343.5 342.1L343.6 340.3L343.7 338.2L343.8 336.0L343.8 333.6L343.9 331.0L344.0 328.3L344.0 325.6L344.1 322.9L344.2 320.2L344.2 317.6L344.3 315.2L344.4 313.0L344.5 310.9L344.5 309.1L344.6 307.6L344.7 306.4L344.7 305.5L344.8 305.0L344.9 304.8L344.9 305.0L345.0 305.5L345.1 306.4L345.2 307.6L345.2 309.1L345.3 310.9L345.4 313.0L345.4 315.2L345.5 317.6L345.6 320.2L345.6 322.9L345.7 325.6L345.8 328.3L345.9 331.0L345.9 333.6L346.0 336.0L346.1 338.2L346.1 340.3L346.2 342.1L346.3 343.6L346.3 344.8L346.4 345.7L346.5 346.2L346.6 346.4L346.6 346.2L346.7 345.7L346.8 344.8L346.8 343.6L346.9 342.1L347.0 340.3L347.0 338.2L347.1 336.0L347.2 333.6L347.3 331.0L347.3 328.3L347.4 325.6L347.5 322.9L347.5 320.2L347.6 317.6L347.7 315.2L347.7 313.0L347.8 310.9L347.9 309.1L348.0 307.6L348.0 306.4L348.1 305.5L348.2 305.0L348.2 304.8L348.3 305.0L348.4 305.5L348.4 306.4L348.5 307.6L348.6 309.1L348.7 310.9L348.7 313.0L348.8 315.2L348.9 317.6L348.9 320.2L349.0 322.9L349.1 325.6L349.1 328.3L349.2 331.0L349.3 333.6L349.4 336.0L349.4 338.2L349.5 340.3L349.6 342.1L349.6 343.6L349.7 344.8L349.8 345.7L349.8 346.2L349.9 346.4L350.0 346.2L350.0 345.7L350.1 344.8L350.2 343.6L350.3 342.1L350.3 340.3L350.4 338.2L350.5 336.0L350.5 333.6L350.6 331.0L350.7 328.3L350.7 325.6L350.8 322.9L350.9 320.2L351.0 317.6L351.0 315.2L351.1 313.0L351.2 310.9L351.2 309.1L351.3 307.6L351.4 306.4L351.4 305.5L351.5 305.0L351.6 304.8L351.7 305.0L351.7 305.5L351.8 306.4L351.9 307.6L351.9 309.1L352.0 310.9L352.1 313.0L352.1 315.2L352.2 317.6L352.3 320.2L352.4 322.9L352.4 325.6L352.5 328.3L352.6 331.0L352.6 333.6L352.7 336.0L352.8 338.2L352.8 340.3L352.9 342.1L353.0 343.6L353.1 344.8L353.1 345.7L353.2 346.2L353.3 346.4L353.3 346.2L353.4 345.7L353.5 344.8L353.5 343.6L353.6 342.1L353.7 340.3L353.8 338.2L353.8 336.0L353.9 333.6L354.0 331.0L354.0 328.3L354.1 325.6L354.2 322.9L354.2 320.2L354.3 317.6L354.4 315.2L354.5 313.0L354.5 310.9L354.6 309.1L354.7 307.6L354.7 306.4L354.8 305.5L354.9 305.0L354.9 304.8L355.0 305.0L355.1 305.5L355.2 306.4L355.2 307.6L355.3 309.1L355.4 310.9L355.4 313.0L355.5 315.2L355.6 317.6L355.6 320.2L355.7 322.9L355.8 325.6L355.9 328.3L355.9 331.0L356.0 333.6L356.1 336.0L356.1 338.2L356.2 340.3L356.3 342.1L356.3 343.6L356.4 344.8L356.5 345.7L356.6 346.2L356.6 346.4L356.7 346.2L356.8 345.7L356.8 344.8L356.9 343.6L357.0 342.1L357.0 340.3L357.1 338.2L357.2 336.0L357.3 333.6L357.3 331.0L357.4 328.3L357.5 325.6L357.5 322.9L357.6 320.2L357.7 317.6L357.7 315.2L357.8 313.0L357.9 310.9L358.0 309.1L358.0 307.6L358.1 306.4L358.2 305.5L358.2 305.0L358.3 304.8L358.4 305.0L358.4 305.5L358.5 306.4L358.6 307.6L358.6 309.1L358.7 310.9L358.8 313.0L358.9 315.2L358.9 317.6L359.0 320.2L359.1 322.9L359.1 325.6L359.2 328.3L359.3 331.0L359.3 333.6L359.4 336.0L359.5 338.2L359.6 340.3L359.6 342.1L359.7 343.6L359.8 344.8L359.8 345.7L359.9 346.2L360.0 346.4L360.0 346.2L360.1 345.7L360.2 344.8L360.3 343.6L360.3 342.1L360.4 340.3L360.5 338.2L360.5 336.0L360.6 333.6L360.7 331.0L360.7 328.3L360.8 325.6L360.9 322.9L361.0 320.2L361.0 317.6L361.1 315.2L361.2 313.0L361.2 310.9L361.3 309.1L361.4 307.6L361.4 306.4L361.5 305.5L361.6 305.0L361.7 304.8L361.7 305.0L361.8 305.5L361.9 306.4L361.9 307.6L362.0 309.1L362.1 310.9L362.1 313.0L362.2 315.2L362.3 317.6L362.4 320.2L362.4 322.9L362.5 325.6L362.6 328.3L362.6 331.0L362.7 333.6L362.8 336.0L362.8 338.2L362.9 340.3L363.0 342.1L363.1 343.6L363.1 344.8L363.2 345.7L363.3 346.2L363.3 346.4L363.4 346.2L363.5 345.7L363.5 344.8L363.6 343.6L363.7 342.1L363.8 340.3L363.8 338.2L363.9 336.0L364.0 333.6L364.0 331.0L364.1 328.3L364.2 325.6L364.2 322.9L364.3 320.2L364.4 317.6L364.5 315.2L364.5 313.0L364.6 310.9L364.7 309.1L364.7 307.6L364.8 306.4L364.9 305.5L364.9 305.0L365.0 304.8L365.1 305.0L365.2 305.5L365.2 306.4L365.3 307.6L365.4 309.1L365.4 310.9L365.5 313.0L365.6 315.2L365.6 317.6L365.7 320.2L365.8 322.9L365.9 325.6L365.9 328.3L366.0 331.0L366.1 333.6L366.1 336.0L366.2 338.2L366.3 340.3L366.3 342.1L366.4 343.6L366.5 344.8L366.6 345.7L366.6 346.2L366.7 346.4L366.8 346.2L366.8 345.7L366.9 344.8L367.0 343.6L367.0 342.1L367.1 340.3L367.2 338.2L367.2 336.0L367.3 333.6L367.4 331.0L367.5 328.3L367.5 325.6L367.6 322.9L367.7 320.2L367.7 317.6L367.8 315.2L367.9 313.0L367.9 310.9L368.0 309.1L368.1 307.6L368.2 306.4L368.2 305.5L368.3 305.0L368.4 304.8L368.4 305.0L368.5 305.5L368.6 306.4L368.6 307.6L368.7 309.1L368.8 310.9L368.9 313.0L368.9 315.2L369.0 317.6L369.1 320.2L369.1 322.9L369.2 325.6L369.3 328.3L369.3 331.0L369.4 333.6L369.5 336.0L369.6 338.2L369.6 340.3L369.7 342.1L369.8 343.6L369.8 344.8L369.9 345.7L370.0 346.2L370.0 346.4L370.1 346.2L370.2 345.7L370.3 344.8L370.3 343.6L370.4 342.1L370.5 340.3L370.5 338.2L370.6 336.0L370.7 333.6L370.7 331.0L370.8 328.3L370.9 325.6L371.0 322.9L371.0 320.2L371.1 317.6L371.2 315.2L371.2 313.0L371.3 310.9L371.4 309.1L371.4 307.6L371.5 306.4L371.6 305.5L371.7 305.0L371.7 304.8L371.8 305.0L371.9 305.5L371.9 306.4L372.0 307.6L372.1 309.1L372.1 310.9L372.2 313.0L372.3 315.2L372.4 317.6L372.4 320.2L372.5 322.9L372.6 325.6L372.6 328.3L372.7 331.0L372.8 333.6L372.8 336.0L372.9 338.2L373.0 340.3L373.1 342.1L373.1 343.6L373.2 344.8L373.3 345.7L373.3 346.2L373.4 346.4L373.5 346.2L373.5 345.7L373.6 344.8L373.7 343.6L373.8 342.1L373.8 340.3L373.9 338.2L374.0 336.0L374.0 333.6L374.1 331.0L374.2 328.3L374.2 325.6L374.3 322.9L374.4 320.2L374.5 317.6L374.5 315.2L374.6 313.0L374.7 310.9L374.7 309.1L374.8 307.6L374.9 306.4L374.9 305.5L375.0 305.0L375.1 304.8L375.1 305.0L375.2 305.5L375.3 306.4L375.4 307.6L375.4 309.1L375.5 310.9L375.6 313.0L375.6 315.2L375.7 317.6L375.8 320.2L375.8 322.9L375.9 325.6L376.0 328.3L376.1 331.0L376.1 333.6L376.2 336.0L376.3 338.2L376.3 340.3L376.4 342.1L376.5 343.6L376.5 344.8L376.6 345.7L376.7 346.2L376.8 346.4L376.8 346.2L376.9 345.7L377.0 344.8L377.0 343.6L377.1 342.1L377.2 340.3L377.2 338.2L377.3 336.0L377.4 333.6L377.5 331.0L377.5 328.3L377.6 325.6L377.7 322.9L377.7 320.2L377.8 317.6L377.9 315.2L377.9 313.0L378.0 310.9L378.1 309.1L378.2 307.6L378.2 306.4L378.3 305.5L378.4 305.0L378.4 304.8L378.5 305.0L378.6 305.5L378.6 306.4L378.7 307.6L378.8 309.1L378.9 310.9L378.9 313.0L379.0 315.2L379.1 317.6L379.1 320.2L379.2 322.9L379.3 325.6L379.3 328.3L379.4 331.0L379.5 333.6L379.6 336.0L379.6 338.2L379.7 340.3L379.8 342.1L379.8 343.6L379.9 344.8L380.0 345.7L380.0 346.2L380.1 346.4L380.2 346.2L380.3 345.7L380.3 344.8L380.4 343.6L380.5 342.1L380.5 340.3L380.6 338.2L380.7 336.0L380.7 333.6L380.8 331.0L380.9 328.3L381.0 325.6L381.0 322.9L381.1 320.2L381.2 317.6L381.2 315.2L381.3 313.0L381.4 310.9L381.4 309.1L381.5 307.6L381.6 306.4L381.7 305.5L381.7 305.0L381.8 304.8L381.9 305.0L381.9 305.5L382.0 306.4L382.1 307.6L382.1 309.1L382.2 310.9L382.3 313.0L382.4 315.2L382.4 317.6L382.5 320.2L382.6 322.9L382.6 325.6L382.7 328.3L382.8 331.0L382.8 333.6L382.9 336.0L383.0 338.2L383.1 340.3L383.1 342.1L383.2 343.6L383.3 344.8L383.3 345.7L383.4 346.2L383.5 346.4L383.5 346.2L383.6 345.7L383.7 344.8L383.7 343.6L383.8 342.1L383.9 340.3L384.0 338.2L384.0 336.0L384.1 333.6L384.2 331.0L384.2 328.3L384.3 325.6L384.4 322.9L384.4 320.2L384.5 317.6L384.6 315.2L384.7 313.0L384.7 310.9L384.8 309.1L384.9 307.6L384.9 306.4L385.0 305.5L385.1 305.0L385.1 304.8L385.2 305.0L385.3 305.5L385.4 306.4L385.4 307.6L385.5 309.1L385.6 310.9L385.6 313.0L385.7 315.2L385.8 317.6L385.8 320.2L385.9 322.9L386.0 325.6L386.1 328.3L386.1 331.0L386.2 333.6L386.3 336.0L386.3 338.2L386.4 340.3L386.5 342.1L386.5 343.6L386.6 344.8L386.7 345.7L386.8 346.2L386.8 346.4L386.9 346.2L387.0 345.7L387.0 344.8L387.1 343.6L387.2 342.1L387.2 340.3L387.3 338.2L387.4 336.0L387.5 333.6L387.5 331.0L387.6 328.3L387.7 325.6L387.7 322.9L387.8 320.2L387.9 317.6L387.9 315.2L388.0 313.0L388.1 310.9L388.2 309.1L388.2 307.6L388.3 306.4L388.4 305.5L388.4 305.0L388.5 304.8L388.6 305.0L388.6 305.5L388.7 306.4L388.8 307.6L388.9 309.1L388.9 310.9L389.0 313.0L389.1 315.2L389.1 317.6L389.2 320.2L389.3 322.9L389.3 325.6L389.4 328.3L389.5 331.0L389.6 333.6L389.6 336.0L389.7 338.2L389.8 340.3L389.8 342.1L389.9 343.6L390.0 344.8L390.0 345.7L390.1 346.2L390.2 346.4L390.3 346.2L390.3 345.7L390.4 344.8L390.5 343.6L390.5 342.1L390.6 340.3L390.7 338.2L390.7 336.0L390.8 333.6L390.9 331.0L391.0 328.3L391.0 325.6L391.1 322.9L391.2 320.2L391.2 317.6L391.3 315.2L391.4 313.0L391.4 310.9L391.5 309.1L391.6 307.6L391.7 306.4L391.7 305.5L391.8 305.0L391.9 304.8L391.9 305.0L392.0 305.5L392.1 306.4L392.1 307.6L392.2 309.1L392.3 310.9L392.3 313.0L392.4 315.2L392.5 317.6L392.6 320.2L392.6 322.9L392.7 325.6L392.8 328.3L392.8 331.0L392.9 333.6L393.0 336.0L393.0 338.2L393.1 340.3L393.2 342.1L393.3 343.6L393.3 344.8L393.4 345.7L393.5 346.2L393.5 346.4L393.6 346.2L393.7 345.7L393.7 344.8L393.8 343.6L393.9 342.1L394.0 340.3L394.0 338.2L394.1 336.0L394.2 333.6L394.2 331.0L394.3 328.3L394.4 325.6L394.4 322.9L394.5 320.2L394.6 317.6L394.7 315.2L394.7 313.0L394.8 310.9L394.9 309.1L394.9 307.6L395.0 306.4L395.1 305.5L395.1 305.0L395.2 304.8L395.3 305.0L395.4 305.5L395.4 306.4L395.5 307.6L395.6 309.1L395.6 310.9L395.7 313.0L395.8 315.2L395.8 317.6L395.9 320.2L396.0 322.9L396.1 325.6L396.1 328.3L396.2 331.0L396.3 333.6L396.3 336.0L396.4 338.2L396.5 340.3L396.5 342.1L396.6 343.6L396.7 344.8L396.8 345.7L396.8 346.2L396.9 346.4L397.0 346.2L397.0 345.7L397.1 344.8L397.2 343.6L397.2 342.1L397.3 340.3L397.4 338.2L397.5 336.0L397.5 333.6L397.6 331.0L397.7 328.3L397.7 325.6L397.8 322.9L397.9 320.2L397.9 317.6L398.0 315.2L398.1 313.0L398.2 310.9L398.2 309.1L398.3 307.6L398.4 306.4L398.4 305.5L398.5 305.0L398.6 304.8L398.6 305.0L398.7 305.5L398.8 306.4L398.9 307.6L398.9 309.1L399.0 310.9L399.1 313.0L399.1 315.2L399.2 317.6L399.3 320.2L399.3 322.9L399.4 325.6L399.5 328.3L399.6 331.0L399.6 333.6L399.7 336.0L399.8 338.2L399.8 340.3L399.9 342.1L400.0 343.6L400.0 344.8L400.1 345.7L400.2 346.2L400.2 346.4L400.3 346.2L400.4 345.7L400.5 344.8L400.5 343.6L400.6 342.1L400.7 340.3L400.7 338.2L400.8 336.0L400.9 333.6L400.9 331.0L401.0 328.3L401.1 325.6L401.2 322.9L401.2 320.2L401.3 317.6L401.4 315.2L401.4 313.0L401.5 310.9L401.6 309.1L401.6 307.6L401.7 306.4L401.8 305.5L401.9 305.0L401.9 304.8L402.0 305.0L402.1 305.5L402.1 306.4L402.2 307.6L402.3 309.1L402.3 310.9L402.4 313.0L402.5 315.2L402.6 317.6L402.6 320.2L402.7 322.9L402.8 325.6L402.8 328.3L402.9 331.0L403.0 333.6L403.0 336.0L403.1 338.2L403.2 340.3L403.3 342.1L403.3 343.6L403.4 344.8L403.5 345.7L403.5 346.2L403.6 346.4L403.7 346.2L403.7 345.7L403.8 344.8L403.9 343.6L404.0 342.1L404.0 340.3L404.1 338.2L404.2 336.0L404.2 333.6L404.3 331.0L404.4 328.3L404.4 325.6L404.5 322.9L404.6 320.2L404.7 317.6L404.7 315.2L404.8 313.0L404.9 310.9L404.9 309.1L405.0 307.6L405.1 306.4L405.1 305.5L405.2 305.0L405.3 304.8L405.4 305.0L405.4 305.5L405.5 306.4L405.6 307.6L405.6 309.1L405.7 310.9L405.8 313.0L405.8 315.2L405.9 317.6L406.0 320.2L406.1 322.9L406.1 325.6L406.2 328.3L406.3 331.0L406.3 333.6L406.4 336.0L406.5 338.2L406.5 340.3L406.6 342.1L406.7 343.6L406.8 344.8L406.8 345.7L406.9 346.2L407.0 346.4L407.0 346.2L407.1 345.7L407.2 344.8L407.2 343.6L407.3 342.1L407.4 340.3L407.5 338.2L407.5 336.0L407.6 333.6L407.7 331.0L407.7 328.3L407.8 325.6L407.9 322.9L407.9 320.2L408.0 317.6L408.1 315.2L408.2 313.0L408.2 310.9L408.3 309.1L408.4 307.6L408.4 306.4L408.5 305.5L408.6 305.0L408.6 304.8L408.7 305.0L408.8 305.5L408.8 306.4L408.9 307.6L409.0 309.1L409.1 310.9L409.1 313.0L409.2 315.2L409.3 317.6L409.3 320.2L409.4 322.9L409.5 325.6L409.5 328.3L409.6 331.0L409.7 333.6L409.8 336.0L409.8 338.2L409.9 340.3L410.0 342.1L410.0 343.6L410.1 344.8L410.2 345.7L410.2 346.2L410.3 346.4L410.4 346.2L410.5 345.7L410.5 344.8L410.6 343.6L410.7 342.1L410.7 340.3L410.8 338.2L410.9 336.0L410.9 333.6L411.0 331.0L411.1 328.3L411.2 325.6L411.2 322.9L411.3 320.2L411.4 317.6L411.4 315.2L411.5 313.0L411.6 310.9L411.6 309.1L411.7 307.6L411.8 306.4L411.9 305.5L411.9 305.0L412.0 304.8L412.1 305.0L412.1 305.5L412.2 306.4L412.3 307.6L412.3 309.1L412.4 310.9L412.5 313.0L412.6 315.2L412.6 317.6L412.7 320.2L412.8 322.9L412.8 325.6L412.9 328.3L413.0 331.0L413.0 333.6L413.1 336.0L413.2 338.2L413.3 340.3L413.3 342.1L413.4 343.6L413.5 344.8L413.5 345.7L413.6 346.2L413.7 346.4L413.7 346.2L413.8 345.7L413.9 344.8L414.0 343.6L414.0 342.1L414.1 340.3L414.2 338.2L414.2 336.0L414.3 333.6L414.4 331.0L414.4 328.3L414.5 325.6L414.6 322.9L414.7 320.2L414.7 317.6L414.8 315.2L414.9 313.0L414.9 310.9L415.0 309.1L415.1 307.6L415.1 306.4L415.2 305.5L415.3 305.0L415.4 304.8L415.4 305.0L415.5 305.5L415.6 306.4L415.6 307.6L415.7 309.1L415.8 310.9L415.8 313.0L415.9 315.2L416.0 317.6L416.1 320.2L416.1 322.9L416.2 325.6L416.3 328.3L416.3 331.0L416.4 333.6L416.5 336.0L416.5 338.2L416.6 340.3L416.7 342.1L416.8 343.6L416.8 344.8L416.9 345.7L417.0 346.2L417.0 346.4L417.1 346.2L417.2 345.7L417.2 344.8L417.3 343.6L417.4 342.1L417.4 340.3L417.5 338.2L417.6 336.0L417.7 333.6L417.7 331.0L417.8 328.3L417.9 325.6L417.9 322.9L418.0 320.2L418.1 317.6L418.1 315.2L418.2 313.0L418.3 310.9L418.4 309.1L418.4 307.6L418.5 306.4L418.6 305.5L418.6 305.0L418.7 304.8L418.8 305.0L418.8 305.5L418.9 306.4L419.0 307.6L419.1 309.1L419.1 310.9L419.2 313.0L419.3 315.2L419.3 317.6L419.4 320.2L419.5 322.9L419.5 325.6L419.6 328.3L419.7 331.0L419.8 333.6L419.8 336.0L419.9 338.2L420.0 340.3L420.0 342.1L420.1 343.6L420.2 344.8L420.2 345.7L420.3 346.2L420.4 346.4L420.5 346.2L420.5 345.7L420.6 344.8L420.7 343.6L420.7 342.1L420.8 340.3L420.9 338.2L420.9 336.0L421.0 333.6L421.1 331.0L421.2 328.3L421.2 325.6L421.3 322.9L421.4 320.2L421.4 317.6L421.5 315.2L421.6 313.0L421.6 310.9L421.7 309.1L421.8 307.6L421.9 306.4L421.9 305.5L422.0 305.0L422.1 304.8L422.1 305.0L422.2 305.5L422.3 306.4L422.3 307.6L422.4 309.1L422.5 310.9L422.6 313.0L422.6 315.2L422.7 317.6L422.8 320.2L422.8 322.9L422.9 325.6L423.0 328.3L423.0 331.0L423.1 333.6L423.2 336.0L423.3 338.2L423.3 340.3L423.4 342.1L423.5 343.6L423.5 344.8L423.6 345.7L423.7 346.2L423.7 346.4L423.8 346.2L423.9 345.7L424.0 344.8L424.0 343.6L424.1 342.1L424.2 340.3L424.2 338.2L424.3 336.0L424.4 333.6L424.4 331.0L424.5 328.3L424.6 325.6L424.7 322.9L424.7 320.2L424.8 317.6L424.9 315.2L424.9 313.0L425.0 310.9L425.1 309.1L425.1 307.6L425.2 306.4L425.3 305.5L425.4 305.0L425.4 304.8L425.5 305.0L425.6 305.5L425.6 306.4L425.7 307.6L425.8 309.1L425.8 310.9L425.9 313.0L426.0 315.2L426.0 317.6L426.1 320.2L426.2 322.9L426.3 325.6L426.3 328.3L426.4 331.0L426.5 333.6L426.5 336.0L426.6 338.2L426.7 340.3L426.7 342.1L426.8 343.6L426.9 344.8L427.0 345.7L427.0 346.2L427.1 346.4L427.2 346.2L427.2 345.7L427.3 344.8L427.4 343.6L427.4 342.1L427.5 340.3L427.6 338.2L427.7 336.0L427.7 333.6L427.8 331.0L427.9 328.3L427.9 325.6L428.0 322.9L428.1 320.2L428.1 317.6L428.2 315.2L428.3 313.0L428.4 310.9L428.4 309.1L428.5 307.6L428.6 306.4L428.6 305.5L428.7 305.0L428.8 304.8L428.8 305.0L428.9 305.5L429.0 306.4L429.1 307.6L429.1 309.1L429.2 310.9L429.3 313.0L429.3 315.2L429.4 317.6L429.5 320.2L429.5 322.9L429.6 325.6L429.7 328.3L429.8 331.0L429.8 333.6L429.9 336.0L430.0 338.2L430.0 340.3L430.1 342.1L430.2 343.6L430.2 344.8L430.3 345.7L430.4 346.2L430.5 346.4L430.5 346.2L430.6 345.7L430.7 344.8L430.7 343.6L430.8 342.1L430.9 340.3L430.9 338.2L431.0 336.0L431.1 333.6L431.2 331.0L431.2 328.3L431.3 325.6L431.4 322.9L431.4 320.2L431.5 317.6L431.6 315.2L431.6 313.0L431.7 310.9L431.8 309.1L431.9 307.6L431.9 306.4L432.0 305.5L432.1 305.0L432.1 304.8L432.2 305.0L432.3 305.5L432.3 306.4L432.4 307.6L432.5 309.1L432.6 310.9L432.6 313.0L432.7 315.2L432.8 317.6L432.8 320.2L432.9 322.9L433.0 325.6L433.0 328.3L433.1 331.0L433.2 333.6L433.3 336.0L433.3 338.2L433.4 340.3L433.5 342.1L433.5 343.6L433.6 344.8L433.7 345.7L433.7 346.2L433.8 346.4L433.9 346.2L433.9 345.7L434.0 344.8L434.1 343.6L434.2 342.1L434.2 340.3L434.3 338.2L434.4 336.0L434.4 333.6L434.5 331.0L434.6 328.3L434.6 325.6L434.7 322.9L434.8 320.2L434.9 317.6L434.9 315.2L435.0 313.0L435.1 310.9L435.1 309.1L435.2 307.6L435.3 306.4L435.3 305.5L435.4 305.0L435.5 304.8L435.6 305.0L435.6 305.5L435.7 306.4L435.8 307.6L435.8 309.1L435.9 310.9L436.0 313.0L436.0 315.2L436.1 317.6L436.2 320.2L436.3 322.9L436.3 325.6L436.4 328.3L436.5 331.0L436.5 333.6L436.6 336.0L436.7 338.2L436.7 340.3L436.8 342.1L436.9 343.6L437.0 344.8L437.0 345.7L437.1 346.2L437.2 346.4L437.2 346.2L437.3 345.7L437.4 344.8L437.4 343.6L437.5 342.1L437.6 340.3L437.7 338.2L437.7 336.0L437.8 333.6L437.9 331.0L437.9 328.3L438.0 325.6L438.1 322.9L438.1 320.2L438.2 317.6L438.3 315.2L438.4 313.0L438.4 310.9L438.5 309.1L438.6 307.6L438.6 306.4L438.7 305.5L438.8 305.0L438.8 304.8L438.9 305.0L439.0 305.5L439.1 306.4L439.1 307.6L439.2 309.1L439.3 310.9L439.3 313.0L439.4 315.2L439.5 317.6L439.5 320.2L439.6 322.9L439.7 325.6L439.8 328.3L439.8 331.0L439.9 333.6L440.0 336.0L440.0 338.2L440.1 340.3L440.2 342.1L440.2 343.6L440.3 344.8L440.4 345.7L440.5 346.2L440.5 346.4L440.6 346.2L440.7 345.7L440.7 344.8L440.8 343.6L440.9 342.1L440.9 340.3L441.0 338.2L441.1 336.0L441.2 333.6L441.2 331.0L441.3 328.3L441.4 325.6L441.4 322.9L441.5 320.2L441.6 317.6L441.6 315.2L441.7 313.0L441.8 310.9L441.9 309.1L441.9 307.6L442.0 306.4L442.1 305.5L442.1 305.0L442.2 304.8L442.3 305.0L442.3 305.5L442.4 306.4L442.5 307.6L442.5 309.1L442.6 310.9L442.7 313.0L442.8 315.2L442.8 317.6L442.9 320.2L443.0 322.9L443.0 325.6L443.1 328.3L443.2 331.0L443.2 333.6L443.3 336.0L443.4 338.2L443.5 340.3L443.5 342.1L443.6 343.6L443.7 344.8L443.7 345.7L443.8 346.2L443.9 346.4L443.9 346.2L444.0 345.7L444.1 344.8L444.2 343.6L444.2 342.1L444.3 340.3L444.4 338.2L444.4 336.0L444.5 333.6L444.6 331.0L444.6 328.3L444.7 325.6L444.8 322.9L444.9 320.2L444.9 317.6L445.0 315.2L445.1 313.0L445.1 310.9L445.2 309.1L445.3 307.6L445.3 306.4L445.4 305.5L445.5 305.0L445.6 304.8L445.6 305.0L445.7 305.5L445.8 306.4L445.8 307.6L445.9 309.1L446.0 310.9L446.0 313.0L446.1 315.2L446.2 317.6L446.3 320.2L446.3 322.9L446.4 325.6L446.5 328.3L446.5 331.0L446.6 333.6L446.7 336.0L446.7 338.2L446.8 340.3L446.9 342.1L447.0 343.6L447.0 344.8L447.1 345.7L447.2 346.2L447.2 346.4L447.3 346.2L447.4 345.7L447.4 344.8L447.5 343.6L447.6 342.1L447.7 340.3L447.7 338.2L447.8 336.0L447.9 333.6L447.9 331.0L448.0 328.3L448.1 325.6L448.1 322.9L448.2 320.2L448.3 317.6L448.4 315.2L448.4 313.0L448.5 310.9L448.6 309.1L448.6 307.6L448.7 306.4L448.8 305.5L448.8 305.0L448.9 304.8L449.0 305.0L449.1 305.5L449.1 306.4L449.2 307.6L449.3 309.1L449.3 310.9L449.4 313.0L449.5 315.2L449.5 317.6L449.6 320.2L449.7 322.9L449.8 325.6L449.8 328.3L449.9 331.0L450.0 333.6L450.0 336.0L450.1 338.2L450.2 340.3L450.2 342.1L450.3 343.6L450.4 344.8L450.5 345.7L450.5 346.2L450.6 346.4L450.7 346.2L450.7 345.7L450.8 344.8L450.9 343.6L450.9 342.1L451.0 340.3L451.1 338.2L451.1 336.0L451.2 333.6L451.3 331.0L451.4 328.3L451.4 325.6L451.5 322.9L451.6 320.2L451.6 317.6L451.7 315.2L451.8 313.0L451.8 310.9L451.9 309.1L452.0 307.6L452.1 306.4L452.1 305.5L452.2 305.0L452.3 304.8L452.3 305.0L452.4 305.5L452.5 306.4L452.5 307.6L452.6 309.1L452.7 310.9L452.8 313.0L452.8 315.2L452.9 317.6L453.0 320.2L453.0 322.9L453.1 325.6L453.2 328.3L453.2 331.0L453.3 333.6L453.4 336.0L453.5 338.2L453.5 340.3L453.6 342.1L453.7 343.6L453.7 344.8L453.8 345.7L453.9 346.2L453.9 346.4L454.0 346.2L454.1 345.7L454.2 344.8L454.2 343.6L454.3 342.1L454.4 340.3L454.4 338.2L454.5 336.0L454.6 333.6L454.6 331.0L454.7 328.3L454.8 325.6L454.9 322.9L454.9 320.2L455.0 317.6L455.1 315.2L455.1 313.0L455.2 310.9L455.3 309.1L455.3 307.6L455.4 306.4L455.5 305.5L455.6 305.0L455.6 304.8L455.7 305.0L455.8 305.5L455.8 306.4L455.9 307.6L456.0 309.1L456.0 310.9L456.1 313.0L456.2 315.2L456.3 317.6L456.3 320.2L456.4 322.9L456.5 325.6L456.5 328.3L456.6 331.0L456.7 333.6L456.7 336.0L456.8 338.2L456.9 340.3L457.0 342.1L457.0 343.6L457.1 344.8L457.2 345.7L457.2 346.2L457.3 346.4L457.4 346.2L457.4 345.7L457.5 344.8L457.6 343.6L457.7 342.1L457.7 340.3L457.8 338.2L457.9 336.0L457.9 333.6L458.0 331.0L458.1 328.3L458.1 325.6L458.2 322.9L458.3 320.2L458.4 317.6L458.4 315.2L458.5 313.0L458.6 310.9L458.6 309.1L458.7 307.6L458.8 306.4L458.8 305.5L458.9 305.0L459.0 304.8L459.0 305.0L459.1 305.5L459.2 306.4L459.3 307.6L459.3 309.1L459.4 310.9L459.5 313.0L459.5 315.2L459.6 317.6L459.7 320.2L459.7 322.9L459.8 325.6L459.9 328.3L460.0 331.0L460.0 333.6L460.1 336.0L460.2 338.2L460.2 340.3L460.3 342.1L460.4 343.6L460.4 344.8L460.5 345.7L460.6 346.2L460.7 346.4L460.7 346.2L460.8 345.7L460.9 344.8L460.9 343.6L461.0 342.1L461.1 340.3L461.1 338.2L461.2 336.0L461.3 333.6L461.4 331.0L461.4 328.3L461.5 325.6L461.6 322.9L461.6 320.2L461.7 317.6L461.8 315.2L461.8 313.0L461.9 310.9L462.0 309.1L462.1 307.6L462.1 306.4L462.2 305.5L462.3 305.0L462.3 304.8L462.4 305.0L462.5 305.5L462.5 306.4L462.6 307.6L462.7 309.1L462.8 310.9L462.8 313.0L462.9 315.2L463.0 317.6L463.0 320.2L463.1 322.9L463.2 325.6L463.2 328.3L463.3 331.0L463.4 333.6L463.5 336.0L463.5 338.2L463.6 340.3L463.7 342.1L463.7 343.6L463.8 344.8L463.9 345.7L463.9 346.2L464.0 346.4L464.1 346.2L464.2 345.7L464.2 344.8L464.3 343.6L464.4 342.1L464.4 340.3L464.5 338.2L464.6 336.0L464.6 333.6L464.7 331.0L464.8 328.3L464.9 325.6L464.9 322.9L465.0 320.2L465.1 317.6L465.1 315.2L465.2 313.0L465.3 310.9L465.3 309.1L465.4 307.6L465.5 306.4L465.6 305.5L465.6 305.0L465.7 304.8L465.8 305.0L465.8 305.5L465.9 306.4L466.0 307.6L466.0 309.1L466.1 310.9L466.2 313.0L466.3 315.2L466.3 317.6L466.4 320.2L466.5 322.9L466.5 325.6L466.6 328.3L466.7 331.0L466.7 333.6L466.8 336.0L466.9 338.2L467.0 340.3L467.0 342.1L467.1 343.6L467.2 344.8L467.2 345.7L467.3 346.2L467.4 346.4L467.4 346.2L467.5 345.7L467.6 344.8L467.6 343.6L467.7 342.1L467.8 340.3L467.9 338.2L467.9 336.0L468.0 333.6L468.1 331.0L468.1 328.3L468.2 325.6L468.3 322.9L468.3 320.2L468.4 317.6L468.5 315.2L468.6 313.0L468.6 310.9L468.7 309.1L468.8 307.6L468.8 306.4L468.9 305.5L469.0 305.0L469.0 304.8L469.1 305.0L469.2 305.5L469.3 306.4L469.3 307.6L469.4 309.1L469.5 310.9L469.5 313.0L469.6 315.2L469.7 317.6L469.7 320.2L469.8 322.9L469.9 325.6L470.0 328.3L470.0 331.0L470.1 333.6L470.2 336.0L470.2 338.2L470.3 340.3L470.4 342.1L470.4 343.6L470.5 344.8L470.6 345.7L470.7 346.2L470.7 346.4L470.8 346.2L470.9 345.7L470.9 344.8L471.0 343.6L471.1 342.1L471.1 340.3L471.2 338.2L471.3 336.0L471.4 333.6L471.4 331.0L471.5 328.3L471.6 325.6L471.6 322.9L471.7 320.2L471.8 317.6L471.8 315.2L471.9 313.0L472.0 310.9L472.1 309.1L472.1 307.6L472.2 306.4L472.3 305.5L472.3 305.0L472.4 304.8L472.5 305.0L472.5 305.5L472.6 306.4L472.7 307.6L472.8 309.1L472.8 310.9L472.9 313.0L473.0 315.2L473.0 317.6L473.1 320.2L473.2 322.9L473.2 325.6L473.3 328.3L473.4 331.0L473.5 333.6L473.5 336.0L473.6 338.2L473.7 340.3L473.7 342.1L473.8 343.6L473.9 344.8L473.9 345.7L474.0 346.2L474.1 346.4L474.2 346.2L474.2 345.7L474.3 344.8L474.4 343.6L474.4 342.1L474.5 340.3L474.6 338.2L474.6 336.0L474.7 333.6L474.8 331.0L474.9 328.3L474.9 325.6L475.0 322.9L475.1 320.2L475.1 317.6L475.2 315.2L475.3 313.0L475.3 310.9L475.4 309.1L475.5 307.6L475.6 306.4L475.6 305.5L475.7 305.0L475.8 304.8L475.8 305.0L475.9 305.5L476.0 306.4L476.0 307.6L476.1 309.1L476.2 310.9L476.2 313.0L476.3 315.2L476.4 317.6L476.5 320.2L476.5 322.9L476.6 325.6L476.7 328.3L476.7 331.0L476.8 333.6L476.9 336.0L476.9 338.2L477.0 340.3L477.1 342.1L477.2 343.6L477.2 344.8L477.3 345.7L477.4 346.2L477.4 346.4L477.5 346.2L477.6 345.7L477.6 344.8L477.7 343.6L477.8 342.1L477.9 340.3L477.9 338.2L478.0 336.0L478.1 333.6L478.1 331.0L478.2 328.3L478.3 325.6L478.3 322.9L478.4 320.2L478.5 317.6L478.6 315.2L478.6 313.0L478.7 310.9L478.8 309.1L478.8 307.6L478.9 306.4L479.0 305.5L479.0 305.0L479.1 304.8L479.2 305.0L479.3 305.5L479.3 306.4L479.4 307.6L479.5 309.1L479.5 310.9L479.6 313.0L479.7 315.2L479.7 317.6L479.8 320.2L479.9 322.9L480.0 325.6L480.0 328.3L480.1 331.0L480.2 333.6L480.2 336.0L480.3 338.2L480.4 340.3L480.4 342.1L480.5 343.6L480.6 344.8L480.7 345.7L480.7 346.2L480.8 346.4L480.9 346.2L480.9 345.7L481.0 344.8L481.1 343.6L481.1 342.1L481.2 340.3L481.3 338.2L481.4 336.0L481.4 333.6L481.5 331.0L481.6 328.3L481.6 325.6L481.7 322.9L481.8 320.2L481.8 317.6L481.9 315.2L482.0 313.0L482.1 310.9L482.1 309.1L482.2 307.6L482.3 306.4L482.3 305.5L482.4 305.0L482.5 304.8L482.5 305.0L482.6 305.5L482.7 306.4L482.8 307.6L482.8 309.1L482.9 310.9L483.0 313.0L483.0 315.2L483.1 317.6L483.2 320.2L483.2 322.9L483.3 325.6L483.4 328.3L483.5 331.0L483.5 333.6L483.6 336.0L483.7 338.2L483.7 340.3L483.8 342.1L483.9 343.6L483.9 344.8L484.0 345.7L484.1 346.2L484.1 346.4L484.2 346.2L484.3 345.7L484.4 344.8L484.4 343.6L484.5 342.1L484.6 340.3L484.6 338.2L484.7 336.0L484.8 333.6L484.8 331.0L484.9 328.3L485.0 325.6L485.1 322.9L485.1 320.2L485.2 317.6L485.3 315.2L485.3 313.0L485.4 310.9L485.5 309.1L485.5 307.6L485.6 306.4L485.7 305.5L485.8 305.0L485.8 304.8L485.9 305.0L486.0 305.5L486.0 306.4L486.1 307.6L486.2 309.1L486.2 310.9L486.3 313.0L486.4 315.2L486.5 317.6L486.5 320.2L486.6 322.9L486.7 325.6L486.7 328.3L486.8 331.0L486.9 333.6L486.9 336.0L487.0 338.2L487.1 340.3L487.2 342.1L487.2 343.6L487.3 344.8L487.4 345.7L487.4 346.2L487.5 346.4L487.6 346.2L487.6 345.7L487.7 344.8L487.8 343.6L487.9 342.1L487.9 340.3L488.0 338.2L488.1 336.0L488.1 333.6L488.2 331.0L488.3 328.3L488.3 325.6L488.4 322.9L488.5 320.2L488.6 317.6L488.6 315.2L488.7 313.0L488.8 310.9L488.8 309.1L488.9 307.6L489.0 306.4L489.0 305.5L489.1 305.0L489.2 304.8L489.3 305.0L489.3 305.5L489.4 306.4L489.5 307.6L489.5 309.1L489.6 310.9L489.7 313.0L489.7 315.2L489.8 317.6L489.9 320.2L490.0 322.9L490.0 325.6L490.1 328.3L490.2 331.0L490.2 333.6L490.3 336.0L490.4 338.2L490.4 340.3L490.5 342.1L490.6 343.6L490.7 344.8L490.7 345.7L490.8 346.2L490.9 346.4L490.9 346.2L491.0 345.7L491.1 344.8L491.1 343.6L491.2 342.1L491.3 340.3L491.4 338.2L491.4 336.0L491.5 333.6L491.6 331.0L491.6 328.3L491.7 325.6L491.8 322.9L491.8 320.2L491.9 317.6L492.0 315.2L492.1 313.0L492.1 310.9L492.2 309.1L492.3 307.6L492.3 306.4L492.4 305.5L492.5 305.0L492.5 304.8L492.6 313.4L492.7 313.8L492.7 314.4L492.8 315.2L492.9 316.2L493.0 317.3L493.0 318.5L493.1 319.8L493.2 321.2L493.2 322.6L493.3 324.1L493.4 325.6L493.4 327.1L493.5 328.5L493.6 329.9L493.7 331.1L493.7 332.3L493.8 333.4L493.9 334.3L493.9 335.0L494.0 335.6L494.1 336.1L494.1 336.3L494.2 336.4L494.3 336.3L494.4 336.0L494.4 335.5L494.5 334.9L494.6 334.1L494.6 333.1L494.7 332.1L494.8 330.9L494.8 329.7L494.9 328.3L495.0 327.0L495.1 325.6L495.1 324.2L495.2 322.9L495.3 321.6L495.3 320.3L495.4 319.2L495.5 318.2L495.5 317.3L495.6 316.5L495.7 315.9L495.8 315.5L495.8 315.2L495.9 315.1L496.0 315.2L496.0 315.5L496.1 315.9L496.2 316.6L496.2 317.3L496.3 318.2L496.4 319.2L496.5 320.4L496.5 321.6L496.6 322.9L496.7 324.2L496.7 325.6L496.8 327.0L496.9 328.3L496.9 329.6L497.0 330.8L497.1 331.9L497.2 333.0L497.2 333.9L497.3 334.6L497.4 335.2L497.4 335.6L497.5 335.9L497.6 336.0L497.6 335.9L497.7 335.6L497.8 335.2L497.9 334.6L497.9 333.8L498.0 333.0L498.1 331.9L498.1 330.8L498.2 329.6L498.3 328.3L498.3 327.0L498.4 325.6L498.5 324.2L498.6 322.9L498.6 321.6L498.7 320.4L498.8 319.3L498.8 318.3L498.9 317.4L499.0 316.6L499.0 316.0L499.1 315.6L499.2 315.3L499.3 315.2L499.3 315.3L499.4 315.6L499.5 316.0L499.5 316.6L499.6 317.4L499.7 318.3L499.7 319.3L499.8 320.4L499.9 321.6L500.0 322.9L500.0 324.2L500.1 325.6L500.2 327.0L500.2 328.3L500.3 329.6L500.4 330.8L500.4 331.9L500.5 332.9L500.6 333.8L500.7 334.6L500.7 335.2L500.8 335.6L500.9 335.9L500.9 336.0L501.0 335.9L501.1 335.6L501.1 335.2L501.2 334.6L501.3 333.8L501.3 332.9L501.4 331.9L501.5 330.8L501.6 329.6L501.6 328.3L501.7 327.0L501.8 325.6L501.8 324.2L501.9 322.9L502.0 321.6L502.0 320.4L502.1 319.3L502.2 318.3L502.3 317.4L502.3 316.6L502.4 316.0L502.5 315.6L502.5 315.3L502.6 315.2L502.7 315.3L502.7 315.6L502.8 316.0L502.9 316.6L503.0 317.4L503.0 318.3L503.1 319.3L503.2 320.4L503.2 321.6L503.3 322.9L503.4 324.2L503.4 325.6L503.5 327.0L503.6 328.3L503.7 329.6L503.7 330.8L503.8 331.9L503.9 332.9L503.9 333.8L504.0 334.6L504.1 335.2L504.1 335.6L504.2 335.9L504.3 336.0L504.4 335.9L504.4 335.6L504.5 335.2L504.6 334.6L504.6 333.8L504.7 332.9L504.8 331.9L504.8 330.8L504.9 329.6L505.0 328.3L505.1 327.0L505.1 325.6L505.2 324.2L505.3 322.9L505.3 321.6L505.4 320.4L505.5 319.3L505.5 318.3L505.6 317.4L505.7 316.6L505.8 316.0L505.8 315.6L505.9 315.3L506.0 315.2L506.0 315.3L506.1 315.6L506.2 316.0L506.2 316.6L506.3 317.4L506.4 318.3L506.5 319.3L506.5 320.4L506.6 321.6L506.7 322.9L506.7 324.2L506.8 325.6L506.9 327.0L506.9 328.3L507.0 329.6L507.1 330.8L507.2 331.9L507.2 332.9L507.3 333.8L507.4 334.6L507.4 335.2L507.5 335.6L507.6 335.9L507.6 336.0L507.7 335.9L507.8 335.6L507.9 335.2L507.9 334.6L508.0 333.8L508.1 332.9L508.1 331.9L508.2 330.8L508.3 329.6L508.3 328.3L508.4 327.0L508.5 325.6L508.6 324.2L508.6 322.9L508.7 321.6L508.8 320.4L508.8 319.3L508.9 318.3L509.0 317.4L509.0 316.6L509.1 316.0L509.2 315.6L509.3 315.3L509.3 315.2L509.4 315.3L509.5 315.6L509.5 316.0L509.6 316.6L509.7 317.4L509.7 318.3L509.8 319.3L509.9 320.4L509.9 321.6L510.0 322.9L510.1 324.2L510.2 325.6L510.2 327.0L510.3 328.3L510.4 329.6L510.4 330.8L510.5 331.9L510.6 332.9L510.6 333.8L510.7 334.6L510.8 335.2L510.9 335.6L510.9 335.9L511.0 336.0L511.1 335.9L511.1 335.6L511.2 335.2L511.3 334.6L511.3 333.8L511.4 332.9L511.5 331.9L511.6 330.8L511.6 329.6L511.7 328.3L511.8 327.0L511.8 325.6L511.9 324.2L512.0 322.9L512.0 321.6L512.1 320.4L512.2 319.3L512.3 318.3L512.3 317.4L512.4 316.6L512.5 316.0L512.5 315.6L512.6 315.3L512.7 315.2L512.7 315.3L512.8 315.6L512.9 316.0L513.0 316.6L513.0 317.4L513.1 318.3L513.2 319.3L513.2 320.4L513.3 321.6L513.4 322.9L513.4 324.2L513.5 325.6L513.6 327.0L513.7 328.3L513.7 329.6L513.8 330.8L513.9 331.9L513.9 332.9L514.0 333.8L514.1 334.6L514.1 335.2L514.2 335.6L514.3 335.9L514.4 336.0L514.4 335.9L514.5 335.6L514.6 335.2L514.6 334.6L514.7 333.8L514.8 332.9L514.8 331.9L514.9 330.8L515.0 329.6L515.1 328.3L515.1 327.0L515.2 325.6L515.3 324.2L515.3 322.9L515.4 321.6L515.5 320.4L515.5 319.3L515.6 318.3L515.7 317.4L515.8 316.6L515.8 316.0L515.9 315.6L516.0 315.3L516.0 315.2L516.1 315.3L516.2 315.6L516.2 316.0L516.3 316.6L516.4 317.4L516.5 318.3L516.5 319.3L516.6 320.4L516.7 321.6L516.7 322.9L516.8 324.2L516.9 325.6L516.9 327.0L517.0 328.3L517.1 329.6L517.2 330.8L517.2 331.9L517.3 332.9L517.4 333.8L517.4 334.6L517.5 335.2L517.6 335.6L517.6 335.9L517.7 336.0L517.8 335.9L517.8 335.6L517.9 335.2L518.0 334.6L518.1 333.8L518.1 332.9L518.2 331.9L518.3 330.8L518.3 329.6L518.4 328.3L518.5 327.0L518.5 325.6L518.6 324.2L518.7 322.9L518.8 321.6L518.8 320.4L518.9 319.3L519.0 318.3L519.0 317.4L519.1 316.6L519.2 316.0L519.2 315.6L519.3 315.3L519.4 315.2L519.5 315.3L519.5 315.6L519.6 316.0L519.7 316.6L519.7 317.4L519.8 318.3L519.9 319.3L519.9 320.4L520.0 321.6L520.1 322.9L520.2 324.2L520.2 325.6L520.3 327.0L520.4 328.3L520.4 329.6L520.5 330.8L520.6 331.9L520.6 332.9L520.7 333.8L520.8 334.6L520.9 335.2L520.9 335.6L521.0 335.9L521.1 336.0L521.1 335.9L521.2 335.6L521.3 335.2L521.3 334.6L521.4 333.8L521.5 332.9L521.6 331.9L521.6 330.8L521.7 329.6L521.8 328.3L521.8 327.0L521.9 325.6L522.0 324.2L522.0 322.9L522.1 321.6L522.2 320.4L522.3 319.3L522.3 318.3L522.4 317.4L522.5 316.6L522.5 316.0L522.6 315.6L522.7 315.3L522.7 315.2L522.8 315.3L522.9 315.6L523.0 316.0L523.0 316.6L523.1 317.4L523.2 318.3L523.2 319.3L523.3 320.4L523.4 321.6L523.4 322.9L523.5 324.2L523.6 325.6L523.7 327.0L523.7 328.3L523.8 329.6L523.9 330.8L523.9 331.9L524.0 332.9L524.1 333.8L524.1 334.6L524.2 335.2L524.3 335.6L524.4 335.9L524.4 336.0L524.5 335.9L524.6 335.6L524.6 335.2L524.7 334.6L524.8 333.8L524.8 332.9L524.9 331.9L525.0 330.8L525.1 329.6L525.1 328.3L525.2 327.0L525.3 325.6L525.3 324.2L525.4 322.9L525.5 321.6L525.5 320.4L525.6 319.3L525.7 318.3" fill="none" stroke="#0000ff" stroke-width="1.6" stroke-linejoin="round"/>
<line x1="274.4" y1="410.7" x2="274.4" y2="239.4" stroke="rgba(0,0,0,0.48)" stroke-width="1.15" stroke-dasharray="5.6 3.4" stroke-dashoffset="0"/>
<line x1="358.3" y1="410.7" x2="358.3" y2="239.4" stroke="rgba(0,0,0,0.48)" stroke-width="1.15" stroke-dasharray="5.6 3.4" stroke-dashoffset="0"/>
<line x1="442.2" y1="410.7" x2="442.2" y2="239.4" stroke="rgba(0,0,0,0.48)" stroke-width="1.15" stroke-dasharray="5.6 3.4" stroke-dashoffset="0"/>
<line x1="190.5" y1="403.51" x2="525.7" y2="403.51" stroke="rgba(0,0,0,0.48)" stroke-width="1.15" stroke-dasharray="6.6 3.9" stroke-dashoffset="8.2"/>
<line x1="190.5" y1="377.54" x2="525.7" y2="377.54" stroke="rgba(0,0,0,0.48)" stroke-width="1.15" stroke-dasharray="6.6 3.9" stroke-dashoffset="8.2"/>
<line x1="190.5" y1="351.57" x2="525.7" y2="351.57" stroke="rgba(0,0,0,0.48)" stroke-width="1.15" stroke-dasharray="6.6 3.9" stroke-dashoffset="8.2"/>
<line x1="190.5" y1="325.6" x2="525.7" y2="325.6" stroke="rgba(0,0,0,0.48)" stroke-width="1.15" stroke-dasharray="6.6 3.9" stroke-dashoffset="8.2"/>
<line x1="190.5" y1="299.63" x2="525.7" y2="299.63" stroke="rgba(0,0,0,0.48)" stroke-width="1.15" stroke-dasharray="6.6 3.9" stroke-dashoffset="8.2"/>
<line x1="190.5" y1="273.66" x2="525.7" y2="273.66" stroke="rgba(0,0,0,0.48)" stroke-width="1.15" stroke-dasharray="6.6 3.9" stroke-dashoffset="8.2"/>
<line x1="190.5" y1="247.69" x2="525.7" y2="247.69" stroke="rgba(0,0,0,0.48)" stroke-width="1.15" stroke-dasharray="6.6 3.9" stroke-dashoffset="8.2"/>
<text transform="translate(186 408.41) scale(1.08 1)" font-size="10.0" text-anchor="end">-30</text>
<text transform="translate(186 382.44) scale(1.08 1)" font-size="10.0" text-anchor="end">-20</text>
<text transform="translate(186 356.47) scale(1.08 1)" font-size="10.0" text-anchor="end">-10</text>
<text transform="translate(186 330.5) scale(1.08 1)" font-size="10.0" text-anchor="end">0</text>
<text transform="translate(186 304.53) scale(1.08 1)" font-size="10.0" text-anchor="end">10</text>
<text transform="translate(186 278.56) scale(1.08 1)" font-size="10.0" text-anchor="end">20</text>
<text transform="translate(186 252.59) scale(1.08 1)" font-size="10.0" text-anchor="end">30</text>
<text transform="translate(190.5 424.9) scale(1.04 1)" font-size="10.4" text-anchor="middle">0</text>
<text transform="translate(274.4 424.9) scale(1.04 1)" font-size="10.4" text-anchor="middle">0.5</text>
<text transform="translate(358.3 424.9) scale(1.04 1)" font-size="10.4" text-anchor="middle">1</text>
<text transform="translate(442.2 424.9) scale(1.04 1)" font-size="10.4" text-anchor="middle">1.5</text>
<text transform="translate(526.1 424.9) scale(1.04 1)" font-size="10.4" text-anchor="middle">2</text>
<text transform="translate(358.9 438) scale(1.11 1)" font-size="10.5" text-anchor="middle">Time (sec)</text>
<text transform="translate(161.9 324.7) scale(1.2 1) rotate(-90)" font-size="10.1" text-anchor="middle">Grid Current (A)</text>
<text x="368" y="457.9" font-size="11" text-anchor="middle" class="cap">(iii)</text>
</g>
</svg></body></html>
